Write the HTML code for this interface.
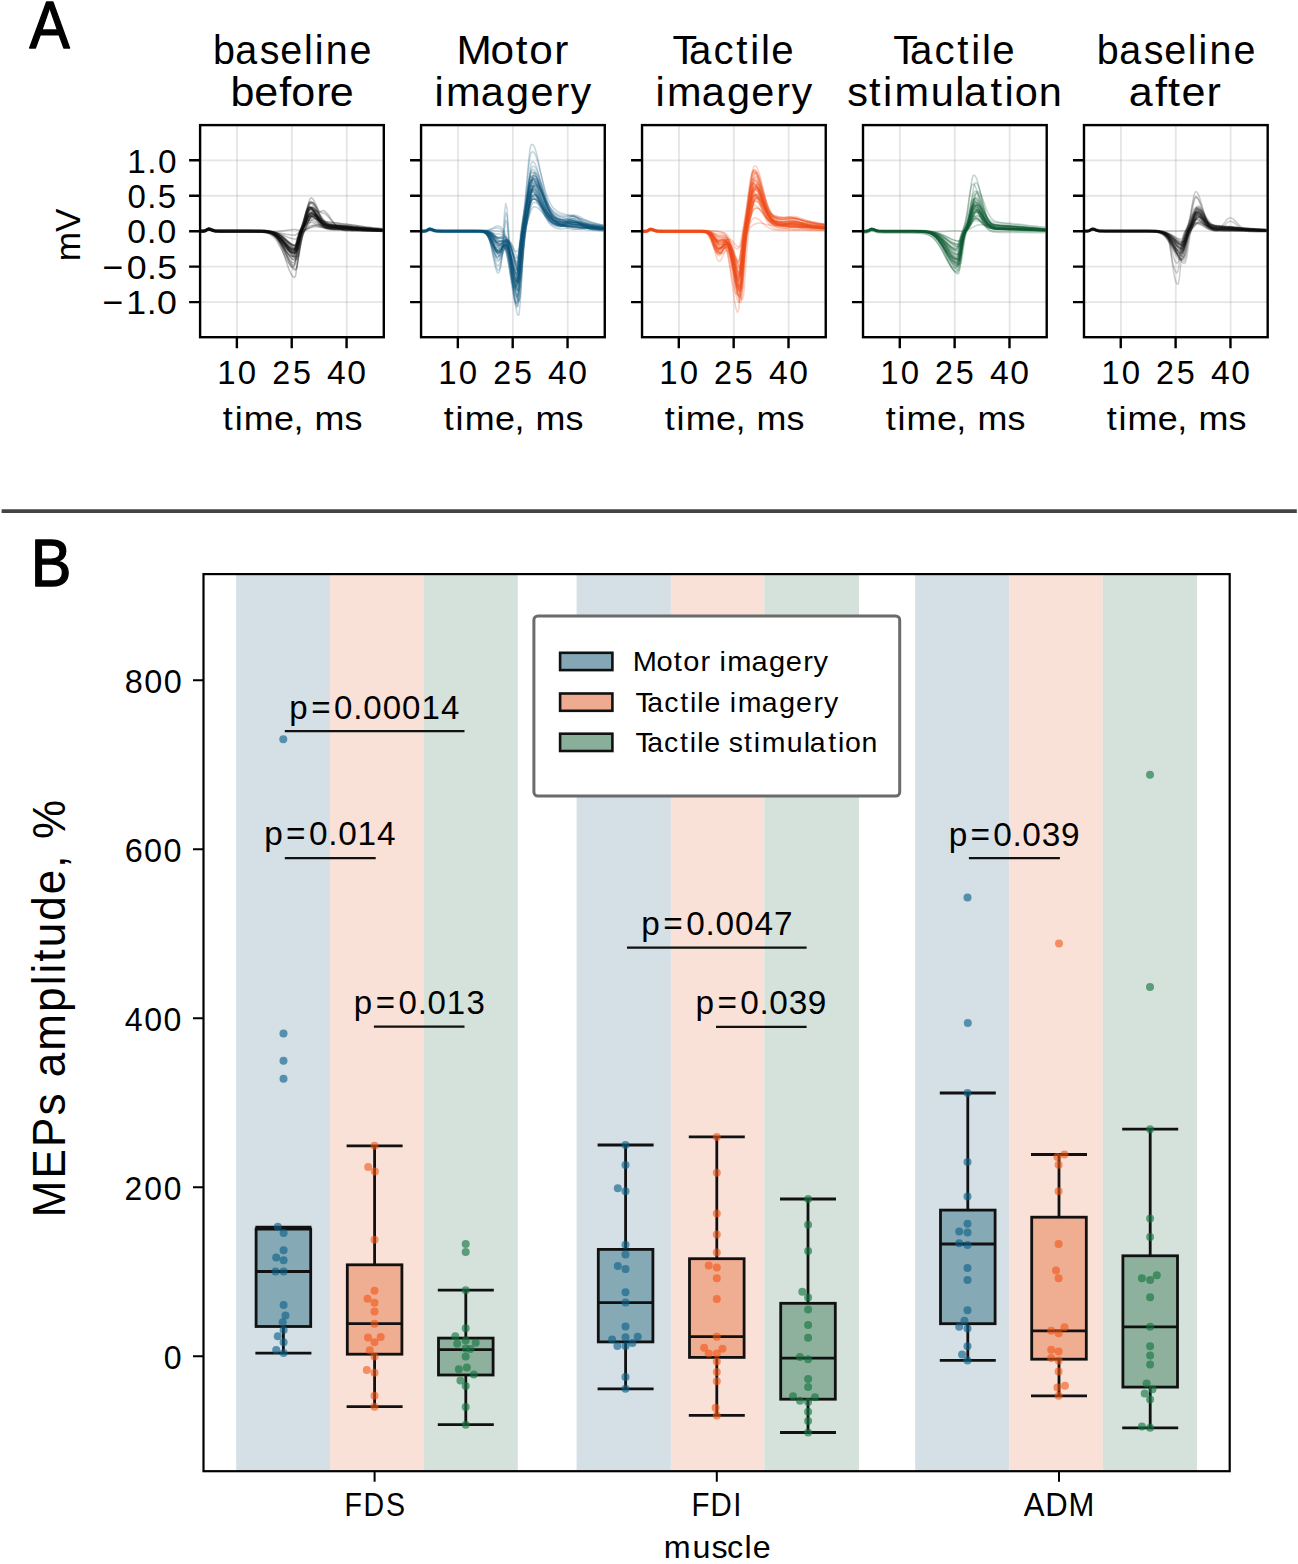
<!DOCTYPE html><html><head><meta charset="utf-8"><style>html,body{margin:0;padding:0;background:#fff;overflow:hidden;}svg{display:block;}text{font-family:"Liberation Sans",sans-serif;font-kerning:none;}</style></head><body>
<svg width="1298" height="1564" viewBox="0 0 1298 1564">
<rect width="1298" height="1564" fill="#fff"/>
<text transform="translate(29.5,47.7) scale(0.91,1)" x="-0.13" font-size="66.28" fill="#000" stroke="#000" stroke-width="1.4" stroke-linejoin="round">A</text>
<text transform="translate(211.53,64.2) scale(0.98,1)" x="1.49 24.21 49.28 70.2 94.34 105.24 116.44 140.89" font-size="40.26" fill="#000">baseline</text>
<text transform="translate(230.16,106.2) scale(1.07,1)" x="0.35 22.59 45.86 57.07 80.48 93.01" font-size="40.26" fill="#000">before</text>
<path d="M237.02 125.1V337.2M291.88 125.1V337.2M346.73 125.1V337.2" stroke="#b0b0b0" stroke-opacity="0.33" stroke-width="1.8" fill="none"/>
<path d="M200.1 160.3H383.8M200.1 195.75H383.8M200.1 231.2H383.8M200.1 266.65H383.8M200.1 302.1H383.8" stroke="#b0b0b0" stroke-opacity="0.33" stroke-width="1.8" fill="none"/>
<g fill="none" stroke="#111111" stroke-width="1.5" stroke-opacity="0.26" stroke-linejoin="round">
<polyline points="200.3,232 203.2,231.9 205.4,231.5 207.2,230.4 208.7,229.8 210.5,230.2 212.4,231 214.9,231.7 222.2,232 236.9,232 251.5,232 258.8,232 260.6,232.1 261.8,232.1 263.1,232.2 264.3,232.3 265.5,232.4 266.7,232.6 267.9,232.9 269.1,233.2 270.3,233.5 271.5,234 272.7,234.6 273.9,235.3 275.1,236.1 276.3,237 277.5,238.1 278.7,239.2 279.9,240.5 281.2,241.9 282.4,243.3 283.6,244.8 284.8,246.2 286,247.6 287.2,248.9 288.4,250.1 289.6,251 290.8,251.7 292,252.2 293.2,252.4 294.4,251.2 295.6,247.2 296.8,241.9 298.1,236.9 299.3,232.9 300.5,229.6 301.7,226.5 302.9,222.9 304.1,218.8 305.3,214.5 306.5,210.8 307.7,208.4 308.9,207.8 310.1,208 311.3,208.9 312.5,210.3 313.7,212.1 314.9,214.3 316.2,216.6 317.4,218.8 318.6,220.8 319.8,222.6 321,224.2 322.2,225.4 323.4,226.3 324.6,227.1 325.8,227.6 327,228 328.2,228.2 329.4,228.4 330.6,228.6 331.8,228.7 333,228.8 336.3,228.9 339.6,229.1 342.9,229.3 346.2,229.5 349.5,229.7 352.8,229.8 356.1,230 359.4,230.2 362.7,230.4 366,230.6 369.3,230.7 372.5,230.9 375.8,231 379.1,231.2 382.4,231.3"/>
<polyline points="200.3,231.9 203.2,231.9 205.4,231.5 207.2,230.4 208.7,229.8 210.5,230.2 212.4,231 214.9,231.7 222.2,231.9 236.9,231.9 251.5,231.9 258.8,232 260.6,232 261.8,232 263.1,232.1 264.3,232.2 265.5,232.2 266.7,232.4 267.9,232.5 269.1,232.7 270.3,233 271.5,233.4 272.7,233.8 273.9,234.3 275.1,235 276.3,235.7 277.5,236.6 278.7,237.6 279.9,238.7 281.2,239.9 282.4,241.2 283.6,242.6 284.8,244 286,245.4 287.2,246.7 288.4,248 289.6,249.1 290.8,250.1 292,250.8 293.2,251.3 294.4,251.5 295.6,251 296.8,247.7 298.1,242.7 299.3,237.7 300.5,233.6 301.7,230.3 302.9,227.2 304.1,223.7 305.3,219.7 306.5,215.4 307.7,211.4 308.9,208.7 310.1,207.8 311.3,208 312.5,208.8 313.7,210.2 314.9,212.1 316.2,214.3 317.4,216.7 318.6,219 319.8,221.1 321,223 322.2,224.7 323.4,226 324.6,227 325.8,227.8 327,228.4 328.2,228.8 329.4,229.1 330.6,229.3 331.8,229.4 333,229.5 336.3,229.7 339.6,229.8 342.9,230 346.2,230.1 349.5,230.2 352.8,230.4 356.1,230.5 359.4,230.6 362.7,230.8 366,230.9 369.3,231 372.5,231.1 375.8,231.2 379.1,231.3 382.4,231.4"/>
<polyline points="200.3,231.3 203.2,231.2 205.4,230.8 207.2,229.7 208.7,229.1 210.5,229.5 212.4,230.3 214.9,231 222.2,231.3 236.9,231.3 251.5,231.3 258.8,231.3 260.6,231.3 261.8,231.3 263.1,231.4 264.3,231.4 265.5,231.5 266.7,231.6 267.9,231.7 269.1,231.9 270.3,232.1 271.5,232.4 272.7,232.8 273.9,233.2 275.1,233.8 276.3,234.4 277.5,235.2 278.7,236.1 279.9,237.1 281.2,238.2 282.4,239.5 283.6,240.8 284.8,242.2 286,243.6 287.2,245 288.4,246.3 289.6,247.5 290.8,248.6 292,249.6 293.2,250.3 294.4,250.7 295.6,250.9 296.8,249.9 298.1,246.1 299.3,241 300.5,236 301.7,231.9 302.9,228.3 304.1,224.8 305.3,220.6 306.5,215.8 307.7,210.8 308.9,206.3 310.1,203.3 311.3,202.3 312.5,202.4 313.7,203.2 314.9,204.7 316.2,206.7 317.4,209.1 318.6,211.8 319.8,214.4 321,216.7 322.2,218.8 323.4,220.6 324.6,222 325.8,223.2 327,224 328.2,224.7 329.4,225.1 330.6,225.5 331.8,225.7 333,225.9 336.3,226.2 339.6,226.5 342.9,226.8 346.2,227 349.5,227.3 352.8,227.6 356.1,228 359.4,228.3 362.7,228.6 366,228.8 369.3,229.1 372.5,229.4 375.8,229.6 379.1,229.8 382.4,230"/>
<polyline points="200.3,231.8 203.2,231.8 205.4,231.4 207.2,230.3 208.7,229.7 210.5,230.1 212.4,230.9 214.9,231.6 222.2,231.8 236.9,231.8 251.5,231.8 258.8,231.9 260.6,231.9 261.8,231.9 263.1,231.9 264.3,231.9 265.5,231.9 266.7,231.9 267.9,232 269.1,232 270.3,232 271.5,232.1 272.7,232.2 273.9,232.3 275.1,232.4 276.3,232.5 277.5,232.7 278.7,232.8 279.9,233 281.2,233.2 282.4,233.5 283.6,233.7 284.8,233.9 286,234.2 287.2,234.4 288.4,234.6 289.6,234.8 290.8,235 292,235.1 293.2,235.1 294.4,235.2 295.6,234.9 296.8,234.2 298.1,233.2 299.3,232.2 300.5,231.1 301.7,229.8 302.9,228.1 304.1,225.9 305.3,223.3 306.5,220.6 307.7,218.2 308.9,216.6 310.1,216.1 311.3,216.1 312.5,216.6 313.7,217.4 314.9,218.5 316.2,219.8 317.4,221.3 318.6,222.7 319.8,223.9 321,225.1 322.2,226 323.4,226.8 324.6,227.4 325.8,227.9 327,228.2 328.2,228.5 329.4,228.6 330.6,228.8 331.8,228.9 333,228.9 336.3,229.1 339.6,229.3 342.9,229.4 346.2,229.6 349.5,229.7 352.8,229.9 356.1,230.1 359.4,230.2 362.7,230.4 366,230.6 369.3,230.7 372.5,230.9 375.8,231 379.1,231.1 382.4,231.2"/>
<polyline points="200.3,231 203.2,231 205.4,230.6 207.2,229.5 208.7,228.9 210.5,229.3 212.4,230.1 214.9,230.8 222.2,231 236.9,231 251.5,231 258.8,231.1 260.6,231.1 261.8,231.2 263.1,231.2 264.3,231.3 265.5,231.4 266.7,231.5 267.9,231.7 269.1,231.9 270.3,232.2 271.5,232.6 272.7,233.1 273.9,233.6 275.1,234.3 276.3,235.2 277.5,236.1 278.7,237.2 279.9,238.5 281.2,239.8 282.4,241.3 283.6,242.8 284.8,244.4 286,246 287.2,247.5 288.4,249 289.6,250.3 290.8,251.4 292,252.3 293.2,252.9 294.4,253.2 295.6,252.9 296.8,249.7 298.1,244.3 299.3,238.8 300.5,234.3 301.7,231 302.9,228.5 304.1,226.1 305.3,223.6 306.5,220.8 307.7,218.2 308.9,216.1 310.1,215.1 311.3,214.9 312.5,215.1 313.7,215.7 314.9,216.6 316.2,217.7 317.4,219.1 318.6,220.5 319.8,221.8 321,222.9 322.2,223.9 323.4,224.8 324.6,225.4 325.8,225.9 327,226.3 328.2,226.6 329.4,226.8 330.6,227 331.8,227.1 333,227.2 336.3,227.4 339.6,227.6 342.9,227.8 346.2,228 349.5,228.2 352.8,228.4 356.1,228.7 359.4,228.9 362.7,229.1 366,229.3 369.3,229.5 372.5,229.7 375.8,229.9 379.1,230 382.4,230.2"/>
<polyline points="200.3,230.8 203.2,230.8 205.4,230.4 207.2,229.3 208.7,228.7 210.5,229.1 212.4,229.8 214.9,230.6 222.2,230.8 236.9,230.8 251.5,230.8 258.8,230.8 260.6,230.8 261.8,230.9 263.1,230.9 264.3,230.9 265.5,231 266.7,231.1 267.9,231.2 269.1,231.3 270.3,231.5 271.5,231.7 272.7,231.9 273.9,232.3 275.1,232.7 276.3,233.2 277.5,233.8 278.7,234.4 279.9,235.2 281.2,236.1 282.4,237 283.6,238 284.8,239 286,240.1 287.2,241.1 288.4,242.1 289.6,243.1 290.8,243.9 292,244.6 293.2,245.1 294.4,245.5 295.6,245.6 296.8,244.8 298.1,242 299.3,238.2 300.5,234.5 301.7,231.6 302.9,229.2 304.1,226.8 305.3,224.1 306.5,221 307.7,217.8 308.9,215 310.1,213.2 311.3,212.8 312.5,213.1 313.7,213.8 314.9,215 316.2,216.4 317.4,218.1 318.6,219.9 319.8,221.6 321,223.2 322.2,224.6 323.4,225.7 324.6,226.7 325.8,227.4 327,228 328.2,228.4 329.4,228.7 330.6,228.9 331.8,229 333,229.1 336.3,229.3 339.6,229.4 342.9,229.4 346.2,229.5 349.5,229.6 352.8,229.7 356.1,229.8 359.4,229.9 362.7,230 366,230.1 369.3,230.2 372.5,230.2 375.8,230.3 379.1,230.4 382.4,230.4"/>
<polyline points="200.3,231.6 203.2,231.6 205.4,231.2 207.2,230.1 208.7,229.5 210.5,229.9 212.4,230.7 214.9,231.4 222.2,231.6 236.9,231.6 251.5,231.6 258.8,231.7 260.6,231.8 261.8,231.9 263.1,232 264.3,232.1 265.5,232.3 266.7,232.5 267.9,232.8 269.1,233.2 270.3,233.7 271.5,234.3 272.7,235 273.9,235.8 275.1,236.8 276.3,238 277.5,239.3 278.7,240.8 279.9,242.3 281.2,244 282.4,245.8 283.6,247.5 284.8,249.3 286,250.9 287.2,252.5 288.4,253.8 289.6,254.9 290.8,255.7 292,256.2 293.2,256.3 294.4,254.2 295.6,249 296.8,242.7 298.1,237.4 299.3,233.7 300.5,231.3 301.7,229.6 302.9,228.2 304.1,226.7 305.3,225.3 306.5,224 307.7,223.1 308.9,222.6 310.1,222.4 311.3,222.4 312.5,222.6 313.7,223 314.9,223.5 316.2,224.2 317.4,224.8 318.6,225.4 319.8,225.9 321,226.3 322.2,226.6 323.4,226.9 324.6,227.1 325.8,227.3 327,227.4 328.2,227.5 329.4,227.6 330.6,227.7 331.8,227.8 333,227.8 336.3,228 339.6,228.2 342.9,228.4 346.2,228.6 349.5,228.9 352.8,229.1 356.1,229.3 359.4,229.6 362.7,229.8 366,230 369.3,230.2 372.5,230.4 375.8,230.5 379.1,230.7 382.4,230.8"/>
<polyline points="200.3,232 203.2,231.9 205.4,231.5 207.2,230.4 208.7,229.8 210.5,230.2 212.4,231 214.9,231.7 222.2,232 236.9,232 251.5,232 258.8,231.9 260.6,231.9 261.8,231.9 263.1,231.9 264.3,231.9 265.5,231.9 266.7,231.9 267.9,231.9 269.1,231.9 270.3,231.8 271.5,231.8 272.7,231.7 273.9,231.7 275.1,231.6 276.3,231.5 277.5,231.4 278.7,231.3 279.9,231.2 281.2,231 282.4,230.9 283.6,230.7 284.8,230.6 286,230.4 287.2,230.2 288.4,230.1 289.6,229.9 290.8,229.8 292,229.7 293.2,229.6 294.4,229.6 295.6,229.5 296.8,229.8 298.1,230.1 299.3,230.4 300.5,230.3 301.7,229.7 302.9,228.3 304.1,226.3 305.3,223.5 306.5,220.4 307.7,217.3 308.9,214.8 310.1,213.4 311.3,213.1 312.5,213.2 313.7,213.7 314.9,214.6 316.2,215.9 317.4,217.4 318.6,219 319.8,220.5 321,221.9 322.2,223 323.4,224 324.6,224.8 325.8,225.4 327,225.8 328.2,226.2 329.4,226.4 330.6,226.6 331.8,226.8 333,226.9 336.3,227.2 339.6,227.4 342.9,227.7 346.2,227.9 349.5,228.2 352.8,228.5 356.1,228.8 359.4,229.1 362.7,229.4 366,229.7 369.3,229.9 372.5,230.2 375.8,230.4 379.1,230.6 382.4,230.8"/>
<polyline points="200.3,231.1 203.2,231.1 205.4,230.7 207.2,229.6 208.7,229 210.5,229.4 212.4,230.2 214.9,230.9 222.2,231.1 236.9,231.1 251.5,231.1 258.8,231.2 260.6,231.2 261.8,231.2 263.1,231.3 264.3,231.4 265.5,231.5 266.7,231.6 267.9,231.7 269.1,232 270.3,232.2 271.5,232.6 272.7,233 273.9,233.5 275.1,234.1 276.3,234.8 277.5,235.7 278.7,236.6 279.9,237.6 281.2,238.8 282.4,240 283.6,241.3 284.8,242.6 286,243.9 287.2,245.1 288.4,246.3 289.6,247.3 290.8,248.1 292,248.8 293.2,249.2 294.4,249.3 295.6,248.3 296.8,244.7 298.1,240 299.3,235.6 300.5,232.2 301.7,229.5 302.9,227.1 304.1,224.4 305.3,221.5 306.5,218.4 307.7,215.6 308.9,213.8 310.1,213.1 311.3,213 312.5,213.4 313.7,214.2 314.9,215.3 316.2,216.7 317.4,218.3 318.6,219.8 319.8,221.2 321,222.4 322.2,223.5 323.4,224.3 324.6,225 325.8,225.5 327,225.9 328.2,226.2 329.4,226.4 330.6,226.5 331.8,226.7 333,226.8 336.3,227 339.6,227.2 342.9,227.4 346.2,227.7 349.5,227.9 352.8,228.2 356.1,228.4 359.4,228.7 362.7,229 366,229.2 369.3,229.4 372.5,229.6 375.8,229.8 379.1,230 382.4,230.2"/>
<polyline points="200.3,231.5 203.2,231.5 205.4,231.1 207.2,229.9 208.7,229.4 210.5,229.7 212.4,230.5 214.9,231.3 222.2,231.5 236.9,231.5 251.5,231.5 258.8,231.5 260.6,231.6 261.8,231.6 263.1,231.7 264.3,231.8 265.5,231.9 266.7,232.1 267.9,232.3 269.1,232.5 270.3,232.9 271.5,233.3 272.7,233.8 273.9,234.4 275.1,235.1 276.3,236 277.5,236.9 278.7,238 279.9,239.2 281.2,240.4 282.4,241.7 283.6,243.1 284.8,244.5 286,245.8 287.2,247 288.4,248.1 289.6,249 290.8,249.7 292,250.2 293.2,250.4 294.4,249.8 295.6,246.6 296.8,241.9 298.1,237.2 299.3,233.5 300.5,230.8 301.7,228.7 302.9,226.6 304.1,224.3 305.3,221.9 306.5,219.6 307.7,217.8 308.9,216.8 310.1,216.3 311.3,216.2 312.5,216.4 313.7,216.9 314.9,217.7 316.2,218.7 317.4,219.8 318.6,220.8 319.8,221.7 321,222.4 322.2,223.1 323.4,223.6 324.6,224 325.8,224.3 327,224.6 328.2,224.7 329.4,224.9 330.6,225 331.8,225.2 333,225.3 336.3,225.6 339.6,225.9 342.9,226.2 346.2,226.6 349.5,226.9 352.8,227.3 356.1,227.7 359.4,228.1 362.7,228.4 366,228.8 369.3,229.1 372.5,229.4 375.8,229.7 379.1,229.9 382.4,230.2"/>
<polyline points="200.3,230.6 203.2,230.6 205.4,230.2 207.2,229.1 208.7,228.5 210.5,228.9 212.4,229.7 214.9,230.4 222.2,230.6 236.9,230.6 251.5,230.6 258.8,230.7 260.6,230.7 261.8,230.7 263.1,230.8 264.3,230.8 265.5,230.9 266.7,231 267.9,231.2 269.1,231.4 270.3,231.7 271.5,232 272.7,232.4 273.9,233 275.1,233.6 276.3,234.4 277.5,235.3 278.7,236.4 279.9,237.6 281.2,238.9 282.4,240.4 283.6,242 284.8,243.6 286,245.3 287.2,246.9 288.4,248.5 289.6,250 290.8,251.3 292,252.4 293.2,253.2 294.4,253.8 295.6,254 296.8,252.7 298.1,248.2 299.3,242.3 300.5,236.6 301.7,232.1 302.9,228.6 304.1,225.4 305.3,221.8 306.5,217.8 307.7,213.6 308.9,209.9 310.1,207.5 311.3,206.8 312.5,207 313.7,207.9 314.9,209.3 316.2,211.1 317.4,213.2 318.6,215.5 319.8,217.7 321,219.7 322.2,221.5 323.4,223 324.6,224.2 325.8,225.1 327,225.9 328.2,226.4 329.4,226.8 330.6,227 331.8,227.2 333,227.4 336.3,227.6 339.6,227.8 342.9,227.9 346.2,228.1 349.5,228.3 352.8,228.5 356.1,228.6 359.4,228.8 362.7,229 366,229.2 369.3,229.4 372.5,229.5 375.8,229.7 379.1,229.8 382.4,229.9"/>
<polyline points="200.3,231.6 203.2,231.6 205.4,231.2 207.2,230.1 208.7,229.5 210.5,229.9 212.4,230.7 214.9,231.4 222.2,231.6 236.9,231.6 251.5,231.6 258.8,231.7 260.6,231.7 261.8,231.7 263.1,231.8 264.3,231.8 265.5,231.9 266.7,231.9 267.9,232.1 269.1,232.2 270.3,232.4 271.5,232.6 272.7,232.9 273.9,233.3 275.1,233.8 276.3,234.3 277.5,234.9 278.7,235.6 279.9,236.3 281.2,237.2 282.4,238.1 283.6,239 284.8,240 286,240.9 287.2,241.9 288.4,242.7 289.6,243.5 290.8,244.2 292,244.7 293.2,245 294.4,245.1 295.6,244.6 296.8,242.2 298.1,238.7 299.3,235.2 300.5,232.2 301.7,229.6 302.9,226.9 304.1,223.8 305.3,220.2 306.5,216.3 307.7,212.7 308.9,210.2 310.1,209.3 311.3,209.3 312.5,209.8 313.7,210.9 314.9,212.4 316.2,214.3 317.4,216.3 318.6,218.3 319.8,220.1 321,221.8 322.2,223.2 323.4,224.3 324.6,225.2 325.8,225.9 327,226.4 328.2,226.8 329.4,227.1 330.6,227.3 331.8,227.4 333,227.5 336.3,227.7 339.6,228 342.9,228.2 346.2,228.4 349.5,228.6 352.8,228.9 356.1,229.1 359.4,229.4 362.7,229.6 366,229.8 369.3,230 372.5,230.2 375.8,230.4 379.1,230.6 382.4,230.7"/>
<polyline points="200.3,230.9 203.2,230.9 205.4,230.5 207.2,229.3 208.7,228.8 210.5,229.1 212.4,229.9 214.9,230.7 222.2,230.9 236.9,230.9 251.5,230.9 258.8,230.9 260.6,230.9 261.8,231 263.1,231 264.3,231 265.5,231.1 266.7,231.2 267.9,231.3 269.1,231.5 270.3,231.7 271.5,232 272.7,232.4 273.9,232.8 275.1,233.4 276.3,234 277.5,234.8 278.7,235.7 279.9,236.7 281.2,237.8 282.4,239 283.6,240.3 284.8,241.7 286,243.1 287.2,244.5 288.4,245.9 289.6,247.1 290.8,248.2 292,249.2 293.2,249.9 294.4,250.4 295.6,250.6 296.8,249.7 298.1,246.1 299.3,241 300.5,236 301.7,231.8 302.9,228.3 304.1,224.8 305.3,220.7 306.5,215.9 307.7,210.9 308.9,206.4 310.1,203.4 311.3,202.5 312.5,202.7 313.7,203.7 314.9,205.4 316.2,207.5 317.4,210.1 318.6,212.8 319.8,215.4 321,217.9 322.2,220.1 323.4,221.9 324.6,223.4 325.8,224.6 327,225.4 328.2,226.1 329.4,226.6 330.6,226.9 331.8,227.1 333,227.3 336.3,227.6 339.6,227.7 342.9,227.9 346.2,228.1 349.5,228.3 352.8,228.5 356.1,228.7 359.4,228.9 362.7,229.1 366,229.3 369.3,229.5 372.5,229.6 375.8,229.8 379.1,230 382.4,230.1"/>
<polyline points="200.3,231.5 203.2,231.5 205.4,231.1 207.2,230 208.7,229.4 210.5,229.8 212.4,230.6 214.9,231.3 222.2,231.5 236.9,231.5 251.5,231.5 258.8,231.6 260.6,231.6 261.8,231.6 263.1,231.7 264.3,231.7 265.5,231.8 266.7,231.9 267.9,232.1 269.1,232.3 270.3,232.5 271.5,232.8 272.7,233.3 273.9,233.8 275.1,234.4 276.3,235.1 277.5,236 278.7,236.9 279.9,238.1 281.2,239.3 282.4,240.7 283.6,242.1 284.8,243.6 286,245.1 287.2,246.6 288.4,248 289.6,249.3 290.8,250.5 292,251.4 293.2,252.1 294.4,252.5 295.6,252.7 296.8,251 298.1,246.5 299.3,241 300.5,236.1 301.7,232.3 302.9,229.4 304.1,226.7 305.3,223.7 306.5,220.3 307.7,216.9 308.9,214 310.1,212.2 311.3,211.7 312.5,211.8 313.7,212.4 314.9,213.4 316.2,214.8 317.4,216.4 318.6,218.2 319.8,219.9 321,221.4 322.2,222.8 323.4,223.9 324.6,224.8 325.8,225.6 327,226.1 328.2,226.5 329.4,226.8 330.6,227 331.8,227.2 333,227.3 336.3,227.5 339.6,227.8 342.9,228 346.2,228.2 349.5,228.4 352.8,228.7 356.1,228.9 359.4,229.2 362.7,229.4 366,229.6 369.3,229.9 372.5,230.1 375.8,230.2 379.1,230.4 382.4,230.6"/>
<polyline points="200.3,230.6 203.2,230.6 205.4,230.2 207.2,229.1 208.7,228.5 210.5,228.9 212.4,229.7 214.9,230.4 222.2,230.6 236.9,230.6 251.5,230.7 258.8,230.7 260.6,230.8 261.8,230.9 263.1,230.9 264.3,231.1 265.5,231.2 266.7,231.5 267.9,231.7 269.1,232.1 270.3,232.6 271.5,233.2 272.7,233.9 273.9,234.7 275.1,235.7 276.3,236.9 277.5,238.2 278.7,239.7 279.9,241.4 281.2,243.1 282.4,245 283.6,246.9 284.8,248.7 286,250.6 287.2,252.3 288.4,253.8 289.6,255.1 290.8,256.1 292,256.7 293.2,257 294.4,256.2 295.6,251.8 296.8,245.2 298.1,238.6 299.3,233.4 300.5,229.5 301.7,226.2 302.9,222.8 304.1,219 305.3,215 306.5,211.3 307.7,208.5 308.9,207.3 310.1,207.1 311.3,207.4 312.5,208.3 313.7,209.6 314.9,211.4 316.2,213.3 317.4,215.3 318.6,217.2 319.8,218.8 321,220.2 322.2,221.4 323.4,222.3 324.6,223 325.8,223.5 327,223.9 328.2,224.2 329.4,224.4 330.6,224.6 331.8,224.7 333,224.9 336.3,225.2 339.6,225.5 342.9,225.8 346.2,226.1 349.5,226.4 352.8,226.8 356.1,227.1 359.4,227.5 362.7,227.8 366,228.1 369.3,228.4 372.5,228.7 375.8,229 379.1,229.2 382.4,229.4"/>
<polyline points="200.3,230.8 203.2,230.7 205.4,230.3 207.2,229.2 208.7,228.6 210.5,229 212.4,229.8 214.9,230.5 222.2,230.8 236.9,230.8 251.5,230.8 258.8,230.8 260.6,230.8 261.8,230.8 263.1,230.8 264.3,230.9 265.5,230.9 266.7,231 267.9,231.1 269.1,231.3 270.3,231.4 271.5,231.7 272.7,232 273.9,232.3 275.1,232.8 276.3,233.3 277.5,234 278.7,234.7 279.9,235.6 281.2,236.5 282.4,237.6 283.6,238.7 284.8,239.9 286,241.1 287.2,242.4 288.4,243.6 289.6,244.7 290.8,245.7 292,246.6 293.2,247.3 294.4,247.8 295.6,248 296.8,247.8 298.1,245.3 299.3,241 300.5,236.5 301.7,232.7 302.9,229.6 304.1,226.8 305.3,223.6 306.5,220 307.7,216 308.9,212.2 310.1,209.4 311.3,208 312.5,207.8 313.7,208.3 314.9,209.2 316.2,210.7 317.4,212.5 318.6,214.5 319.8,216.6 321,218.6 322.2,220.3 323.4,221.8 324.6,223 325.8,224 327,224.8 328.2,225.3 329.4,225.8 330.6,226.1 331.8,226.3 333,226.4 336.3,226.7 339.6,226.9 342.9,227.1 346.2,227.4 349.5,227.6 352.8,227.8 356.1,228.1 359.4,228.3 362.7,228.6 366,228.8 369.3,229 372.5,229.2 375.8,229.4 379.1,229.6 382.4,229.8"/>
<polyline points="200.3,231.1 203.2,231 205.4,230.6 207.2,229.5 208.7,228.9 210.5,229.3 212.4,230.1 214.9,230.8 222.2,231.1 236.9,231.1 251.5,231.1 258.8,231.1 260.6,231.1 261.8,231.1 263.1,231.2 264.3,231.2 265.5,231.3 266.7,231.4 267.9,231.5 269.1,231.6 270.3,231.9 271.5,232.2 272.7,232.5 273.9,233 275.1,233.6 276.3,234.3 277.5,235.1 278.7,236.1 279.9,237.3 281.2,238.6 282.4,240 283.6,241.6 284.8,243.4 286,245.2 287.2,247 288.4,248.9 289.6,250.6 290.8,252.3 292,253.8 293.2,255 294.4,256 295.6,256.6 296.8,256.9 298.1,256 299.3,251.5 300.5,245.1 301.7,238.8 302.9,234 304.1,230.7 305.3,228.2 306.5,225.8 307.7,223.4 308.9,220.8 310.1,218.4 311.3,216.5 312.5,215.5 313.7,215 314.9,214.9 316.2,215.2 317.4,215.8 318.6,216.7 319.8,217.8 321,218.9 322.2,220 323.4,221 324.6,221.8 325.8,222.4 327,223 328.2,223.4 329.4,223.7 330.6,224 331.8,224.2 333,224.4 336.3,224.7 339.6,225 342.9,225.3 346.2,225.7 349.5,226 352.8,226.4 356.1,226.8 359.4,227.2 362.7,227.5 366,227.9 369.3,228.3 372.5,228.6 375.8,228.9 379.1,229.2 382.4,229.5"/>
<polyline points="200.3,230.2 203.2,230.2 205.4,229.8 207.2,228.6 208.7,228.1 210.5,228.4 212.4,229.2 214.9,230 222.2,230.2 236.9,230.2 251.5,230.2 258.8,230.2 260.6,230.2 261.8,230.3 263.1,230.3 264.3,230.3 265.5,230.4 266.7,230.4 267.9,230.5 269.1,230.7 270.3,230.9 271.5,231.1 272.7,231.4 273.9,231.7 275.1,232.2 276.3,232.7 277.5,233.3 278.7,234 279.9,234.9 281.2,235.8 282.4,236.8 283.6,237.9 284.8,239 286,240.2 287.2,241.4 288.4,242.5 289.6,243.6 290.8,244.6 292,245.4 293.2,246 294.4,246.5 295.6,246.7 296.8,246.3 298.1,243.7 299.3,239.7 300.5,235.5 301.7,232.2 302.9,229.7 304.1,227.9 305.3,226.1 306.5,224.1 307.7,222 308.9,219.9 310.1,218.2 311.3,217.1 312.5,216.5 313.7,216.2 314.9,216.1 316.2,216.4 317.4,216.9 318.6,217.7 319.8,218.6 321,219.4 322.2,220.1 323.4,220.7 324.6,221.3 325.8,221.7 327,222.1 328.2,222.3 329.4,222.5 330.6,222.7 331.8,222.9 333,223 336.3,223.3 339.6,223.7 342.9,224 346.2,224.4 349.5,224.8 352.8,225.2 356.1,225.6 359.4,226.1 362.7,226.5 366,226.9 369.3,227.2 372.5,227.6 375.8,227.9 379.1,228.2 382.4,228.5"/>
<polyline points="200.3,231.3 203.2,231.2 205.4,230.8 207.2,229.7 208.7,229.1 210.5,229.5 212.4,230.3 214.9,231 222.2,231.3 236.9,231.3 251.5,231.3 258.8,231.3 260.6,231.3 261.8,231.3 263.1,231.4 264.3,231.4 265.5,231.5 266.7,231.6 267.9,231.8 269.1,231.9 270.3,232.2 271.5,232.5 272.7,232.8 273.9,233.3 275.1,233.8 276.3,234.4 277.5,235.2 278.7,236 279.9,237 281.2,238.1 282.4,239.2 283.6,240.4 284.8,241.7 286,242.9 287.2,244.1 288.4,245.3 289.6,246.3 290.8,247.2 292,247.9 293.2,248.4 294.4,248.7 295.6,248.6 296.8,246.2 298.1,242.1 299.3,237.6 300.5,233.8 301.7,230.8 302.9,228.4 304.1,225.8 305.3,222.9 306.5,219.7 307.7,216.6 308.9,214.2 310.1,213.1 311.3,213 312.5,213.4 313.7,214.2 314.9,215.4 316.2,216.9 317.4,218.6 318.6,220.3 319.8,221.9 321,223.3 322.2,224.5 323.4,225.6 324.6,226.4 325.8,227 327,227.5 328.2,227.8 329.4,228.1 330.6,228.2 331.8,228.4 333,228.4 336.3,228.6 339.6,228.8 342.9,228.9 346.2,229.1 349.5,229.2 352.8,229.4 356.1,229.5 359.4,229.7 362.7,229.9 366,230 369.3,230.2 372.5,230.3 375.8,230.4 379.1,230.5 382.4,230.6"/>
<polyline points="200.3,230.4 203.2,230.4 205.4,230 207.2,228.9 208.7,228.3 210.5,228.7 212.4,229.5 214.9,230.2 222.2,230.4 236.9,230.4 251.5,230.4 258.8,230.5 260.6,230.5 261.8,230.5 263.1,230.5 264.3,230.6 265.5,230.6 266.7,230.7 267.9,230.8 269.1,231 270.3,231.1 271.5,231.4 272.7,231.7 273.9,232 275.1,232.5 276.3,233 277.5,233.6 278.7,234.3 279.9,235.1 281.2,235.9 282.4,236.9 283.6,237.9 284.8,238.9 286,240 287.2,241 288.4,242 289.6,242.9 290.8,243.7 292,244.3 293.2,244.8 294.4,245 295.6,245 296.8,243.5 298.1,240.2 299.3,236.3 300.5,232.7 301.7,229.8 302.9,227.1 304.1,224.2 305.3,220.7 306.5,216.8 307.7,212.9 308.9,209.7 310.1,207.9 311.3,207.5 312.5,207.8 313.7,208.7 314.9,210 316.2,211.8 317.4,213.8 318.6,215.9 319.8,217.9 321,219.7 322.2,221.2 323.4,222.6 324.6,223.6 325.8,224.4 327,225 328.2,225.5 329.4,225.8 330.6,226.1 331.8,226.2 333,226.4 336.3,226.6 339.6,226.8 342.9,227 346.2,227.2 349.5,227.5 352.8,227.7 356.1,227.9 359.4,228.2 362.7,228.4 366,228.6 369.3,228.8 372.5,229 375.8,229.2 379.1,229.4 382.4,229.5"/>
<polyline points="200.3,232.2 203.2,232.2 205.4,231.8 207.2,230.7 208.7,230.1 210.5,230.5 212.4,231.2 214.9,232 222.2,232.2 236.9,232.2 251.5,232.2 258.8,232.3 260.6,232.3 261.8,232.3 263.1,232.4 264.3,232.5 265.5,232.6 266.7,232.7 267.9,232.9 269.1,233.1 270.3,233.4 271.5,233.7 272.7,234.2 273.9,234.7 275.1,235.3 276.3,236.1 277.5,236.9 278.7,237.9 279.9,238.9 281.2,240 282.4,241.2 283.6,242.4 284.8,243.6 286,244.8 287.2,246 288.4,247 289.6,247.9 290.8,248.6 292,249.1 293.2,249.3 294.4,249.2 295.6,246.9 296.8,242.8 298.1,238.2 299.3,234.3 300.5,231.1 301.7,228 302.9,224.7 304.1,220.7 305.3,216.3 306.5,212.1 307.7,208.8 308.9,207.2 310.1,207.1 311.3,207.7 312.5,208.9 313.7,210.6 314.9,212.6 316.2,214.9 317.4,217.3 318.6,219.5 319.8,221.5 321,223.2 322.2,224.6 323.4,225.8 324.6,226.6 325.8,227.3 327,227.7 328.2,228.1 329.4,228.3 330.6,228.5 331.8,228.6 333,228.7 336.3,228.9 339.6,229.1 342.9,229.3 346.2,229.5 349.5,229.7 352.8,229.9 356.1,230.1 359.4,230.3 362.7,230.5 366,230.7 369.3,230.9 372.5,231 375.8,231.2 379.1,231.3 382.4,231.5"/>
<polyline points="200.3,231.8 203.2,231.7 205.4,231.3 207.2,230.2 208.7,229.6 210.5,230 212.4,230.8 214.9,231.5 222.2,231.8 236.9,231.8 251.5,231.8 258.8,231.8 260.6,231.9 261.8,231.9 263.1,232 264.3,232.1 265.5,232.2 266.7,232.4 267.9,232.6 269.1,232.9 270.3,233.3 271.5,233.8 272.7,234.3 273.9,235 275.1,235.8 276.3,236.7 277.5,237.8 278.7,239 279.9,240.3 281.2,241.8 282.4,243.2 283.6,244.8 284.8,246.3 286,247.8 287.2,249.2 288.4,250.5 289.6,251.5 290.8,252.4 292,252.9 293.2,253.2 294.4,252.8 295.6,249.5 296.8,244.1 298.1,238.7 299.3,234.1 300.5,230.6 301.7,227.6 302.9,224.4 304.1,220.8 305.3,216.8 306.5,213.1 307.7,210.3 308.9,208.9 310.1,208.5 311.3,208.8 312.5,209.6 313.7,210.9 314.9,212.5 316.2,214.4 317.4,216.4 318.6,218.2 319.8,219.8 321,221.2 322.2,222.4 323.4,223.3 324.6,224 325.8,224.6 327,225 328.2,225.3 329.4,225.5 330.6,225.7 331.8,225.8 333,225.9 336.3,226.2 339.6,226.5 342.9,226.8 346.2,227.2 349.5,227.5 352.8,227.9 356.1,228.2 359.4,228.6 362.7,228.9 366,229.2 369.3,229.5 372.5,229.8 375.8,230.1 379.1,230.3 382.4,230.5"/>
<polyline points="200.3,230.7 203.2,230.7 205.4,230.3 207.2,229.2 208.7,228.6 210.5,229 212.4,229.8 214.9,230.5 222.2,230.7 236.9,230.7 251.5,230.7 258.8,230.8 260.6,230.8 261.8,230.8 263.1,230.9 264.3,230.9 265.5,231 266.7,231.1 267.9,231.3 269.1,231.5 270.3,231.7 271.5,232.1 272.7,232.5 273.9,232.9 275.1,233.5 276.3,234.2 277.5,235 278.7,235.9 279.9,237 281.2,238.1 282.4,239.3 283.6,240.6 284.8,241.9 286,243.2 287.2,244.4 288.4,245.6 289.6,246.7 290.8,247.6 292,248.3 293.2,248.8 294.4,249 295.6,248.6 296.8,245.7 298.1,241.3 299.3,236.7 300.5,233 301.7,230.3 302.9,228.1 304.1,225.8 305.3,223.2 306.5,220.5 307.7,218 308.9,216.2 310.1,215.6 311.3,215.8 312.5,216.4 313.7,217.3 314.9,218.6 316.2,220 317.4,221.5 318.6,223 319.8,224.4 321,225.7 322.2,226.7 323.4,227.6 324.6,228.3 325.8,228.8 327,229.1 328.2,229.4 329.4,229.6 330.6,229.7 331.8,229.8 333,229.9 336.3,230 339.6,230 342.9,230 346.2,230.1 349.5,230.1 352.8,230.2 356.1,230.2 359.4,230.3 362.7,230.3 366,230.4 369.3,230.4 372.5,230.5 375.8,230.5 379.1,230.5 382.4,230.6"/>
<polyline points="200.3,231.1 203.2,231.1 205.4,230.7 207.2,229.5 208.7,228.9 210.5,229.3 212.4,230.1 214.9,230.9 222.2,231.1 236.9,231.1 251.5,231.1 258.8,231.1 260.6,231.1 261.8,231.1 263.1,231.1 264.3,231.1 265.5,231.2 266.7,231.2 267.9,231.3 269.1,231.4 270.3,231.5 271.5,231.6 272.7,231.8 273.9,232.1 275.1,232.4 276.3,232.7 277.5,233.2 278.7,233.7 279.9,234.4 281.2,235.1 282.4,235.9 283.6,236.9 284.8,237.9 286,238.9 287.2,240 288.4,241.1 289.6,242.2 290.8,243.3 292,244.2 293.2,245 294.4,245.7 295.6,246.2 296.8,246.5 298.1,246.6 299.3,245.1 300.5,241.7 301.7,237.7 302.9,234.3 304.1,231.7 305.3,229.7 306.5,228 307.7,226.2 308.9,224.1 310.1,222.1 311.3,220.4 312.5,219.3 313.7,218.9 314.9,218.9 316.2,219.2 317.4,219.7 318.6,220.5 319.8,221.4 321,222.4 322.2,223.4 323.4,224.3 324.6,225 325.8,225.7 327,226.2 328.2,226.6 329.4,226.9 330.6,227.2 331.8,227.3 333,227.5 336.3,227.7 339.6,227.9 342.9,228 346.2,228.2 349.5,228.4 352.8,228.6 356.1,228.8 359.4,229 362.7,229.2 366,229.4 369.3,229.6 372.5,229.8 375.8,229.9 379.1,230.1 382.4,230.2"/>
<polyline points="200.3,231.2 203.2,231.2 205.4,230.8 207.2,229.7 208.7,229.1 210.5,229.5 212.4,230.3 214.9,231 222.2,231.2 236.9,231.2 251.5,231.2 258.8,231.3 260.6,231.3 261.8,231.3 263.1,231.3 264.3,231.3 265.5,231.4 266.7,231.4 267.9,231.5 269.1,231.6 270.3,231.7 271.5,231.9 272.7,232.1 273.9,232.4 275.1,232.7 276.3,233.1 277.5,233.7 278.7,234.3 279.9,235 281.2,235.9 282.4,236.9 283.6,237.9 284.8,239.1 286,240.4 287.2,241.7 288.4,243 289.6,244.3 290.8,245.6 292,246.7 293.2,247.8 294.4,248.6 295.6,249.2 296.8,249.6 298.1,249.8 299.3,248.5 300.5,244.8 301.7,239.9 302.9,235.5 304.1,231.9 305.3,229.1 306.5,226.5 307.7,223.5 308.9,220.2 310.1,216.7 311.3,213.7 312.5,211.6 313.7,210.8 314.9,210.6 316.2,210.9 317.4,211.7 318.6,212.9 319.8,214.4 321,216.1 322.2,217.7 323.4,219.2 324.6,220.6 325.8,221.7 327,222.6 328.2,223.4 329.4,223.9 330.6,224.3 331.8,224.6 333,224.9 336.3,225.3 339.6,225.6 342.9,225.9 346.2,226.2 349.5,226.5 352.8,226.9 356.1,227.2 359.4,227.6 362.7,227.9 366,228.3 369.3,228.6 372.5,228.9 375.8,229.2 379.1,229.5 382.4,229.7"/>
<polyline points="200.3,230.4 203.2,230.4 205.4,230 207.2,228.8 208.7,228.3 210.5,228.6 212.4,229.4 214.9,230.2 222.2,230.4 236.9,230.4 251.5,230.4 258.8,230.4 260.6,230.4 261.8,230.5 263.1,230.5 264.3,230.5 265.5,230.6 266.7,230.7 267.9,230.8 269.1,231 270.3,231.3 271.5,231.6 272.7,232 273.9,232.5 275.1,233.1 276.3,233.9 277.5,234.8 278.7,235.9 279.9,237.1 281.2,238.6 282.4,240.2 283.6,241.9 284.8,243.8 286,245.8 287.2,247.9 288.4,249.9 289.6,251.9 290.8,253.8 292,255.4 293.2,256.8 294.4,257.9 295.6,258.7 296.8,259 298.1,258.3 299.3,253.7 300.5,246.7 301.7,239.7 302.9,234.2 304.1,230.5 305.3,227.7 306.5,225.3 307.7,222.7 308.9,220 310.1,217.4 311.3,215.5 312.5,214.6 313.7,214.3 314.9,214.4 316.2,214.8 317.4,215.6 318.6,216.7 319.8,218 321,219.3 322.2,220.5 323.4,221.6 324.6,222.5 325.8,223.2 327,223.8 328.2,224.3 329.4,224.7 330.6,224.9 331.8,225.1 333,225.3 336.3,225.6 339.6,225.8 342.9,226.1 346.2,226.3 349.5,226.6 352.8,226.9 356.1,227.2 359.4,227.5 362.7,227.7 366,228 369.3,228.3 372.5,228.5 375.8,228.8 379.1,229 382.4,229.2"/>
<polyline points="200.3,231.5 203.2,231.5 205.4,231.1 207.2,230 208.7,229.4 210.5,229.8 212.4,230.6 214.9,231.3 222.2,231.5 236.9,231.5 251.5,231.5 258.8,231.6 260.6,231.6 261.8,231.6 263.1,231.7 264.3,231.7 265.5,231.8 266.7,231.9 267.9,232.1 269.1,232.2 270.3,232.5 271.5,232.8 272.7,233.2 273.9,233.7 275.1,234.3 276.3,235 277.5,235.8 278.7,236.8 279.9,237.8 281.2,239.1 282.4,240.4 283.6,241.8 284.8,243.3 286,244.8 287.2,246.3 288.4,247.7 289.6,249 290.8,250.2 292,251.2 293.2,251.9 294.4,252.4 295.6,252.6 296.8,251.4 298.1,247.3 299.3,242.1 300.5,237.3 301.7,233.9 302.9,231.8 304.1,230.5 305.3,229.4 306.5,228.4 307.7,227.5 308.9,226.5 310.1,225.9 311.3,225.5 312.5,225.3 313.7,225.2 314.9,225.3 316.2,225.5 317.4,225.8 318.6,226.2 319.8,226.6 321,226.9 322.2,227.3 323.4,227.6 324.6,227.8 325.8,228 327,228.1 328.2,228.2 329.4,228.3 330.6,228.4 331.8,228.5 333,228.5 336.3,228.7 339.6,228.8 342.9,229 346.2,229.1 349.5,229.3 352.8,229.5 356.1,229.7 359.4,229.8 362.7,230 366,230.2 369.3,230.3 372.5,230.5 375.8,230.6 379.1,230.7 382.4,230.9"/>
<polyline points="200.3,231.2 203.2,231.1 205.4,230.7 207.2,229.6 208.7,229 210.5,229.4 212.4,230.2 214.9,230.9 222.2,231.2 236.9,231.2 251.5,231.2 258.8,231.2 260.6,231.2 261.8,231.3 263.1,231.3 264.3,231.4 265.5,231.5 266.7,231.6 267.9,231.8 269.1,232.1 270.3,232.3 271.5,232.7 272.7,233.2 273.9,233.7 275.1,234.4 276.3,235.2 277.5,236.1 278.7,237.1 279.9,238.2 281.2,239.4 282.4,240.7 283.6,242 284.8,243.3 286,244.7 287.2,245.9 288.4,247.1 289.6,248.1 290.8,248.9 292,249.5 293.2,249.8 294.4,249.9 295.6,248.1 296.8,243.9 298.1,239.1 299.3,234.8 300.5,231.6 301.7,229.1 302.9,226.8 304.1,224.2 305.3,221.4 306.5,218.6 307.7,216.2 308.9,214.7 310.1,214.2 311.3,214.1 312.5,214.5 313.7,215.2 314.9,216.2 316.2,217.5 317.4,218.9 318.6,220.2 319.8,221.5 321,222.5 322.2,223.4 323.4,224.1 324.6,224.7 325.8,225.1 327,225.5 328.2,225.7 329.4,225.9 330.6,226 331.8,226.2 333,226.3 336.3,226.5 339.6,226.7 342.9,227 346.2,227.3 349.5,227.6 352.8,227.9 356.1,228.2 359.4,228.4 362.7,228.7 366,229 369.3,229.2 372.5,229.5 375.8,229.7 379.1,229.9 382.4,230.1"/>
<polyline points="200.3,231.5 203.2,231.4 205.4,231 207.2,229.9 208.7,229.3 210.5,229.7 212.4,230.5 214.9,231.2 222.2,231.5 236.9,231.5 251.5,231.5 258.8,231.5 260.6,231.6 261.8,231.6 263.1,231.7 264.3,231.8 265.5,231.9 266.7,232 267.9,232.2 269.1,232.5 270.3,232.8 271.5,233.2 272.7,233.8 273.9,234.4 275.1,235.2 276.3,236.1 277.5,237.1 278.7,238.3 279.9,239.6 281.2,241 282.4,242.5 283.6,244.1 284.8,245.7 286,247.3 287.2,248.8 288.4,250.2 289.6,251.4 290.8,252.5 292,253.2 293.2,253.7 294.4,253.9 295.6,252.4 296.8,247.9 298.1,242.1 299.3,236.8 300.5,232.6 301.7,229.4 302.9,226.4 304.1,223.2 305.3,219.6 306.5,215.8 307.7,212.5 308.9,210.4 310.1,209.6 311.3,209.6 312.5,210.1 313.7,211.2 314.9,212.6 316.2,214.3 317.4,216.2 318.6,218.1 319.8,219.8 321,221.3 322.2,222.5 323.4,223.5 324.6,224.3 325.8,225 327,225.4 328.2,225.8 329.4,226 330.6,226.2 331.8,226.3 333,226.4 336.3,226.7 339.6,227 342.9,227.2 346.2,227.5 349.5,227.8 352.8,228.1 356.1,228.4 359.4,228.7 362.7,229 366,229.2 369.3,229.5 372.5,229.8 375.8,230 379.1,230.2 382.4,230.4"/>
<polyline points="200.3,231.3 203.2,231.3 205.4,230.9 207.2,229.8 208.7,229.2 210.5,229.6 212.4,230.3 214.9,231.1 222.2,231.3 236.9,231.3 251.5,231.3 258.8,231.4 260.6,231.4 261.8,231.5 263.1,231.6 264.3,231.7 265.5,231.9 266.7,232.1 267.9,232.4 269.1,232.8 270.3,233.3 271.5,233.9 272.7,234.7 273.9,235.6 275.1,236.8 276.3,238.1 277.5,239.6 278.7,241.4 279.9,243.3 281.2,245.5 282.4,247.7 283.6,250.1 284.8,252.5 286,255 287.2,257.3 288.4,259.4 289.6,261.3 290.8,262.9 292,264.1 293.2,264.9 294.4,265.2 295.6,263.5 296.8,257.1 298.1,248.5 299.3,240.3 300.5,233.9 301.7,229.1 302.9,224.9 304.1,220.5 305.3,215.5 306.5,210.3 307.7,205.7 308.9,202.6 310.1,201.5 311.3,201.5 312.5,202.3 313.7,203.8 314.9,205.8 316.2,208.2 317.4,210.9 318.6,213.5 319.8,216 321,218.1 322.2,219.9 323.4,221.4 324.6,222.5 325.8,223.4 327,224.1 328.2,224.5 329.4,224.9 330.6,225.1 331.8,225.3 333,225.5 336.3,225.8 339.6,226.1 342.9,226.4 346.2,226.7 349.5,227 352.8,227.4 356.1,227.7 359.4,228.1 362.7,228.4 366,228.7 369.3,229 372.5,229.3 375.8,229.6 379.1,229.8 382.4,230"/>
<polyline points="200.3,230 203.2,229.9 205.4,229.5 207.2,228.4 208.7,227.8 210.5,228.2 212.4,229 214.9,229.7 222.2,230 236.9,230 251.5,230 258.8,230 260.6,230.1 261.8,230.2 263.1,230.3 264.3,230.4 265.5,230.6 266.7,230.8 267.9,231.1 269.1,231.5 270.3,232 271.5,232.7 272.7,233.5 273.9,234.4 275.1,235.6 276.3,236.9 277.5,238.5 278.7,240.2 279.9,242.2 281.2,244.3 282.4,246.5 283.6,248.8 284.8,251.2 286,253.5 287.2,255.7 288.4,257.8 289.6,259.6 290.8,261 292,262.1 293.2,262.7 294.4,262.9 295.6,260.1 296.8,253 298.1,244.7 299.3,237.3 300.5,232 301.7,228.3 302.9,225.2 304.1,222.1 305.3,218.7 306.5,215.4 307.7,212.6 308.9,210.8 310.1,210.3 311.3,210.4 312.5,211 313.7,212.1 314.9,213.4 316.2,215 317.4,216.8 318.6,218.4 319.8,220 321,221.3 322.2,222.4 323.4,223.3 324.6,224 325.8,224.5 327,224.9 328.2,225.2 329.4,225.4 330.6,225.6 331.8,225.7 333,225.8 336.3,226 339.6,226.2 342.9,226.4 346.2,226.7 349.5,226.9 352.8,227.2 356.1,227.4 359.4,227.7 362.7,227.9 366,228.1 369.3,228.3 372.5,228.5 375.8,228.7 379.1,228.9 382.4,229.1"/>
<polyline points="200.3,231.1 203.2,231.1 205.4,230.7 207.2,229.5 208.7,229 210.5,229.3 212.4,230.1 214.9,230.9 222.2,231.1 236.9,231.1 251.5,231.1 258.8,231.1 260.6,231.2 261.8,231.2 263.1,231.3 264.3,231.4 265.5,231.5 266.7,231.7 267.9,231.9 269.1,232.2 270.3,232.6 271.5,233.1 272.7,233.7 273.9,234.4 275.1,235.3 276.3,236.4 277.5,237.6 278.7,239 279.9,240.6 281.2,242.4 282.4,244.3 283.6,246.3 284.8,248.4 286,250.5 287.2,252.6 288.4,254.5 289.6,256.3 290.8,257.8 292,259 293.2,259.9 294.4,260.4 295.6,260.3 296.8,256.8 298.1,250 299.3,242.8 300.5,237 301.7,233.3 302.9,231.3 304.1,230.3 305.3,229.7 306.5,229.2 307.7,228.6 308.9,228 310.1,227.4 311.3,226.8 312.5,226.2 313.7,225.7 314.9,225.3 316.2,225 317.4,224.8 318.6,224.8 319.8,224.9 321,224.9 322.2,224.9 323.4,224.9 324.6,225 325.8,225 327,225 328.2,225.1 329.4,225.2 330.6,225.2 331.8,225.3 333,225.4 336.3,225.6 339.6,225.9 342.9,226.2 346.2,226.5 349.5,226.8 352.8,227.2 356.1,227.5 359.4,227.8 362.7,228.2 366,228.5 369.3,228.8 372.5,229.1 375.8,229.3 379.1,229.6 382.4,229.8"/>
<polyline points="200.3,230.6 203.2,230.5 205.4,230.1 207.2,229 208.7,228.4 210.5,228.8 212.4,229.6 214.9,230.3 222.2,230.6 236.9,230.6 251.5,230.6 258.8,230.7 260.6,230.7 261.8,230.8 263.1,230.9 264.3,231 265.5,231.2 266.7,231.4 267.9,231.7 269.1,232 270.3,232.5 271.5,233 272.7,233.7 273.9,234.5 275.1,235.4 276.3,236.4 277.5,237.6 278.7,239 279.9,240.4 281.2,241.9 282.4,243.4 283.6,245 284.8,246.5 286,248 287.2,249.3 288.4,250.5 289.6,251.4 290.8,252 292,252.4 293.2,252.4 294.4,249.8 295.6,244.7 296.8,239.2 298.1,234.6 299.3,231.4 300.5,229.3 301.7,227.6 302.9,226 304.1,224.4 305.3,222.7 306.5,221.1 307.7,219.9 308.9,219 310.1,218.3 311.3,217.9 312.5,217.7 313.7,217.8 314.9,218.2 316.2,218.7 317.4,219.3 318.6,219.8 319.8,220.2 321,220.6 322.2,220.9 323.4,221.1 324.6,221.4 325.8,221.6 327,221.7 328.2,221.9 329.4,222 330.6,222.1 331.8,222.3 333,222.4 336.3,222.8 339.6,223.2 342.9,223.7 346.2,224.1 349.5,224.6 352.8,225.1 356.1,225.6 359.4,226.1 362.7,226.6 366,227.1 369.3,227.5 372.5,227.9 375.8,228.2 379.1,228.6 382.4,228.9"/>
<polyline points="200.3,232.1 203.2,232.1 205.4,231.7 207.2,230.5 208.7,230 210.5,230.3 212.4,231.1 214.9,231.9 222.2,232.1 236.9,232.1 251.5,232.1 258.8,232.1 260.6,232.2 261.8,232.2 263.1,232.2 264.3,232.3 265.5,232.4 266.7,232.5 267.9,232.7 269.1,232.9 270.3,233.2 271.5,233.6 272.7,234.1 273.9,234.6 275.1,235.3 276.3,236.2 277.5,237.2 278.7,238.3 279.9,239.6 281.2,241.1 282.4,242.6 283.6,244.3 284.8,246 286,247.8 287.2,249.5 288.4,251.2 289.6,252.8 290.8,254.1 292,255.2 293.2,256.1 294.4,256.6 295.6,256.8 296.8,255.1 298.1,250.1 299.3,244 300.5,238.5 301.7,234.8 302.9,232.6 304.1,231.4 305.3,230.5 306.5,229.8 307.7,229.1 308.9,228.5 310.1,227.9 311.3,227.5 312.5,227.1 313.7,226.9 314.9,226.7 316.2,226.7 317.4,226.8 318.6,227 319.8,227.2 321,227.4 322.2,227.5 323.4,227.7 324.6,227.8 325.8,227.9 327,228 328.2,228.1 329.4,228.1 330.6,228.2 331.8,228.3 333,228.3 336.3,228.5 339.6,228.7 342.9,228.8 346.2,229.1 349.5,229.3 352.8,229.5 356.1,229.7 359.4,229.9 362.7,230.1 366,230.4 369.3,230.6 372.5,230.7 375.8,230.9 379.1,231.1 382.4,231.2"/>
<polyline points="200.3,230.3 203.2,230.2 205.4,229.8 207.2,228.7 208.7,228.1 210.5,228.5 212.4,229.3 214.9,230 222.2,230.3 236.9,230.3 251.5,230.3 258.8,230.3 260.6,230.4 261.8,230.4 263.1,230.5 264.3,230.6 265.5,230.8 266.7,231 267.9,231.2 269.1,231.6 270.3,232.1 271.5,232.7 272.7,233.4 273.9,234.4 275.1,235.5 276.3,236.9 277.5,238.5 278.7,240.3 279.9,242.4 281.2,244.7 282.4,247.3 283.6,250 284.8,252.8 286,255.6 287.2,258.5 288.4,261.2 289.6,263.7 290.8,265.9 292,267.7 293.2,269.1 294.4,270 295.6,270.3 296.8,267.7 298.1,259.7 299.3,249.6 300.5,240.7 301.7,234.3 302.9,230.3 304.1,227.6 305.3,225.3 306.5,223 307.7,220.8 308.9,218.7 310.1,217.3 311.3,216.6 312.5,216.3 313.7,216.3 314.9,216.6 316.2,217.2 317.4,218.1 318.6,219.1 319.8,220.1 321,221 322.2,221.8 323.4,222.5 324.6,223 325.8,223.5 327,223.8 328.2,224.1 329.4,224.3 330.6,224.5 331.8,224.6 333,224.7 336.3,225 339.6,225.2 342.9,225.5 346.2,225.8 349.5,226.1 352.8,226.5 356.1,226.8 359.4,227.1 362.7,227.4 366,227.7 369.3,228 372.5,228.3 375.8,228.5 379.1,228.8 382.4,229"/>
<polyline points="200.3,231.8 203.2,231.7 205.4,231.3 207.2,230.2 208.7,229.6 210.5,230 212.4,230.8 214.9,231.5 222.2,231.8 236.9,231.8 251.5,231.8 258.8,231.9 260.6,232 261.8,232.1 263.1,232.2 264.3,232.4 265.5,232.6 266.7,232.9 267.9,233.3 269.1,233.8 270.3,234.5 271.5,235.3 272.7,236.3 273.9,237.4 275.1,238.8 276.3,240.4 277.5,242.2 278.7,244.3 279.9,246.5 281.2,248.8 282.4,251.3 283.6,253.8 284.8,256.3 286,258.8 287.2,261 288.4,263 289.6,264.6 290.8,265.9 292,266.7 293.2,267 294.4,265.3 295.6,258.6 296.8,249.7 298.1,241.3 299.3,234.9 300.5,230.4 301.7,226.6 302.9,222.8 304.1,218.7 305.3,214.4 306.5,210.6 307.7,208 308.9,207.1 310.1,207.1 311.3,207.7 312.5,208.9 313.7,210.6 314.9,212.5 316.2,214.7 317.4,216.9 318.6,218.9 319.8,220.6 321,222.1 322.2,223.3 323.4,224.3 324.6,225 325.8,225.5 327,225.9 328.2,226.2 329.4,226.4 330.6,226.6 331.8,226.7 333,226.8 336.3,227.1 339.6,227.3 342.9,227.6 346.2,227.9 349.5,228.2 352.8,228.5 356.1,228.8 359.4,229.1 362.7,229.4 366,229.6 369.3,229.9 372.5,230.1 375.8,230.3 379.1,230.5 382.4,230.7"/>
<polyline points="200.3,230.5 203.2,230.5 205.4,230.1 207.2,228.9 208.7,228.4 210.5,228.7 212.4,229.5 214.9,230.3 222.2,230.5 236.9,230.5 251.5,230.5 258.8,230.6 260.6,230.6 261.8,230.7 263.1,230.8 264.3,230.9 265.5,231.1 266.7,231.3 267.9,231.6 269.1,231.9 270.3,232.4 271.5,233 272.7,233.7 273.9,234.6 275.1,235.6 276.3,236.9 277.5,238.2 278.7,239.8 279.9,241.5 281.2,243.4 282.4,245.4 283.6,247.4 284.8,249.5 286,251.5 287.2,253.4 288.4,255.1 289.6,256.6 290.8,257.8 292,258.7 293.2,259.2 294.4,259.1 295.6,255.6 296.8,249 298.1,241.9 299.3,236.1 300.5,232.2 301.7,229.7 302.9,227.8 304.1,226.1 305.3,224.4 306.5,222.7 307.7,221.3 308.9,220.6 310.1,220.3 311.3,220.3 312.5,220.5 313.7,221 314.9,221.6 316.2,222.4 317.4,223.2 318.6,224 319.8,224.7 321,225.4 322.2,225.9 323.4,226.3 324.6,226.6 325.8,226.9 327,227 328.2,227.2 329.4,227.3 330.6,227.4 331.8,227.4 333,227.5 336.3,227.7 339.6,227.8 342.9,228 346.2,228.1 349.5,228.3 352.8,228.5 356.1,228.7 359.4,228.8 362.7,229 366,229.2 369.3,229.3 372.5,229.5 375.8,229.6 379.1,229.7 382.4,229.8"/>
<polyline points="200.3,231.8 203.2,231.7 205.4,231.3 207.2,230.2 208.7,229.6 210.5,230 212.4,230.8 214.9,231.5 222.2,231.8 236.9,231.8 251.5,231.8 258.8,231.8 260.6,231.8 261.8,231.8 263.1,231.8 264.3,231.8 265.5,231.8 266.7,231.9 267.9,231.9 269.1,232 270.3,232.1 271.5,232.2 272.7,232.3 273.9,232.5 275.1,232.7 276.3,232.9 277.5,233.2 278.7,233.6 279.9,233.9 281.2,234.4 282.4,234.8 283.6,235.3 284.8,235.8 286,236.4 287.2,236.9 288.4,237.4 289.6,237.8 290.8,238.3 292,238.6 293.2,238.9 294.4,239 295.6,239.1 296.8,238.6 298.1,237.2 299.3,235.2 300.5,233.2 301.7,231.4 302.9,229.7 304.1,227.7 305.3,225.2 306.5,222.4 307.7,219.3 308.9,216.6 310.1,214.8 311.3,214.1 312.5,214.1 313.7,214.6 314.9,215.4 316.2,216.6 317.4,218 318.6,219.5 319.8,221.1 321,222.5 322.2,223.7 323.4,224.8 324.6,225.6 325.8,226.3 327,226.8 328.2,227.2 329.4,227.5 330.6,227.7 331.8,227.8 333,227.9 336.3,228.1 339.6,228.3 342.9,228.5 346.2,228.7 349.5,228.9 352.8,229.2 356.1,229.4 359.4,229.6 362.7,229.8 366,230 369.3,230.2 372.5,230.4 375.8,230.6 379.1,230.7 382.4,230.9"/>
<polyline points="200.3,230.4 203.2,230.4 205.4,230 207.2,228.8 208.7,228.3 210.5,228.6 212.4,229.4 214.9,230.2 222.2,230.4 236.9,230.4 251.5,230.4 258.8,230.4 260.6,230.5 261.8,230.5 263.1,230.6 264.3,230.6 265.5,230.8 266.7,231 267.9,231.2 269.1,231.6 270.3,232.1 271.5,232.7 272.7,233.5 273.9,234.6 275.1,235.9 276.3,237.5 277.5,239.4 278.7,241.6 279.9,244.2 281.2,247.1 282.4,250.3 283.6,253.7 284.8,257.3 286,260.9 287.2,264.5 288.4,267.8 289.6,270.9 290.8,273.5 292,275.5 293.2,276.9 294.4,277.5 295.6,275.9 296.8,267.7 298.1,256 299.3,244.7 300.5,236.1 301.7,230 302.9,225.3 304.1,220.8 305.3,216 306.5,210.9 307.7,206.5 308.9,203.5 310.1,202.8 311.3,203.3 312.5,204.6 313.7,206.4 314.9,208.3 316.2,210.1 317.4,211.4 318.6,212 319.8,211.9 321,211.3 322.2,210.7 323.4,210.5 324.6,211.1 325.8,212.1 327,213.4 328.2,214.8 329.4,216.5 330.6,218.2 331.8,220 333,221.7 336.3,225.8 339.6,228.4 342.9,229.7 346.2,230.2 349.5,230.3 352.8,230.4 356.1,230.4 359.4,230.4 362.7,230.4 366,230.4 369.3,230.4 372.5,230.4 375.8,230.4 379.1,230.4 382.4,230.4"/>
<polyline points="200.3,231.2 203.2,231.1 205.4,230.7 207.2,229.6 208.7,229 210.5,229.4 212.4,230.2 214.9,230.9 222.2,231.2 236.9,231.2 251.5,231.2 258.8,231.2 260.6,231.2 261.8,231.2 263.1,231.2 264.3,231.3 265.5,231.4 266.7,231.5 267.9,231.6 269.1,231.8 270.3,232.1 271.5,232.5 272.7,233 273.9,233.6 275.1,234.5 276.3,235.5 277.5,236.8 278.7,238.3 279.9,240.1 281.2,242.2 282.4,244.5 283.6,247 284.8,249.8 286,252.7 287.2,255.6 288.4,258.4 289.6,261.1 290.8,263.6 292,265.7 293.2,267.3 294.4,268.4 295.6,268.9 296.8,267.7 298.1,261.2 299.3,251.7 300.5,242.5 301.7,235.1 302.9,229.5 304.1,224.7 305.3,219.6 306.5,213.8 307.7,207.7 308.9,202.3 310.1,198.7 311.3,197.8 312.5,198.5 313.7,200.1 314.9,202.4 316.2,205.1 317.4,207.7 318.6,210 319.8,211.6 321,212.5 322.2,212.9 323.4,213.1 324.6,213.5 325.8,214.4 327,215.5 328.2,216.8 329.4,218.1 330.6,219.5 331.8,221 333,222.5 336.3,226.2 339.6,228.8 342.9,230.3 346.2,230.9 349.5,231.1 352.8,231.1 356.1,231.1 359.4,231.2 362.7,231.2 366,231.2 369.3,231.2 372.5,231.2 375.8,231.2 379.1,231.2 382.4,231.2"/>
</g>
<rect x="200.1" y="125.1" width="183.7" height="212.1" fill="none" stroke="#000" stroke-width="2.4"/>
<path d="M189.1 160.3H200.1M189.1 195.75H200.1M189.1 231.2H200.1M189.1 266.65H200.1M189.1 302.1H200.1M236.87 337.2V348.2M291.72 337.2V348.2M346.58 337.2V348.2" stroke="#000" stroke-width="2.4" fill="none"/>
<text transform="translate(216.51,384.1) scale(0.97,1)" x="0.85 22" font-size="34.01" fill="#000">10</text>
<text transform="translate(271.37,384.1) scale(0.95,1)" x="0.85 22.69" font-size="34.01" fill="#000">25</text>
<text transform="translate(326.22,384.1) scale(0.99,1)" x="0.8 21.33" font-size="34.01" fill="#000">40</text>
<text transform="translate(221.71,429.9) scale(1.07,1)" x="1.09 12.1 20.56 48.86 67.06 67.06 86.84 114.83" font-size="33.55" fill="#000">time, ms</text>
<text transform="translate(457.44,64.2) scale(1.04,1)" x="-0.99 31.89 55.99 68.99 93.09" font-size="40.69" fill="#000">Motor</text>
<text transform="translate(433.86,106.2) scale(1.03,1)" x="0.73 11.9 45.58 70.09 93.72 118 132.67" font-size="40.26" fill="#000">imagery</text>
<path d="M457.99 125.1V337.2M512.85 125.1V337.2M567.7 125.1V337.2" stroke="#b0b0b0" stroke-opacity="0.33" stroke-width="1.8" fill="none"/>
<path d="M421.07 160.3H604.77M421.07 195.75H604.77M421.07 231.2H604.77M421.07 266.65H604.77M421.07 302.1H604.77" stroke="#b0b0b0" stroke-opacity="0.33" stroke-width="1.8" fill="none"/>
<g fill="none" stroke="#0c5279" stroke-width="1.5" stroke-opacity="0.24" stroke-linejoin="round">
<polyline points="421.3,231.5 424.2,231.4 426.4,231 428.2,229.9 429.7,229.3 431.5,229.7 433.3,230.5 435.9,231.2 443.2,231.5 457.8,231.5 472.5,231.5 479.8,231.5 481.6,231.6 482.8,231.7 484,231.9 485.2,232.4 486.4,233.1 487.6,234.2 488.9,235.7 490.1,237.9 491.3,240.6 492.5,243.8 493.7,247.2 494.9,250.4 496.1,253.1 497.3,254.8 498.5,255.5 499.7,254.9 500.9,253.3 502.1,251.1 503.3,249.2 504.5,248.2 505.7,248.8 507,251.2 508.2,255.7 509.4,262.1 510.6,270 511.8,278.6 513,287.3 514.2,294.9 515.4,300.7 516.6,303.8 517.8,303.1 519,292.4 520.2,274.6 521.4,256 522.6,241.1 523.8,230.8 525.1,223.8 526.3,218.2 527.5,212.9 528.7,207.9 529.9,203.5 531.1,200.5 532.3,199.3 533.5,199 534.7,199.2 535.9,199.8 537.1,200.9 538.3,202.4 539.5,204.1 540.7,206 542,207.8 543.2,209.7 544.4,211.5 545.6,213.1 546.8,214.7 548,216 549.2,217.3 550.4,218.3 551.6,219.2 552.8,220 554,220.6 557.3,221.8 560.6,222.5 563.9,222.7 567.2,222.7 570.5,222.5 573.8,222.6 577.1,223.3 580.3,224.1 583.6,225 586.9,225.8 590.2,226.5 593.5,227 596.8,227.4 600.1,227.8 603.4,228.2"/>
<polyline points="421.3,230.8 424.2,230.7 426.4,230.4 428.2,229.2 429.7,228.6 431.5,229 433.3,229.8 435.9,230.6 443.2,230.8 457.8,230.8 472.5,230.8 479.8,230.8 481.6,230.8 482.8,230.8 484,230.8 485.2,230.9 486.4,231 487.6,231.3 488.9,231.7 490.1,232.3 491.3,233.2 492.5,234.3 493.7,235.8 494.9,237.5 496.1,239.3 497.3,241 498.5,242.4 499.7,243.4 500.9,243.7 502.1,243.3 503.3,242.4 504.5,241.3 505.7,240.3 507,239.9 508.2,240.4 509.4,241.9 510.6,244.6 511.8,248.3 513,252.8 514.2,257.7 515.4,262.5 516.6,266.7 517.8,269.8 519,271.4 520.2,270.5 521.4,263.8 522.6,253.1 523.8,241.7 525.1,231.8 526.3,223.3 527.5,215.2 528.7,206.5 529.9,196.9 531.1,187.3 532.3,179.2 533.5,174 534.7,172.8 535.9,173.1 537.1,174.3 538.3,176.4 539.5,179.2 540.7,182.6 542,186.3 543.2,190.3 544.4,194.4 545.6,198.4 546.8,202.2 548,205.8 549.2,209.1 550.4,212 551.6,214.6 552.8,216.7 554,218.6 557.3,222 560.6,223.9 563.9,225 567.2,226.1 570.5,227.3 573.8,228.5 577.1,229 580.3,228.9 583.6,228.4 586.9,228 590.2,227.8 593.5,227.9 596.8,228 600.1,228.3 603.4,228.5"/>
<polyline points="421.3,230.8 424.2,230.8 426.4,230.4 428.2,229.2 429.7,228.7 431.5,229 433.3,229.8 435.9,230.6 443.2,230.8 457.8,230.8 472.5,230.8 479.8,230.8 481.6,230.8 482.8,230.8 484,230.9 485.2,230.9 486.4,231 487.6,231.2 488.9,231.4 490.1,231.7 491.3,232.1 492.5,232.5 493.7,233 494.9,233.4 496.1,233.7 497.3,234 498.5,234.1 499.7,234.2 500.9,234.3 502.1,234.7 503.3,235.4 504.5,236.7 505.7,238.7 507,241.7 508.2,245.6 509.4,250.3 510.6,255.5 511.8,261 513,266.2 514.2,270.5 515.4,273.4 516.6,274.5 517.8,272.1 519,263.2 520.2,251 521.4,238.9 522.6,228.6 523.8,219.8 525.1,211.2 526.3,202 527.5,192.2 528.7,182.6 529.9,174.9 531.1,170.3 532.3,169.3 533.5,169.4 534.7,170.5 535.9,172.4 537.1,175.1 538.3,178.5 539.5,182.2 540.7,186 542,189.9 543.2,193.8 544.4,197.4 545.6,200.8 546.8,203.9 548,206.7 549.2,209 550.4,211.1 551.6,212.8 552.8,214.3 554,215.4 557.3,217.7 560.6,219.1 563.9,220.4 567.2,221.9 570.5,223.5 573.8,224.4 577.1,224.7 580.3,224.5 583.6,224.3 586.9,224.3 590.2,224.6 593.5,225 596.8,225.5 600.1,226 603.4,226.5"/>
<polyline points="421.3,232.1 424.2,232.1 426.4,231.7 428.2,230.6 429.7,230 431.5,230.4 433.3,231.2 435.9,231.9 443.2,232.1 457.8,232.1 472.5,232.1 479.8,232.2 481.6,232.3 482.8,232.4 484,232.7 485.2,233.1 486.4,233.8 487.6,234.9 488.9,236.4 490.1,238.5 491.3,241 492.5,243.8 493.7,246.7 494.9,249.4 496.1,251.6 497.3,252.8 498.5,253 499.7,252.1 500.9,250.4 502.1,248.4 503.3,246.7 504.5,245.9 505.7,246.4 507,248.5 508.2,252.1 509.4,257.2 510.6,263.4 511.8,269.9 513,276.2 514.2,281.6 515.4,285.3 516.6,286.7 517.8,284 519,273.2 520.2,258.4 521.4,243.8 522.6,231.9 523.8,222.2 525.1,213.5 526.3,204.5 527.5,195 528.7,185.8 529.9,178.3 531.1,173.8 532.3,172.7 533.5,172.8 534.7,173.7 535.9,175.5 537.1,178.1 538.3,181.2 539.5,184.7 540.7,188.4 542,192.1 543.2,195.8 544.4,199.2 545.6,202.5 546.8,205.4 548,208 549.2,210.3 550.4,212.3 551.6,213.9 552.8,215.3 554,216.4 557.3,218.5 560.6,219.5 563.9,219.8 567.2,219.3 570.5,218.7 573.8,218.9 577.1,219.9 580.3,221.4 583.6,223 586.9,224.3 590.2,225.3 593.5,226 596.8,226.6 600.1,227.2 603.4,227.7"/>
<polyline points="421.3,231.1 424.2,231 426.4,230.6 428.2,229.5 429.7,228.9 431.5,229.3 433.3,230.1 435.9,230.8 443.2,231.1 457.8,231.1 472.5,231.1 479.8,231.1 481.6,231.3 482.8,231.5 484,231.9 485.2,232.6 486.4,233.7 487.6,235.4 488.9,237.9 490.1,241.3 491.3,245.4 492.5,250.1 493.7,255 494.9,259.5 496.1,263.1 497.3,265.3 498.5,265.6 499.7,264 500.9,260.8 502.1,256.8 503.3,252.8 504.5,249.8 505.7,248.2 507,248.5 508.2,250.7 509.4,254.6 510.6,259.7 511.8,265.5 513,271.2 514.2,276.2 515.4,279.8 516.6,281.5 517.8,279.6 519,270.5 520.2,257.2 521.4,244 522.6,233 523.8,224.2 525.1,216.4 526.3,208.3 527.5,199.6 528.7,191.2 529.9,184.3 531.1,180.2 532.3,179.4 533.5,179.8 534.7,180.9 535.9,182.8 537.1,185.3 538.3,188.3 539.5,191.6 540.7,195.1 542,198.7 543.2,202.2 544.4,205.5 545.6,208.6 546.8,211.5 548,214 549.2,216.2 550.4,218 551.6,219.6 552.8,220.9 554,221.9 557.3,223.8 560.6,224.7 563.9,224.9 567.2,224.7 570.5,224.3 573.8,224.4 577.1,224.9 580.3,225.7 583.6,226.5 586.9,227.2 590.2,227.7 593.5,228.1 596.8,228.4 600.1,228.6 603.4,228.9"/>
<polyline points="421.3,231.3 424.2,231.2 426.4,230.8 428.2,229.7 429.7,229.1 431.5,229.5 433.3,230.3 435.9,231 443.2,231.3 457.8,231.3 472.5,231.3 479.8,231.3 481.6,231.3 482.8,231.3 484,231.4 485.2,231.6 486.4,231.9 487.6,232.4 488.9,233.2 490.1,234.4 491.3,236.1 492.5,238.3 493.7,240.9 494.9,243.9 496.1,246.9 497.3,249.6 498.5,251.6 499.7,252.6 500.9,252.6 502.1,251.5 503.3,249.7 504.5,247.7 505.7,246.2 507,245.8 508.2,246.9 509.4,249.7 510.6,254.2 511.8,260.2 513,267.1 514.2,274.3 515.4,281.1 516.6,286.6 517.8,290.2 519,291.2 520.2,286.3 521.4,273.1 522.6,256.7 523.8,241.8 525.1,230.3 526.3,221.8 527.5,214.7 528.7,207.7 529.9,200.7 531.1,194.1 532.3,188.8 533.5,185.8 534.7,184.8 535.9,184.5 537.1,184.9 538.3,186 539.5,187.7 540.7,189.8 542,192.2 543.2,194.6 544.4,197.1 545.6,199.5 546.8,201.8 548,203.9 549.2,205.9 550.4,207.6 551.6,209.1 552.8,210.4 554,211.6 557.3,213.8 560.6,215.1 563.9,215.7 567.2,215.7 570.5,215.2 573.8,214.9 577.1,215.6 580.3,217 583.6,218.8 586.9,220.5 590.2,221.9 593.5,222.9 596.8,223.8 600.1,224.5 603.4,225.2"/>
<polyline points="421.3,231.6 424.2,231.5 426.4,231.1 428.2,230 429.7,229.4 431.5,229.8 433.3,230.6 435.9,231.3 443.2,231.6 457.8,231.6 472.5,231.6 479.8,231.6 481.6,231.6 482.8,231.6 484,231.7 485.2,231.9 486.4,232.2 487.6,232.7 488.9,233.4 490.1,234.4 491.3,235.7 492.5,237.3 493.7,239.1 494.9,241 496.1,242.7 497.3,244.1 498.5,244.9 499.7,245 500.9,244.5 502.1,243.5 503.3,242.4 504.5,241.6 505.7,241.5 507,242.5 508.2,244.7 509.4,248.1 510.6,252.6 511.8,257.9 513,263.5 514.2,268.8 515.4,273.3 516.6,276.3 517.8,277.6 519,275 520.2,265.9 521.4,253.5 522.6,241.6 523.8,232 525.1,224.4 526.3,217.6 527.5,210.6 528.7,203.4 529.9,196.4 531.1,190.8 532.3,187.6 533.5,186.9 534.7,187.1 535.9,188 537.1,189.5 538.3,191.5 539.5,194 540.7,196.8 542,199.7 543.2,202.6 544.4,205.4 545.6,208.1 546.8,210.6 548,212.9 549.2,214.9 550.4,216.7 551.6,218.2 552.8,219.5 554,220.5 557.3,222.5 560.6,223.6 563.9,224.4 567.2,225.2 570.5,226 573.8,226.6 577.1,226.9 580.3,227.1 583.6,227.1 586.9,227.2 590.2,227.4 593.5,227.7 596.8,228 600.1,228.4 603.4,228.7"/>
<polyline points="421.3,231.6 424.2,231.5 426.4,231.1 428.2,230 429.7,229.4 431.5,229.8 433.3,230.6 435.9,231.3 443.2,231.6 457.8,231.6 472.5,231.6 479.8,231.6 481.6,231.6 482.8,231.6 484,231.6 485.2,231.7 486.4,231.7 487.6,231.9 488.9,232.2 490.1,232.6 491.3,233.2 492.5,234 493.7,235.1 494.9,236.4 496.1,237.8 497.3,239.1 498.5,240.2 499.7,241 500.9,241.4 502.1,241.3 503.3,240.9 504.5,240.3 505.7,239.9 507,240 508.2,241 509.4,243.1 510.6,246.3 511.8,250.7 513,255.9 514.2,261.7 515.4,267.5 516.6,272.7 517.8,276.7 519,279 520.2,279 521.4,272.7 522.6,261 523.8,248 525.1,236.6 526.3,227.8 527.5,220.5 528.7,213.6 529.9,206.3 531.1,198.9 532.3,192.3 533.5,187.6 534.7,185.8 535.9,185.5 537.1,185.9 538.3,187.1 539.5,188.8 540.7,191.1 542,193.7 543.2,196.5 544.4,199.4 545.6,202.3 546.8,205.1 548,207.7 549.2,210.1 550.4,212.3 551.6,214.2 552.8,215.9 554,217.2 557.3,220 560.6,221.5 563.9,222.2 567.2,222.4 570.5,222.2 573.8,222 577.1,222.2 580.3,223 583.6,224 586.9,225 590.2,225.9 593.5,226.5 596.8,227.1 600.1,227.5 603.4,227.9"/>
<polyline points="421.3,230.7 424.2,230.7 426.4,230.3 428.2,229.2 429.7,228.6 431.5,228.9 433.3,229.7 435.9,230.5 443.2,230.7 457.8,230.7 472.5,230.7 479.8,230.7 481.6,230.7 482.8,230.8 484,230.9 485.2,231 486.4,231.3 487.6,231.7 488.9,232.4 490.1,233.3 491.3,234.5 492.5,236 493.7,237.7 494.9,239.4 496.1,241 497.3,242.3 498.5,243 499.7,243.2 500.9,242.8 502.1,242 503.3,241.3 504.5,241.1 505.7,241.8 507,243.7 508.2,247 509.4,251.8 510.6,257.8 511.8,264.8 513,272.1 514.2,279 515.4,284.8 516.6,288.8 517.8,290.4 519,287.1 520.2,275.4 521.4,259.9 522.6,245.4 523.8,234.2 525.1,226.2 526.3,219.9 527.5,213.8 528.7,207.8 529.9,202 531.1,197.5 532.3,195 533.5,194.6 534.7,194.9 535.9,195.7 537.1,197 538.3,198.8 539.5,200.9 540.7,203.1 542,205.5 543.2,208 544.4,210.3 545.6,212.6 546.8,214.7 548,216.6 549.2,218.2 550.4,219.7 551.6,220.9 552.8,222 554,222.8 557.3,224.4 560.6,225.3 563.9,225.9 567.2,226.4 570.5,227 573.8,227.4 577.1,227.6 580.3,227.7 583.6,227.7 586.9,227.8 590.2,227.9 593.5,228.1 596.8,228.4 600.1,228.6 603.4,228.8"/>
<polyline points="421.3,231.2 424.2,231.1 426.4,230.7 428.2,229.6 429.7,229 431.5,229.4 433.3,230.2 435.9,230.9 443.2,231.2 457.8,231.2 472.5,231.2 479.8,231.3 481.6,231.5 482.8,231.8 484,232.3 485.2,233.1 486.4,234.3 487.6,235.8 488.9,237.7 490.1,240 491.3,242.3 492.5,244.6 493.7,246.4 494.9,247.5 496.1,247.9 497.3,247.5 498.5,246.3 499.7,244.9 500.9,243.8 502.1,243.5 503.3,244.3 504.5,246.7 505.7,250.6 507,255.9 508.2,262.2 509.4,269.2 510.6,276 511.8,281.9 513,286.2 514.2,288.4 515.4,287.1 516.6,277.7 517.8,263 519,248 520.2,235.8 521.4,226.8 522.6,219.7 523.8,213.1 525.1,206.4 526.3,199.8 527.5,194.2 528.7,190.6 529.9,189.4 531.1,189.2 532.3,189.7 533.5,190.8 534.7,192.5 535.9,194.6 537.1,197 538.3,199.5 539.5,202.1 540.7,204.6 542,207 543.2,209.3 544.4,211.4 545.6,213.3 546.8,214.9 548,216.3 549.2,217.5 550.4,218.5 551.6,219.3 552.8,220 554,220.5 557.3,221.4 560.6,221.6 563.9,221.1 567.2,220.3 570.5,219.9 573.8,220.5 577.1,221.8 580.3,223.3 583.6,224.6 586.9,225.6 590.2,226.3 593.5,226.8 596.8,227.3 600.1,227.7 603.4,228.1"/>
<polyline points="421.3,231.9 424.2,231.9 426.4,231.5 428.2,230.4 429.7,229.8 431.5,230.2 433.3,230.9 435.9,231.7 443.2,231.9 457.8,231.9 472.5,231.9 479.8,231.9 481.6,232 482.8,232.1 484,232.3 485.2,232.6 486.4,233.1 487.6,233.9 488.9,235.1 490.1,236.7 491.3,238.8 492.5,241.4 493.7,244.1 494.9,246.8 496.1,249.1 497.3,250.8 498.5,251.5 499.7,251.3 500.9,250 502.1,248.2 503.3,246.4 504.5,245 505.7,244.7 507,245.8 508.2,248.3 509.4,252.3 510.6,257.5 511.8,263.4 513,269.5 514.2,275 515.4,279.4 516.6,282 517.8,282.4 519,276.6 520.2,264.6 521.4,250.7 522.6,238.2 523.8,228.2 525.1,219.6 526.3,211.2 527.5,202.1 528.7,192.8 529.9,184.3 531.1,178.3 532.3,175.8 533.5,175.7 534.7,176.4 535.9,178 537.1,180.4 538.3,183.4 539.5,186.8 540.7,190.5 542,194.3 543.2,198.1 544.4,201.8 545.6,205.2 546.8,208.4 548,211.3 549.2,213.8 550.4,216 551.6,217.8 552.8,219.3 554,220.6 557.3,222.9 560.6,224.2 563.9,225 567.2,225.7 570.5,226.5 573.8,227 577.1,227.3 580.3,227.4 583.6,227.5 586.9,227.7 590.2,227.9 593.5,228.2 596.8,228.6 600.1,228.9 603.4,229.2"/>
<polyline points="421.3,231.6 424.2,231.5 426.4,231.2 428.2,230 429.7,229.4 431.5,229.8 433.3,230.6 435.9,231.4 443.2,231.6 457.8,231.6 472.5,231.6 479.8,231.6 481.6,231.8 482.8,232 484,232.4 485.2,233.1 486.4,234.2 487.6,235.8 488.9,238.1 490.1,240.9 491.3,244.3 492.5,248 493.7,251.6 494.9,254.7 496.1,256.8 497.3,257.7 498.5,257.2 499.7,255.2 500.9,252.3 502.1,249.1 503.3,246.3 504.5,244.3 505.7,243.6 507,244.2 508.2,246.1 509.4,249.1 510.6,252.7 511.8,256.6 513,260.1 514.2,262.9 515.4,264.5 516.6,264.7 517.8,260.5 519,252.3 520.2,242.7 521.4,233.9 522.6,226.5 523.8,219.5 525.1,212.3 526.3,204.3 527.5,195.9 528.7,188.4 529.9,183 531.1,180.8 532.3,180.6 533.5,181.2 534.7,182.6 535.9,184.6 537.1,187.3 538.3,190.3 539.5,193.5 540.7,196.9 542,200.2 543.2,203.5 544.4,206.5 545.6,209.3 546.8,211.9 548,214.1 549.2,216 550.4,217.6 551.6,219 552.8,220.1 554,221 557.3,222.5 560.6,223.1 563.9,222.8 567.2,221.8 570.5,220.8 573.8,220.8 577.1,221.9 580.3,223.5 583.6,225 586.9,226.2 590.2,227.1 593.5,227.6 596.8,228 600.1,228.4 603.4,228.7"/>
<polyline points="421.3,230.5 424.2,230.4 426.4,230 428.2,228.9 429.7,228.3 431.5,228.7 433.3,229.5 435.9,230.2 443.2,230.5 457.8,230.5 472.5,230.5 479.8,230.5 481.6,230.5 482.8,230.5 484,230.5 485.2,230.6 486.4,230.7 487.6,230.9 488.9,231.2 490.1,231.7 491.3,232.3 492.5,233.1 493.7,234.1 494.9,235.2 496.1,236.2 497.3,237.1 498.5,237.8 499.7,238.2 500.9,238.3 502.1,238.2 503.3,238.2 504.5,238.6 505.7,239.8 507,242.1 508.2,245.8 509.4,251 510.6,257.7 511.8,265.7 513,274.4 514.2,283 515.4,290.9 516.6,297 517.8,300.7 519,301.2 520.2,292.9 521.4,276.5 522.6,258.4 523.8,243.2 525.1,232.6 526.3,225.5 527.5,220.2 528.7,215.3 529.9,210.7 531.1,206.6 532.3,203.6 533.5,202.4 534.7,202.3 535.9,202.5 537.1,203.2 538.3,204.3 539.5,205.7 540.7,207.3 542,209 543.2,210.8 544.4,212.6 545.6,214.3 546.8,216 548,217.5 549.2,218.8 550.4,220 551.6,221 552.8,221.9 554,222.6 557.3,224 560.6,224.7 563.9,224.8 567.2,224.4 570.5,223.5 573.8,222.8 577.1,223.1 580.3,224 583.6,225.2 586.9,226.2 590.2,227 593.5,227.5 596.8,227.9 600.1,228.2 603.4,228.4"/>
<polyline points="421.3,232.2 424.2,232.2 426.4,231.8 428.2,230.7 429.7,230.1 431.5,230.5 433.3,231.3 435.9,232 443.2,232.2 457.8,232.2 472.5,232.2 479.8,232.2 481.6,232.3 482.8,232.3 484,232.4 485.2,232.6 486.4,232.8 487.6,233.1 488.9,233.6 490.1,234.2 491.3,234.9 492.5,235.7 493.7,236.4 494.9,237 496.1,237.5 497.3,237.8 498.5,237.9 499.7,237.8 500.9,237.9 502.1,238.3 503.3,239.4 504.5,241.3 505.7,244.3 507,248.5 508.2,253.8 509.4,259.9 510.6,266.6 511.8,273.3 513,279.2 514.2,283.6 515.4,286.2 516.6,286.1 517.8,278.7 519,265.5 520.2,251.1 521.4,238.9 522.6,229.7 523.8,222.5 525.1,215.8 526.3,209 527.5,202.1 528.7,196.1 529.9,192 531.1,190.5 532.3,190.4 533.5,190.9 534.7,192.1 535.9,193.8 537.1,196 538.3,198.5 539.5,201.2 540.7,204 542,206.7 543.2,209.3 544.4,211.8 545.6,214.1 546.8,216.1 548,217.9 549.2,219.4 550.4,220.7 551.6,221.8 552.8,222.7 554,223.4 557.3,224.7 560.6,225.4 563.9,225.7 567.2,225.8 570.5,225.9 573.8,226.2 577.1,226.7 580.3,227.2 583.6,227.7 586.9,228.2 590.2,228.6 593.5,228.9 596.8,229.3 600.1,229.6 603.4,229.8"/>
<polyline points="421.3,232.2 424.2,232.2 426.4,231.8 428.2,230.6 429.7,230 431.5,230.4 433.3,231.2 435.9,232 443.2,232.2 457.8,232.2 472.5,232.2 479.8,232.2 481.6,232.4 482.8,232.6 484,232.9 485.2,233.6 486.4,234.6 487.6,236 488.9,238.1 490.1,240.7 491.3,243.9 492.5,247.4 493.7,250.8 494.9,253.9 496.1,256 497.3,257 498.5,256.7 499.7,255.1 500.9,252.5 502.1,249.7 503.3,247.2 504.5,245.7 505.7,245.4 507,246.7 508.2,249.4 509.4,253.2 510.6,257.8 511.8,262.7 513,267.1 514.2,270.7 515.4,272.7 516.6,272.9 517.8,268.2 519,257.8 520.2,245.3 521.4,233.3 522.6,222.8 523.8,212.7 525.1,202 526.3,190.1 527.5,177.6 528.7,166 529.9,157.2 531.1,152.8 532.3,151.8 533.5,152.1 534.7,153.5 535.9,156.1 537.1,159.8 538.3,164 539.5,168.7 540.7,173.4 542,178.2 543.2,182.9 544.4,187.3 545.6,191.4 546.8,195.1 548,198.4 549.2,201.2 550.4,203.6 551.6,205.7 552.8,207.3 554,208.7 557.3,211.4 560.6,213 563.9,214 567.2,214.7 570.5,215.4 573.8,216.3 577.1,217.4 580.3,218.5 583.6,219.7 586.9,220.8 590.2,221.8 593.5,222.8 596.8,223.7 600.1,224.5 603.4,225.3"/>
<polyline points="421.3,230.9 424.2,230.9 426.4,230.5 428.2,229.4 429.7,228.8 431.5,229.1 433.3,229.9 435.9,230.7 443.2,230.9 457.8,230.9 472.5,230.9 479.8,230.9 481.6,231 482.8,231.1 484,231.4 485.2,231.8 486.4,232.4 487.6,233.5 488.9,235 490.1,237 491.3,239.6 492.5,242.6 493.7,245.7 494.9,248.7 496.1,251.2 497.3,252.7 498.5,253.2 499.7,252.3 500.9,250.3 502.1,247.6 503.3,244.7 504.5,242.2 505.7,240.4 507,239.6 508.2,239.8 509.4,240.9 510.6,242.7 511.8,245 513,247.3 514.2,249.4 515.4,251 516.6,251.7 517.8,251.3 519,247.7 520.2,241.9 521.4,235.4 522.6,229.2 523.8,223.3 525.1,216.9 526.3,209.5 527.5,201.2 528.7,192.8 529.9,185.5 531.1,180.8 532.3,179.5 533.5,179.6 534.7,180.6 535.9,182.3 537.1,184.7 538.3,187.6 539.5,190.9 540.7,194.3 542,197.9 543.2,201.3 544.4,204.7 545.6,207.8 546.8,210.7 548,213.3 549.2,215.5 550.4,217.4 551.6,219 552.8,220.4 554,221.4 557.3,223.4 560.6,224.2 563.9,224.3 567.2,223.7 570.5,222.8 573.8,222.6 577.1,223.3 580.3,224.4 583.6,225.6 586.9,226.6 590.2,227.3 593.5,227.8 596.8,228.1 600.1,228.4 603.4,228.7"/>
<polyline points="421.3,231.1 424.2,231.1 426.4,230.7 428.2,229.5 429.7,229 431.5,229.3 433.3,230.1 435.9,230.9 443.2,231.1 457.8,231.1 472.5,231.1 479.8,231.2 481.6,231.3 482.8,231.6 484,232 485.2,232.6 486.4,233.6 487.6,235 488.9,236.8 490.1,239.1 491.3,241.7 492.5,244.4 493.7,246.8 494.9,248.7 496.1,249.8 497.3,250 498.5,249.2 499.7,247.7 500.9,245.9 502.1,244.4 503.3,243.8 504.5,244.4 505.7,246.5 507,250.1 508.2,255 509.4,260.8 510.6,267.1 511.8,273.1 513,278.2 514.2,281.7 515.4,283.2 516.6,280.6 517.8,270.4 519,256.5 520.2,242.9 521.4,232 522.6,223.5 523.8,216 525.1,208.4 526.3,200.6 527.5,193 528.7,186.8 529.9,183.2 531.1,182.3 532.3,182.4 533.5,183.3 534.7,184.8 535.9,187 537.1,189.6 538.3,192.5 539.5,195.6 540.7,198.7 542,201.7 543.2,204.6 544.4,207.3 545.6,209.7 546.8,211.9 548,213.8 549.2,215.4 550.4,216.8 551.6,217.9 552.8,218.9 554,219.6 557.3,221 560.6,221.8 563.9,222.2 567.2,222.4 570.5,222.7 573.8,223.1 577.1,223.7 580.3,224.4 583.6,225 586.9,225.6 590.2,226.1 593.5,226.6 596.8,227 600.1,227.5 603.4,227.8"/>
<polyline points="421.3,231.3 424.2,231.3 426.4,230.9 428.2,229.7 429.7,229.2 431.5,229.5 433.3,230.3 435.9,231.1 443.2,231.3 457.8,231.3 472.5,231.3 479.8,231.3 481.6,231.4 482.8,231.6 484,231.8 485.2,232.2 486.4,233 487.6,234.1 488.9,235.6 490.1,237.7 491.3,240.4 492.5,243.3 493.7,246.5 494.9,249.3 496.1,251.6 497.3,253 498.5,253.2 499.7,252.1 500.9,250.1 502.1,247.5 503.3,244.8 504.5,242.7 505.7,241.5 507,241.3 508.2,242.3 509.4,244.3 510.6,247 511.8,250.1 513,253.2 514.2,255.8 515.4,257.7 516.6,258.4 517.8,257.2 519,251.8 520.2,244 521.4,235.8 522.6,228.4 523.8,221.7 525.1,214.8 526.3,207.1 527.5,198.6 528.7,190.3 529.9,183.3 531.1,179 532.3,177.8 533.5,177.8 534.7,178.7 535.9,180.2 537.1,182.5 538.3,185.4 539.5,188.5 540.7,191.9 542,195.2 543.2,198.6 544.4,201.7 545.6,204.7 546.8,207.4 548,209.8 549.2,211.9 550.4,213.7 551.6,215.2 552.8,216.5 554,217.5 557.3,219.5 560.6,220.7 563.9,221.7 567.2,222.9 570.5,224.1 573.8,224.9 577.1,225.2 580.3,225.2 583.6,225.2 586.9,225.4 590.2,225.7 593.5,226.1 596.8,226.6 600.1,227 603.4,227.5"/>
<polyline points="421.3,231.1 424.2,231.1 426.4,230.7 428.2,229.5 429.7,228.9 431.5,229.3 433.3,230.1 435.9,230.9 443.2,231.1 457.8,231.1 472.5,231.1 479.8,231.1 481.6,231.1 482.8,231.2 484,231.3 485.2,231.5 486.4,231.9 487.6,232.5 488.9,233.6 490.1,235.1 491.3,237.3 492.5,240 493.7,243.3 494.9,246.8 496.1,250.3 497.3,253.3 498.5,255.5 499.7,256.4 500.9,255.9 502.1,254.1 503.3,251.3 504.5,248.2 505.7,245.5 507,243.6 508.2,242.9 509.4,243.5 510.6,245.5 511.8,248.4 513,252 514.2,255.9 515.4,259.4 516.6,262.2 517.8,263.9 519,264 520.2,260.1 521.4,251.9 522.6,242.4 523.8,233.7 525.1,226.5 526.3,220.2 527.5,213.8 528.7,206.8 529.9,199.7 531.1,193.1 532.3,188.3 533.5,186 534.7,185.6 535.9,185.8 537.1,186.7 538.3,188.3 539.5,190.4 540.7,192.9 542,195.5 543.2,198.3 544.4,201 545.6,203.7 546.8,206.2 548,208.5 549.2,210.6 550.4,212.5 551.6,214.1 552.8,215.5 554,216.6 557.3,218.8 560.6,220.1 563.9,220.8 567.2,221.1 570.5,221.2 573.8,221.4 577.1,221.9 580.3,222.7 583.6,223.5 586.9,224.3 590.2,225 593.5,225.6 596.8,226.1 600.1,226.6 603.4,227.1"/>
<polyline points="421.3,231.8 424.2,231.8 426.4,231.4 428.2,230.3 429.7,229.7 431.5,230.1 433.3,230.8 435.9,231.6 443.2,231.8 457.8,231.8 472.5,231.8 479.8,231.8 481.6,231.8 482.8,231.9 484,231.9 485.2,232 486.4,232.2 487.6,232.6 488.9,233.2 490.1,234.2 491.3,235.5 492.5,237.2 493.7,239.4 494.9,241.8 496.1,244.3 497.3,246.6 498.5,248.4 499.7,249.4 500.9,249.5 502.1,248.6 503.3,246.9 504.5,244.8 505.7,242.9 507,241.4 508.2,240.7 509.4,241.1 510.6,242.4 511.8,244.6 513,247.4 514.2,250.5 515.4,253.6 516.6,256.2 517.8,258 519,258.7 520.2,257.3 521.4,252 522.6,244.6 523.8,237.2 525.1,231 526.3,225.7 527.5,220.5 528.7,215 529.9,209 531.1,203.3 532.3,198.6 533.5,195.9 534.7,195.4 535.9,195.6 537.1,196.4 538.3,197.6 539.5,199.4 540.7,201.5 542,203.8 543.2,206.2 544.4,208.6 545.6,211 546.8,213.2 548,215.3 549.2,217.2 550.4,218.9 551.6,220.4 552.8,221.7 554,222.7 557.3,224.7 560.6,225.8 563.9,226.2 567.2,225.9 570.5,225.2 573.8,224.6 577.1,224.8 580.3,225.5 583.6,226.6 586.9,227.6 590.2,228.3 593.5,228.8 596.8,229.2 600.1,229.5 603.4,229.7"/>
<polyline points="421.3,230.5 424.2,230.5 426.4,230.1 428.2,229 429.7,228.4 431.5,228.8 433.3,229.5 435.9,230.3 443.2,230.5 457.8,230.5 472.5,230.5 479.8,230.5 481.6,230.6 482.8,230.6 484,230.7 485.2,230.8 486.4,231 487.6,231.3 488.9,231.7 490.1,232.3 491.3,233 492.5,233.9 493.7,234.8 494.9,235.7 496.1,236.4 497.3,236.9 498.5,237.2 499.7,237.1 500.9,236.7 502.1,236.3 503.3,236.1 504.5,236.2 505.7,237 507,238.4 508.2,240.7 509.4,243.7 510.6,247.2 511.8,251.1 513,254.9 514.2,258.2 515.4,260.7 516.6,261.9 517.8,261.4 519,256.4 520.2,248.1 521.4,239.4 522.6,232 523.8,226.3 525.1,221.6 526.3,217.1 527.5,212.5 528.7,207.9 529.9,203.8 531.1,200.9 532.3,199.6 533.5,199.2 534.7,199.1 535.9,199.6 537.1,200.5 538.3,201.8 539.5,203.3 540.7,204.9 542,206.5 543.2,208.1 544.4,209.7 545.6,211.1 546.8,212.5 548,213.7 549.2,214.8 550.4,215.7 551.6,216.6 552.8,217.2 554,217.8 557.3,218.9 560.6,219.4 563.9,219.2 567.2,218.1 570.5,216.8 573.8,216.5 577.1,217.6 580.3,219.4 583.6,221.4 586.9,223 590.2,224.2 593.5,225 596.8,225.6 600.1,226.1 603.4,226.6"/>
<polyline points="421.3,231.3 424.2,231.3 426.4,230.9 428.2,229.7 429.7,229.2 431.5,229.5 433.3,230.3 435.9,231.1 443.2,231.3 457.8,231.3 472.5,231.3 479.8,231.3 481.6,231.4 482.8,231.5 484,231.6 485.2,232 486.4,232.5 487.6,233.3 488.9,234.6 490.1,236.3 491.3,238.4 492.5,241 493.7,243.7 494.9,246.4 496.1,248.6 497.3,250.2 498.5,250.8 499.7,250.5 500.9,249.2 502.1,247.4 503.3,245.6 504.5,244.5 505.7,244.4 507,245.8 508.2,248.7 509.4,253.1 510.6,258.6 511.8,264.9 513,271.2 514.2,276.9 515.4,281.3 516.6,283.9 517.8,284 519,277.1 520.2,264.4 521.4,250.4 522.6,238.5 523.8,229.8 525.1,223.3 526.3,217.7 527.5,212.1 528.7,206.5 529.9,201.6 531.1,198.1 532.3,196.6 533.5,196.3 534.7,196.6 535.9,197.3 537.1,198.6 538.3,200.3 539.5,202.2 540.7,204.3 542,206.4 543.2,208.5 544.4,210.6 545.6,212.5 546.8,214.3 548,215.9 549.2,217.3 550.4,218.5 551.6,219.5 552.8,220.4 554,221.1 557.3,222.5 560.6,223.2 563.9,223.6 567.2,223.7 570.5,223.7 573.8,223.9 577.1,224.4 580.3,225.1 583.6,225.7 586.9,226.4 590.2,226.9 593.5,227.3 596.8,227.7 600.1,228 603.4,228.4"/>
<polyline points="421.3,231.3 424.2,231.3 426.4,230.9 428.2,229.7 429.7,229.1 431.5,229.5 433.3,230.3 435.9,231.1 443.2,231.3 457.8,231.3 472.5,231.3 479.8,231.3 481.6,231.3 482.8,231.3 484,231.4 485.2,231.5 486.4,231.7 487.6,232 488.9,232.6 490.1,233.4 491.3,234.7 492.5,236.3 493.7,238.3 494.9,240.5 496.1,242.8 497.3,244.9 498.5,246.6 499.7,247.6 500.9,247.8 502.1,247.2 503.3,246.1 504.5,245 505.7,244.4 507,244.9 508.2,246.8 509.4,250.4 510.6,255.8 511.8,262.7 513,270.7 514.2,279.2 515.4,287.3 516.6,294.2 517.8,299 519,301 520.2,297.5 521.4,284.2 522.6,266 523.8,248.6 525.1,234.7 526.3,224.2 527.5,215.1 528.7,206 529.9,196.6 531.1,187.6 532.3,180.4 533.5,176.5 534.7,176 535.9,176.6 537.1,178 538.3,180.2 539.5,183.1 540.7,186.5 542,190.2 543.2,194.1 544.4,198 545.6,201.8 546.8,205.5 548,208.9 549.2,211.9 550.4,214.7 551.6,217 552.8,219 554,220.7 557.3,223.8 560.6,225.5 563.9,226.3 567.2,226.6 570.5,226.7 573.8,226.9 577.1,227.1 580.3,227.4 583.6,227.8 586.9,228.1 590.2,228.4 593.5,228.7 596.8,229 600.1,229.2 603.4,229.4"/>
<polyline points="421.3,230.6 424.2,230.5 426.4,230.1 428.2,229 429.7,228.4 431.5,228.8 433.3,229.6 435.9,230.3 443.2,230.6 457.8,230.6 472.5,230.6 479.8,230.6 481.6,230.7 482.8,230.8 484,231 485.2,231.4 486.4,232.1 487.6,233.1 488.9,234.6 490.1,236.7 491.3,239.3 492.5,242.3 493.7,245.5 494.9,248.6 496.1,251.2 497.3,252.9 498.5,253.6 499.7,252.9 500.9,251.2 502.1,248.9 503.3,246.7 504.5,245.1 505.7,244.7 507,245.9 508.2,248.6 509.4,252.9 510.6,258.4 511.8,264.5 513,270.7 514.2,276.2 515.4,280.4 516.6,282.7 517.8,282.3 519,274.5 520.2,261.2 521.4,246.7 522.6,233.9 523.8,223.3 525.1,213.4 526.3,203 527.5,191.6 528.7,180.1 529.9,170.1 531.1,163.5 532.3,161.6 533.5,161.9 534.7,163.2 535.9,165.6 537.1,168.8 538.3,172.8 539.5,177.3 540.7,182 542,186.8 543.2,191.7 544.4,196.3 545.6,200.6 546.8,204.6 548,208.1 549.2,211.2 550.4,213.8 551.6,216.1 552.8,217.9 554,219.4 557.3,222.1 560.6,223.4 563.9,223.9 567.2,224.1 570.5,224 573.8,224.2 577.1,224.6 580.3,225.2 583.6,225.9 586.9,226.4 590.2,226.9 593.5,227.2 596.8,227.6 600.1,227.9 603.4,228.2"/>
<polyline points="421.3,230.9 424.2,230.9 426.4,230.5 428.2,229.4 429.7,228.8 431.5,229.2 433.3,229.9 435.9,230.7 443.2,230.9 457.8,230.9 472.5,230.9 479.8,230.9 481.6,230.9 482.8,230.9 484,231 485.2,231.1 486.4,231.2 487.6,231.4 488.9,231.7 490.1,232.2 491.3,232.9 492.5,233.7 493.7,234.7 494.9,235.8 496.1,236.9 497.3,237.8 498.5,238.5 499.7,238.8 500.9,238.7 502.1,238.4 503.3,237.9 504.5,237.5 505.7,237.5 507,238.2 508.2,239.7 509.4,242.2 510.6,245.5 511.8,249.5 513,253.9 514.2,258.4 515.4,262.4 516.6,265.6 517.8,267.4 519,267.6 520.2,263.1 521.4,254.3 522.6,244.6 523.8,236.3 525.1,230.1 526.3,225.6 527.5,221.7 528.7,217.8 529.9,214 531.1,210.6 532.3,208.1 533.5,207 534.7,206.8 535.9,206.9 537.1,207.4 538.3,208.3 539.5,209.4 540.7,210.7 542,212.2 543.2,213.6 544.4,215.1 545.6,216.5 546.8,217.8 548,219 549.2,220.1 550.4,221.1 551.6,221.9 552.8,222.6 554,223.2 557.3,224.4 560.6,225 563.9,225.3 567.2,225.2 570.5,224.9 573.8,224.7 577.1,225 580.3,225.6 583.6,226.3 586.9,227 590.2,227.5 593.5,227.9 596.8,228.3 600.1,228.5 603.4,228.8"/>
<polyline points="421.3,230.8 424.2,230.8 426.4,230.4 428.2,229.3 429.7,228.7 431.5,229.1 433.3,229.8 435.9,230.6 443.2,230.8 457.8,230.8 472.5,230.8 479.8,230.8 481.6,230.8 482.8,230.8 484,230.9 485.2,230.9 486.4,231.1 487.6,231.3 488.9,231.6 490.1,232.1 491.3,232.9 492.5,233.8 493.7,235.1 494.9,236.5 496.1,237.9 497.3,239.3 498.5,240.4 499.7,241.1 500.9,241.3 502.1,241 503.3,240.5 504.5,239.9 505.7,239.7 507,240.2 508.2,241.7 509.4,244.5 510.6,248.5 511.8,253.7 513,259.7 514.2,266.1 515.4,272.3 516.6,277.5 517.8,281.3 519,283 520.2,281 521.4,271.5 522.6,257.8 523.8,244.2 525.1,233 526.3,224.4 527.5,216.9 528.7,209.5 529.9,201.7 531.1,194.1 532.3,187.9 533.5,184.1 534.7,183.1 535.9,183.2 537.1,184.1 538.3,185.6 539.5,187.7 540.7,190.4 542,193.3 543.2,196.3 544.4,199.4 545.6,202.5 546.8,205.4 548,208.1 549.2,210.6 550.4,212.8 551.6,214.7 552.8,216.4 554,217.8 557.3,220.4 560.6,221.9 563.9,222.6 567.2,222.7 570.5,222.5 573.8,222.3 577.1,222.6 580.3,223.3 583.6,224.2 586.9,225.1 590.2,225.9 593.5,226.4 596.8,226.9 600.1,227.3 603.4,227.6"/>
<polyline points="421.3,230.7 424.2,230.7 426.4,230.3 428.2,229.2 429.7,228.6 431.5,229 433.3,229.7 435.9,230.5 443.2,230.7 457.8,230.7 472.5,230.7 479.8,230.7 481.6,230.8 482.8,230.9 484,231.1 485.2,231.5 486.4,232.1 487.6,233.1 488.9,234.5 490.1,236.4 491.3,238.8 492.5,241.6 493.7,244.6 494.9,247.5 496.1,249.9 497.3,251.5 498.5,252.1 499.7,251.6 500.9,250.2 502.1,248.2 503.3,246.4 504.5,245.3 505.7,245.6 507,247.4 508.2,251 509.4,256.2 510.6,262.7 511.8,269.9 513,277.1 514.2,283.5 515.4,288.3 516.6,290.8 517.8,290.2 519,281.2 520.2,265.7 521.4,249.1 522.6,234.8 523.8,223.5 525.1,213.8 526.3,204.2 527.5,194.1 528.7,183.9 529.9,175 531.1,168.9 532.3,166.6 533.5,166.2 534.7,166.9 535.9,168.5 537.1,170.9 538.3,174.2 539.5,177.8 540.7,181.7 542,185.7 543.2,189.6 544.4,193.4 545.6,197 546.8,200.3 548,203.2 549.2,205.8 550.4,208 551.6,209.9 552.8,211.5 554,212.8 557.3,215.2 560.6,216.5 563.9,216.9 567.2,216.6 570.5,216.1 573.8,216.2 577.1,217.2 580.3,218.8 583.6,220.4 586.9,221.8 590.2,222.9 593.5,223.7 596.8,224.5 600.1,225.1 603.4,225.7"/>
<polyline points="421.3,230.8 424.2,230.8 426.4,230.4 428.2,229.2 429.7,228.7 431.5,229 433.3,229.8 435.9,230.6 443.2,230.8 457.8,230.8 472.5,230.8 479.8,230.8 481.6,230.8 482.8,230.8 484,230.9 485.2,231 486.4,231.2 487.6,231.6 488.9,232.2 490.1,233.1 491.3,234.3 492.5,235.8 493.7,237.6 494.9,239.6 496.1,241.6 497.3,243.4 498.5,244.6 499.7,245.2 500.9,245 502.1,244.1 503.3,242.8 504.5,241.5 505.7,240.6 507,240.5 508.2,241.4 509.4,243.4 510.6,246.5 511.8,250.6 513,255.2 514.2,259.9 515.4,264.3 516.6,267.7 517.8,269.8 519,270.1 520.2,265.8 521.4,256.5 522.6,245.7 523.8,236.1 525.1,228.7 526.3,222.7 527.5,217.3 528.7,211.6 529.9,205.9 531.1,200.6 532.3,196.7 533.5,194.9 534.7,194.5 535.9,194.7 537.1,195.5 538.3,196.7 539.5,198.4 540.7,200.4 542,202.5 543.2,204.7 544.4,206.9 545.6,209.1 546.8,211.1 548,213 549.2,214.6 550.4,216.1 551.6,217.4 552.8,218.5 554,219.4 557.3,221.2 560.6,222.2 563.9,222.9 567.2,223.4 570.5,223.8 573.8,224.3 577.1,224.7 580.3,225 583.6,225.4 586.9,225.8 590.2,226.2 593.5,226.6 596.8,226.9 600.1,227.3 603.4,227.7"/>
<polyline points="421.3,230.7 424.2,230.7 426.4,230.3 428.2,229.2 429.7,228.6 431.5,229 433.3,229.8 435.9,230.5 443.2,230.7 457.8,230.7 472.5,230.7 479.8,230.8 481.6,230.8 482.8,230.9 484,231.1 485.2,231.4 486.4,231.9 487.6,232.6 488.9,233.7 490.1,235.2 491.3,237 492.5,239.1 493.7,241.2 494.9,243.2 496.1,244.8 497.3,245.8 498.5,246.1 499.7,245.5 500.9,244.3 502.1,242.9 503.3,241.7 504.5,241.1 505.7,241.6 507,243.2 508.2,246.1 509.4,250 510.6,254.8 511.8,260 513,265.1 514.2,269.5 515.4,272.6 516.6,274 517.8,272.4 519,264.5 520.2,252.9 521.4,241.1 522.6,230.9 523.8,222.1 525.1,213.7 526.3,204.5 527.5,194.6 528.7,184.9 529.9,176.8 531.1,172.1 532.3,171.2 533.5,171.6 534.7,173 535.9,175.2 537.1,178.2 538.3,181.7 539.5,185.7 540.7,189.8 542,193.9 543.2,198.1 544.4,202 545.6,205.6 546.8,208.9 548,211.9 549.2,214.4 550.4,216.6 551.6,218.5 552.8,220 554,221.2 557.3,223.4 560.6,224.5 563.9,225.2 567.2,225.8 570.5,226.3 573.8,226.6 577.1,226.9 580.3,227 583.6,227.2 586.9,227.4 590.2,227.6 593.5,227.8 596.8,228.1 600.1,228.4 603.4,228.6"/>
<polyline points="421.3,231.5 424.2,231.5 426.4,231.1 428.2,229.9 429.7,229.4 431.5,229.7 433.3,230.5 435.9,231.3 443.2,231.5 457.8,231.5 472.5,231.5 479.8,231.5 481.6,231.6 482.8,231.7 484,231.8 485.2,232.1 486.4,232.5 487.6,233.2 488.9,234.1 490.1,235.2 491.3,236.5 492.5,238 493.7,239.5 494.9,240.7 496.1,241.6 497.3,242.1 498.5,242.1 499.7,241.6 500.9,241.1 502.1,240.7 503.3,241 504.5,242.2 505.7,244.7 507,248.5 508.2,253.7 509.4,259.9 510.6,266.8 511.8,273.8 513,280.1 514.2,285.2 515.4,288.2 516.6,288.8 517.8,282.3 519,269.1 520.2,254.1 521.4,241.2 522.6,231.5 523.8,224 525.1,217.2 526.3,210.3 527.5,203.3 528.7,197 529.9,192.7 531.1,191.1 532.3,191.3 533.5,192.2 534.7,193.6 535.9,195.5 537.1,197.9 538.3,200.6 539.5,203.5 540.7,206.4 542,209.4 543.2,212.2 544.4,214.9 545.6,217.4 546.8,219.6 548,221.5 549.2,223.2 550.4,224.6 551.6,225.7 552.8,226.6 554,227.4 557.3,228.6 560.6,229 563.9,228.8 567.2,228 570.5,227.2 573.8,227 577.1,227.6 580.3,228.4 583.6,229.3 586.9,229.9 590.2,230.3 593.5,230.5 596.8,230.6 600.1,230.7 603.4,230.8"/>
<polyline points="421.3,231.1 424.2,231.1 426.4,230.7 428.2,229.6 429.7,229 431.5,229.4 433.3,230.2 435.9,230.9 443.2,231.1 457.8,231.1 472.5,231.1 479.8,231.1 481.6,231.1 482.8,231.1 484,231 485.2,231 486.4,230.8 487.6,230.6 488.9,230.3 490.1,230 491.3,229.5 492.5,229.1 493.7,228.6 494.9,228.2 496.1,227.9 497.3,227.8 498.5,228 499.7,228.6 500.9,229.4 502.1,230.7 503.3,232.4 504.5,234.5 505.7,237.2 507,240.5 508.2,244.5 509.4,249 510.6,253.9 511.8,258.8 513,263.2 514.2,266.8 515.4,269 516.6,269.6 517.8,266 519,257 520.2,245.4 521.4,234 522.6,223.4 523.8,212.9 525.1,201.3 526.3,187.9 527.5,173.6 528.7,160.1 529.9,149.8 531.1,144.8 532.3,144.4 533.5,145.4 534.7,147.7 535.9,151.2 537.1,155.7 538.3,160.9 539.5,166.6 540.7,172.5 542,178.5 543.2,184.2 544.4,189.7 545.6,194.8 546.8,199.3 548,203.3 549.2,206.8 550.4,209.8 551.6,212.2 552.8,214.3 554,215.9 557.3,218.8 560.6,220.3 563.9,221.1 567.2,221.5 570.5,221.8 573.8,222.2 577.1,222.8 580.3,223.5 583.6,224.3 586.9,224.9 590.2,225.5 593.5,226 596.8,226.5 600.1,227 603.4,227.4"/>
<polyline points="421.3,231.5 424.2,231.5 426.4,231.1 428.2,229.9 429.7,229.4 431.5,229.7 433.3,230.5 435.9,231.3 443.2,231.5 457.8,231.5 472.5,231.5 479.8,231.5 481.6,231.5 482.8,231.5 484,231.6 485.2,231.6 486.4,231.8 487.6,232 488.9,232.4 490.1,233 491.3,234 492.5,235.3 493.7,236.9 494.9,238.8 496.1,240.8 497.3,242.8 498.5,244.5 499.7,245.7 500.9,246.1 502.1,245.8 503.3,244.9 504.5,243.5 505.7,242.3 507,241.6 508.2,241.7 509.4,243 510.6,245.5 511.8,249.1 513,253.6 514.2,258.7 515.4,263.8 516.6,268.3 517.8,271.8 519,273.8 520.2,273.7 521.4,267.9 522.6,257.3 523.8,245.6 525.1,235.4 526.3,227 527.5,219.5 528.7,211.9 529.9,203.7 531.1,195.4 532.3,188 533.5,183 534.7,181.3 535.9,181.4 537.1,182.3 538.3,183.9 539.5,186.2 540.7,189 542,192.2 543.2,195.6 544.4,199.1 545.6,202.5 546.8,205.9 548,209 549.2,211.9 550.4,214.4 551.6,216.7 552.8,218.6 554,220.2 557.3,223.3 560.6,225 563.9,225.7 567.2,225.9 570.5,225.7 573.8,225.4 577.1,225.5 580.3,226 583.6,226.8 586.9,227.5 590.2,228 593.5,228.5 596.8,228.8 600.1,229.1 603.4,229.3"/>
<polyline points="421.3,230.9 424.2,230.9 426.4,230.5 428.2,229.4 429.7,228.8 431.5,229.2 433.3,230 435.9,230.7 443.2,230.9 457.8,230.9 472.5,230.9 479.8,230.9 481.6,231 482.8,231.1 484,231.2 485.2,231.4 486.4,231.7 487.6,232.1 488.9,232.7 490.1,233.5 491.3,234.4 492.5,235.3 493.7,236.3 494.9,237.1 496.1,237.6 497.3,237.9 498.5,237.8 499.7,237.6 500.9,237.2 502.1,237.1 503.3,237.4 504.5,238.4 505.7,240.3 507,243.2 508.2,246.9 509.4,251.4 510.6,256.2 511.8,261 513,265.2 514.2,268.5 515.4,270.3 516.6,270.1 517.8,264.5 519,254.6 520.2,243.8 521.4,234.3 522.6,226.6 523.8,219.9 525.1,213 526.3,205.5 527.5,198 528.7,191.4 529.9,186.9 531.1,185.4 532.3,185.5 533.5,186.3 534.7,187.7 535.9,189.7 537.1,192.3 538.3,195.1 539.5,198.2 540.7,201.3 542,204.4 543.2,207.4 544.4,210.2 545.6,212.8 546.8,215.1 548,217.1 549.2,218.8 550.4,220.3 551.6,221.5 552.8,222.4 554,223.2 557.3,224.7 560.6,225.7 563.9,226.6 567.2,227.9 570.5,229.1 573.8,229.5 577.1,229.3 580.3,228.8 583.6,228.4 586.9,228.2 590.2,228.2 593.5,228.3 596.8,228.6 600.1,228.8 603.4,229"/>
<polyline points="421.3,231 424.2,231 426.4,230.6 428.2,229.5 429.7,228.9 431.5,229.2 433.3,230 435.9,230.8 443.2,231 457.8,231 472.5,231 479.8,231 481.6,231.1 482.8,231.2 484,231.5 485.2,231.9 486.4,232.6 487.6,233.8 488.9,235.5 490.1,237.9 491.3,241 492.5,244.7 493.7,248.7 494.9,252.7 496.1,256.2 497.3,258.6 498.5,259.7 499.7,259.3 500.9,257.3 502.1,254.4 503.3,251.1 504.5,248.3 505.7,246.7 507,246.6 508.2,248.2 509.4,251.6 510.6,256.2 511.8,261.8 513,267.6 514.2,273.1 515.4,277.4 516.6,280 517.8,280.6 519,275.3 520.2,263.8 521.4,250.6 522.6,239.1 523.8,230.5 525.1,224.3 526.3,219.1 527.5,214.1 528.7,209.1 529.9,204.6 531.1,201.2 532.3,199.5 533.5,199 534.7,199.1 535.9,199.6 537.1,200.5 538.3,201.9 539.5,203.6 540.7,205.3 542,207.1 543.2,209 544.4,210.7 545.6,212.4 546.8,214 548,215.4 549.2,216.6 550.4,217.7 551.6,218.6 552.8,219.4 554,220.1 557.3,221.3 560.6,222 563.9,222.3 567.2,222.3 570.5,222.1 573.8,222.2 577.1,222.8 580.3,223.6 583.6,224.5 586.9,225.3 590.2,226 593.5,226.5 596.8,227 600.1,227.4 603.4,227.7"/>
<polyline points="421.3,231 424.2,231 426.4,230.6 428.2,229.5 429.7,228.9 431.5,229.3 433.3,230.1 435.9,230.8 443.2,231 457.8,231 472.5,231 479.8,231.1 481.6,231.1 482.8,231.1 484,231.2 485.2,231.4 486.4,231.7 487.6,232.1 488.9,232.8 490.1,233.7 491.3,235 492.5,236.6 493.7,238.4 494.9,240.2 496.1,241.8 497.3,243.1 498.5,243.9 499.7,244.1 500.9,243.7 502.1,243 503.3,242.3 504.5,242.1 505.7,242.9 507,245 508.2,248.6 509.4,253.9 510.6,260.5 511.8,268.1 513,276 514.2,283.6 515.4,290 516.6,294.3 517.8,296.1 519,292.6 520.2,280 521.4,263 522.6,247 523.8,234.6 525.1,225.6 526.3,218.3 527.5,211.4 528.7,204.4 529.9,197.8 531.1,192.5 532.3,189.5 533.5,188.9 534.7,189.1 535.9,189.9 537.1,191.4 538.3,193.4 539.5,195.7 540.7,198.4 542,201.1 543.2,203.8 544.4,206.5 545.6,209.1 546.8,211.5 548,213.7 549.2,215.6 550.4,217.2 551.6,218.7 552.8,219.9 554,220.9 557.3,222.7 560.6,223.7 563.9,224.2 567.2,224.3 570.5,224.4 573.8,224.5 577.1,224.9 580.3,225.5 583.6,226.1 586.9,226.6 590.2,227.1 593.5,227.5 596.8,227.8 600.1,228.1 603.4,228.4"/>
<polyline points="421.3,230.7 424.2,230.6 426.4,230.2 428.2,229.1 429.7,228.5 431.5,228.9 433.3,229.7 435.9,230.4 443.2,230.7 457.8,230.7 472.5,230.7 479.8,230.7 481.6,230.7 482.8,230.7 484,230.7 485.2,230.7 486.4,230.7 487.6,230.7 488.9,230.7 490.1,230.7 491.3,230.7 492.5,230.8 493.7,230.8 494.9,230.9 496.1,230.9 497.3,231 498.5,231.2 499.7,231.4 500.9,231.8 502.1,232.5 503.3,233.7 504.5,235.6 505.7,238.5 507,242.6 508.2,248.2 509.4,255.4 510.6,264.2 511.8,274.1 513,284.8 514.2,295.2 515.4,304.4 516.6,311.4 517.8,315.3 519,314.9 520.2,303 521.4,282.3 522.6,260.3 523.8,242 525.1,228.8 526.3,219 527.5,210.3 528.7,201.7 529.9,193.2 531.1,185.9 532.3,180.9 533.5,179.2 534.7,179.1 535.9,179.9 537.1,181.4 538.3,183.5 539.5,186.3 540.7,189.4 542,192.7 543.2,196.1 544.4,199.5 545.6,202.7 546.8,205.8 548,208.6 549.2,211.1 550.4,213.3 551.6,215.1 552.8,216.7 554,218.1 557.3,220.5 560.6,221.7 563.9,221.9 567.2,220.9 570.5,219.1 573.8,217.9 577.1,218.4 580.3,220.1 583.6,222.2 586.9,224 590.2,225.4 593.5,226.2 596.8,226.8 600.1,227.2 603.4,227.6"/>
<polyline points="421.3,231.3 424.2,231.3 426.4,230.9 428.2,229.7 429.7,229.1 431.5,229.5 433.3,230.3 435.9,231.1 443.2,231.3 457.8,231.3 472.5,231.3 479.8,231.3 481.6,231.4 482.8,231.5 484,231.8 485.2,232.2 486.4,232.7 487.6,233.5 488.9,234.6 490.1,235.9 491.3,237.4 492.5,239 493.7,240.4 494.9,241.5 496.1,242.2 497.3,242.4 498.5,242 499.7,241.4 500.9,240.9 502.1,240.7 503.3,241.4 504.5,243.3 505.7,246.4 507,250.9 508.2,256.7 509.4,263.3 510.6,270.2 511.8,276.7 513,282.3 514.2,286.1 515.4,287.7 516.6,284.8 517.8,273.8 519,258.9 520.2,244.5 521.4,232.8 522.6,223.4 523.8,214.9 525.1,206.1 526.3,196.8 527.5,187.9 528.7,180.9 529.9,177 531.1,176.5 532.3,177.1 533.5,178.5 534.7,180.7 535.9,183.5 537.1,186.9 538.3,190.6 539.5,194.4 540.7,198.3 542,202.1 543.2,205.7 544.4,209 545.6,212.1 546.8,214.7 548,217.1 549.2,219 550.4,220.7 551.6,222.1 552.8,223.1 554,224 557.3,225.5 560.6,226.2 563.9,226.3 567.2,226.2 570.5,226.1 573.8,226.3 577.1,226.8 580.3,227.4 583.6,227.9 586.9,228.3 590.2,228.7 593.5,228.9 596.8,229.2 600.1,229.4 603.4,229.6"/>
<polyline points="421.3,231.8 424.2,231.8 426.4,231.4 428.2,230.2 429.7,229.6 431.5,230 433.3,230.8 435.9,231.6 443.2,231.8 457.8,231.8 472.5,231.8 479.8,231.8 481.6,231.9 482.8,231.9 484,232.1 485.2,232.4 486.4,232.9 487.6,233.7 488.9,234.8 490.1,236.4 491.3,238.5 492.5,241 493.7,243.7 494.9,246.4 496.1,248.7 497.3,250.4 498.5,251.3 499.7,251.1 500.9,250.1 502.1,248.7 503.3,247.3 504.5,246.8 505.7,247.5 507,250 508.2,254.4 509.4,260.7 510.6,268.6 511.8,277.4 513,286.5 514.2,294.7 515.4,301.3 516.6,305.3 517.8,306.1 519,298.2 520.2,281 521.4,260.9 522.6,243.3 523.8,230 525.1,219.9 526.3,210.9 527.5,202 528.7,192.9 529.9,184.7 531.1,178.5 532.3,175.6 533.5,175.1 534.7,175.4 535.9,176.5 537.1,178.4 538.3,181.1 539.5,184.2 540.7,187.5 542,191 543.2,194.4 544.4,197.8 545.6,200.9 546.8,203.8 548,206.5 549.2,208.8 550.4,210.8 551.6,212.5 552.8,214 554,215.2 557.3,217.5 560.6,218.7 563.9,219.4 567.2,219.7 570.5,219.9 573.8,220.3 577.1,221 580.3,222 583.6,223 586.9,223.9 590.2,224.7 593.5,225.3 596.8,226 600.1,226.5 603.4,227.1"/>
<polyline points="421.3,231.5 424.2,231.5 426.4,231.1 428.2,230 429.7,229.4 431.5,229.8 433.3,230.5 435.9,231.3 443.2,231.5 457.8,231.5 472.5,231.5 479.8,231.5 481.6,231.5 482.8,231.6 484,231.6 485.2,231.8 486.4,232 487.6,232.3 488.9,232.8 490.1,233.5 491.3,234.5 492.5,235.6 493.7,236.9 494.9,238.3 496.1,239.5 497.3,240.4 498.5,241 499.7,241.2 500.9,240.9 502.1,240.4 503.3,239.9 504.5,239.9 505.7,240.6 507,242.4 508.2,245.4 509.4,249.5 510.6,254.8 511.8,260.8 513,267 514.2,272.9 515.4,277.8 516.6,281.1 517.8,282.3 519,279.2 520.2,268.6 521.4,254.6 522.6,241.2 523.8,230.3 525.1,221.6 526.3,213.9 527.5,205.9 528.7,197.7 529.9,189.8 531.1,183.4 532.3,179.5 533.5,178.4 534.7,178.3 535.9,178.9 537.1,180.3 538.3,182.4 539.5,185.1 540.7,188 542,191 543.2,194.1 544.4,197.1 545.6,200 546.8,202.7 548,205.1 549.2,207.3 550.4,209.2 551.6,210.8 552.8,212.2 554,213.4 557.3,215.6 560.6,217 563.9,218 567.2,219 570.5,220 573.8,220.9 577.1,221.6 580.3,222.1 583.6,222.6 586.9,223.1 590.2,223.6 593.5,224.3 596.8,224.9 600.1,225.6 603.4,226.2"/>
<polyline points="421.3,231.3 424.2,231.3 426.4,230.9 428.2,229.8 429.7,229.2 431.5,229.6 433.3,230.3 435.9,231.1 443.2,231.3 457.8,231.3 472.5,231.3 479.8,231.4 481.6,231.6 482.8,231.9 484,232.4 485.2,233.2 486.4,234.4 487.6,236 488.9,238.2 490.1,240.8 491.3,243.6 492.5,246.4 493.7,248.9 494.9,250.8 496.1,251.7 497.3,251.6 498.5,250.4 499.7,248.7 500.9,246.9 502.1,245.6 503.3,245.4 504.5,246.7 505.7,249.7 507,254.3 508.2,260.3 509.4,267.2 510.6,274.3 511.8,281 513,286.4 514.2,289.8 515.4,290.8 516.6,285.4 517.8,272.3 519,256.7 520.2,242.9 521.4,232.6 522.6,225.2 523.8,219.2 525.1,213.3 526.3,207.5 527.5,202.1 528.7,198.1 529.9,196.2 531.1,195.9 532.3,196.2 533.5,197 534.7,198.3 535.9,200 537.1,202.1 538.3,204.2 539.5,206.5 540.7,208.8 542,211 543.2,213.1 544.4,215 545.6,216.8 546.8,218.3 548,219.7 549.2,220.8 550.4,221.8 551.6,222.5 552.8,223.2 554,223.7 557.3,224.5 560.6,224.5 563.9,223.7 567.2,222.2 570.5,221.1 573.8,221.5 577.1,222.8 580.3,224.5 583.6,226.1 586.9,227.2 590.2,227.9 593.5,228.3 596.8,228.6 600.1,228.9 603.4,229.2"/>
<polyline points="421.3,230.3 424.2,230.2 426.4,229.8 428.2,228.7 429.7,228.1 431.5,228.5 433.3,229.3 435.9,230 443.2,230.3 457.8,230.3 472.5,230.3 479.8,230.3 481.6,230.3 482.8,230.2 484,230.2 485.2,230.1 486.4,230 487.6,229.8 488.9,229.5 490.1,229.2 491.3,228.7 492.5,228.1 493.7,227.5 494.9,226.8 496.1,226.3 497.3,226 498.5,226 499.7,226.3 500.9,227.1 502.1,228.3 503.3,230 504.5,232.2 505.7,235.1 507,238.7 508.2,243.1 509.4,248.3 510.6,254.2 511.8,260.4 513,266.6 514.2,272.2 515.4,276.6 516.6,279.2 517.8,279.7 519,274.2 520.2,262.7 521.4,249.4 522.6,237.9 523.8,229.4 525.1,223.3 526.3,218.3 527.5,213.6 528.7,208.8 529.9,204.5 531.1,201.2 532.3,199.5 533.5,198.9 534.7,198.8 535.9,199.2 537.1,200 538.3,201.2 539.5,202.7 540.7,204.3 542,206 543.2,207.6 544.4,209.2 545.6,210.8 546.8,212.2 548,213.5 549.2,214.6 550.4,215.6 551.6,216.5 552.8,217.2 554,217.8 557.3,219 560.6,219.8 563.9,220.5 567.2,221.2 570.5,221.9 573.8,222.5 577.1,222.9 580.3,223.3 583.6,223.7 586.9,224.1 590.2,224.6 593.5,225 596.8,225.5 600.1,226 603.4,226.4"/>
<polyline points="421.3,231.4 424.2,231.4 426.4,231 428.2,229.9 429.7,229.3 431.5,229.7 433.3,230.4 435.9,231.2 443.2,231.4 457.8,231.4 472.5,231.4 479.8,231.5 481.6,231.6 482.8,231.8 484,232.1 485.2,232.7 486.4,233.5 487.6,234.8 488.9,236.5 490.1,238.6 491.3,241.2 492.5,243.9 493.7,246.5 494.9,248.8 496.1,250.3 497.3,250.9 498.5,250.6 499.7,249.4 500.9,247.9 502.1,246.6 503.3,246.1 504.5,247.1 505.7,249.8 507,254.4 508.2,260.8 509.4,268.5 510.6,277.1 511.8,285.7 513,293.4 514.2,299.3 515.4,302.7 516.6,302.6 517.8,292.8 519,275.5 520.2,257 521.4,241.5 522.6,230.1 523.8,221.5 525.1,213.9 526.3,206.2 527.5,198.6 528.7,192 529.9,187.5 531.1,186 532.3,186.2 533.5,187 534.7,188.4 535.9,190.5 537.1,193 538.3,195.9 539.5,199 540.7,202.1 542,205.2 543.2,208.2 544.4,211.1 545.6,213.6 546.8,215.9 548,218 549.2,219.7 550.4,221.2 551.6,222.4 552.8,223.3 554,224.1 557.3,225.5 560.6,226.2 563.9,226.3 567.2,226.2 570.5,226 573.8,226.2 577.1,226.7 580.3,227.3 583.6,227.8 586.9,228.3 590.2,228.7 593.5,229 596.8,229.2 600.1,229.4 603.4,229.6"/>
<polyline points="421.3,229.8 424.2,229.8 426.4,229.4 428.2,228.3 429.7,227.7 431.5,228.1 433.3,228.9 435.9,229.6 443.2,229.8 457.8,229.8 472.5,229.8 479.8,229.9 481.6,230 482.8,230.2 484,230.6 485.2,231.2 486.4,232.3 487.6,233.9 488.9,236.2 490.1,239.2 491.3,243 492.5,247.4 493.7,251.8 494.9,256 496.1,259.3 497.3,261.2 498.5,261.4 499.7,259.5 500.9,254.5 502.1,244.9 503.3,229.9 504.5,213 505.7,203.5 507,208.4 508.2,225.4 509.4,245.4 510.6,261.7 511.8,273.5 513,282.4 514.2,289.3 515.4,294.1 516.6,296.4 517.8,294 519,282.3 520.2,265.4 521.4,249 522.6,236.2 523.8,226.9 525.1,219.5 526.3,212.6 527.5,205.5 528.7,198.7 529.9,193.1 531.1,189.9 532.3,189.2 533.5,189.6 534.7,190.7 535.9,192.5 537.1,194.8 538.3,197.6 539.5,200.7 540.7,203.8 542,206.9 543.2,209.9 544.4,212.7 545.6,215.2 546.8,217.5 548,219.4 549.2,221 550.4,222.3 551.6,223.4 552.8,224.2 554,224.9 557.3,226 560.6,226.1 563.9,225 567.2,222.5 570.5,219.6 573.8,218.7 577.1,220.1 580.3,222.6 583.6,225.2 586.9,227.2 590.2,228.4 593.5,229 596.8,229.3 600.1,229.4 603.4,229.5"/>
<polyline points="421.3,231.2 424.2,231.2 426.4,230.8 428.2,229.7 429.7,229.1 431.5,229.5 433.3,230.2 435.9,231 443.2,231.2 457.8,231.2 472.5,231.2 479.8,231.3 481.6,231.4 482.8,231.6 484,232 485.2,232.8 486.4,234 487.6,235.8 488.9,238.5 490.1,242.1 491.3,246.6 492.5,251.9 493.7,257.4 494.9,262.7 496.1,266.9 497.3,269.6 498.5,270.3 499.7,268.6 500.9,264 502.1,255.8 503.3,243.5 504.5,229.5 505.7,220.3 507,222.4 508.2,235.2 509.4,252.3 510.6,267.7 511.8,280.1 513,290.1 514.2,298.3 515.4,304.2 516.6,307.3 517.8,306.1 519,294.2 520.2,275.4 521.4,256.2 522.6,240.9 523.8,230 525.1,221.9 526.3,214.6 527.5,207.4 528.7,200.4 529.9,194.3 531.1,190.4 532.3,189.2 533.5,189.3 534.7,190.1 535.9,191.6 537.1,193.8 538.3,196.5 539.5,199.4 540.7,202.5 542,205.6 543.2,208.6 544.4,211.4 545.6,214 546.8,216.3 548,218.2 549.2,219.9 550.4,221.3 551.6,222.4 552.8,223.4 554,224.1 557.3,225.3 560.6,225.5 563.9,224.1 567.2,220.9 570.5,217 573.8,215.6 577.1,217.4 580.3,220.8 583.6,224.5 586.9,227.3 590.2,229 593.5,229.8 596.8,230.3 600.1,230.5 603.4,230.7"/>
<polyline points="421.3,230.6 424.2,230.6 426.4,230.2 428.2,229.1 429.7,228.5 431.5,228.9 433.3,229.7 435.9,230.4 443.2,230.6 457.8,230.6 472.5,230.6 479.8,230.7 481.6,230.9 482.8,231.1 484,231.6 485.2,232.4 486.4,233.7 487.6,235.8 488.9,238.8 490.1,242.8 491.3,247.8 492.5,253.5 493.7,259.6 494.9,265.2 496.1,269.8 497.3,272.6 498.5,273.2 499.7,271 500.9,265.5 502.1,255.6 503.3,240.7 504.5,223.8 505.7,212.8 507,214.9 508.2,228.9 509.4,246.9 510.6,262.4 511.8,274 513,283 514.2,290.1 515.4,295.2 516.6,297.8 517.8,296.3 519,285.3 520.2,268.6 521.4,251.8 522.6,238.5 523.8,229 525.1,221.7 526.3,215.1 527.5,208.4 528.7,202 529.9,196.5 531.1,193.2 532.3,192.4 533.5,192.6 534.7,193.6 535.9,195.2 537.1,197.3 538.3,199.9 539.5,202.7 540.7,205.7 542,208.6 543.2,211.4 544.4,214.1 545.6,216.5 546.8,218.6 548,220.4 549.2,222 550.4,223.3 551.6,224.3 552.8,225.1 554,225.8 557.3,226.8 560.6,227 563.9,226.1 567.2,223.9 570.5,221.3 573.8,220.4 577.1,221.6 580.3,223.8 583.6,226.3 586.9,228.1 590.2,229.2 593.5,229.8 596.8,230.1 600.1,230.2 603.4,230.3"/>
</g>
<rect x="421.07" y="125.1" width="183.7" height="212.1" fill="none" stroke="#000" stroke-width="2.4"/>
<path d="M410.07 160.3H421.07M410.07 195.75H421.07M410.07 231.2H421.07M410.07 266.65H421.07M410.07 302.1H421.07M457.84 337.2V348.2M512.69 337.2V348.2M567.55 337.2V348.2" stroke="#000" stroke-width="2.4" fill="none"/>
<text transform="translate(437.48,384.1) scale(0.97,1)" x="0.85 22" font-size="34.01" fill="#000">10</text>
<text transform="translate(492.34,384.1) scale(0.95,1)" x="0.85 22.69" font-size="34.01" fill="#000">25</text>
<text transform="translate(547.19,384.1) scale(0.99,1)" x="0.8 21.33" font-size="34.01" fill="#000">40</text>
<text transform="translate(442.68,429.9) scale(1.07,1)" x="1.09 12.1 20.56 48.86 67.06 67.06 86.84 114.83" font-size="33.55" fill="#000">time, ms</text>
<text transform="translate(673.01,64.2) scale(1,1)" x="-0.61 16.1 40.44 63.26 77.31 87.91 98.33" font-size="40.26" fill="#000">Tactile</text>
<text transform="translate(654.83,106.2) scale(1.03,1)" x="0.73 11.9 45.58 70.09 93.72 118 132.67" font-size="40.26" fill="#000">imagery</text>
<path d="M678.96 125.1V337.2M733.81 125.1V337.2M788.67 125.1V337.2" stroke="#b0b0b0" stroke-opacity="0.33" stroke-width="1.8" fill="none"/>
<path d="M642.04 160.3H825.74M642.04 195.75H825.74M642.04 231.2H825.74M642.04 266.65H825.74M642.04 302.1H825.74" stroke="#b0b0b0" stroke-opacity="0.33" stroke-width="1.8" fill="none"/>
<g fill="none" stroke="#f04f1a" stroke-width="1.5" stroke-opacity="0.26" stroke-linejoin="round">
<polyline points="642.2,231.8 645.2,231.8 647.4,231.4 649.2,230.3 650.7,229.7 652.5,230.1 654.3,230.9 656.9,231.6 664.2,231.8 678.8,231.8 693.4,231.8 700.8,231.8 702.6,231.9 703.8,231.9 705,231.9 706.2,232.1 707.4,232.3 708.6,232.7 709.8,233.3 711,234.2 712.2,235.5 713.4,237.2 714.6,239 715.9,241 717.1,242.8 718.3,244.1 719.5,244.8 720.7,244.8 721.9,244.4 723.1,243.7 724.3,243 725.5,242.7 726.7,243 727.9,244.3 729.1,246.7 730.3,250.3 731.5,255.1 732.8,261 734,267.4 735.2,273.9 736.4,280 737.6,285 738.8,288.4 740,289.7 741.2,286.1 742.4,274.5 743.6,259.2 744.8,244.7 746,233.2 747.2,224.4 748.4,216.8 749.6,209.4 750.9,201.8 752.1,194.8 753.3,189.3 754.5,186.3 755.7,185.8 756.9,186.4 758.1,187.8 759.3,190 760.5,192.9 761.7,196.2 762.9,199.8 764.1,203.5 765.3,207.1 766.5,210.4 767.7,213.4 769,216 770.2,218.1 771.4,219.9 772.6,221.3 773.8,222.3 775,223.2 778.3,224.4 781.6,224.8 784.9,224.5 788.2,223.5 791.4,222.1 794.7,221.5 798,222.1 801.3,223.3 804.6,224.8 807.9,226 811.2,226.9 814.5,227.4 817.8,227.8 821.1,228.1 824.4,228.4"/>
<polyline points="642.2,231.4 645.2,231.4 647.4,231 649.2,229.9 650.7,229.3 652.5,229.7 654.3,230.4 656.9,231.2 664.2,231.4 678.8,231.4 693.4,231.4 700.8,231.4 702.6,231.4 703.8,231.4 705,231.5 706.2,231.6 707.4,231.7 708.6,232 709.8,232.3 711,232.9 712.2,233.5 713.4,234.3 714.6,235.1 715.9,235.8 717.1,236.4 718.3,236.8 719.5,236.9 720.7,237 721.9,237 723.1,237.2 724.3,237.8 725.5,239 726.7,241 727.9,244 729.1,248 730.3,253.1 731.5,259 732.8,265.5 734,272.1 735.2,278.2 736.4,283.3 737.6,286.8 738.8,288.2 740,285.4 741.2,274.4 742.4,259.2 743.6,244.2 744.8,231.7 746,221.4 747.2,211.9 748.4,202.1 749.6,192 750.9,182.4 752.1,174.8 753.3,170.5 754.5,169.8 755.7,170.7 756.9,172.8 758.1,175.9 759.3,179.9 760.5,184.5 761.7,189.5 762.9,194.7 764.1,199.6 765.3,204.3 766.5,208.4 767.7,211.9 769,215 770.2,217.4 771.4,219.4 772.6,220.9 773.8,222 775,222.9 778.3,224.2 781.6,224.6 784.9,224.6 788.2,224.3 791.4,224 794.7,224.1 798,224.5 801.3,225.2 804.6,225.9 807.9,226.4 811.2,226.9 814.5,227.2 817.8,227.5 821.1,227.8 824.4,228.1"/>
<polyline points="642.2,230.9 645.2,230.9 647.4,230.5 649.2,229.3 650.7,228.8 652.5,229.1 654.3,229.9 656.9,230.7 664.2,230.9 678.8,230.9 693.4,230.9 700.8,230.9 702.6,231 703.8,231.2 705,231.5 706.2,232.1 707.4,233.1 708.6,234.5 709.8,236.5 711,239.2 712.2,242.2 713.4,245.5 714.6,248.4 715.9,250.7 717.1,251.9 718.3,251.9 719.5,250.9 720.7,249.1 721.9,246.9 723.1,244.5 724.3,242.3 725.5,240.6 726.7,239.6 727.9,239.4 729.1,239.8 730.3,240.9 731.5,242.5 732.8,244.3 734,246.1 735.2,247.6 736.4,248.7 737.6,249.1 738.8,248.1 740,244.4 741.2,238.8 742.4,232.8 743.6,226.9 744.8,221 746,214.3 747.2,206.8 748.4,198.5 749.6,190.5 750.9,184 752.1,180 753.3,179.1 754.5,179.4 755.7,180.8 756.9,183.1 758.1,186.1 759.3,189.7 760.5,193.6 761.7,197.7 762.9,201.8 764.1,205.5 765.3,208.9 766.5,211.8 767.7,214.3 769,216.3 770.2,217.9 771.4,219.2 772.6,220.1 773.8,220.9 775,221.4 778.3,222.2 781.6,222.3 784.9,222 788.2,221.3 791.4,220.8 794.7,221.1 798,221.9 801.3,223 804.6,223.9 807.9,224.7 811.2,225.3 814.5,225.7 817.8,226.1 821.1,226.4 824.4,226.7"/>
<polyline points="642.2,231.3 645.2,231.3 647.4,230.9 649.2,229.8 650.7,229.2 652.5,229.6 654.3,230.4 656.9,231.1 664.2,231.3 678.8,231.3 693.4,231.3 700.8,231.3 702.6,231.3 703.8,231.4 705,231.4 706.2,231.5 707.4,231.8 708.6,232.2 709.8,232.8 711,233.9 712.2,235.3 713.4,237.3 714.6,239.5 715.9,242 717.1,244.4 718.3,246.3 719.5,247.4 720.7,247.6 721.9,247.2 723.1,246.3 724.3,245.2 725.5,244.2 726.7,243.8 727.9,244.2 729.1,245.8 730.3,248.6 731.5,252.6 732.8,257.8 734,263.8 735.2,270.1 736.4,276.2 737.6,281.5 738.8,285.4 740,287.4 741.2,286.4 742.4,277.5 743.6,263.1 744.8,248.1 746,235.3 747.2,225.2 748.4,216.4 749.6,207.7 750.9,198.7 752.1,189.9 753.3,182.5 754.5,177.8 755.7,176.6 756.9,177 758.1,178.6 759.3,181.2 760.5,184.6 761.7,188.6 762.9,193 764.1,197.5 765.3,202 766.5,206.2 767.7,210 769,213.3 770.2,216.1 771.4,218.4 772.6,220.3 773.8,221.8 775,222.9 778.3,224.6 781.6,225.4 784.9,225.7 788.2,226.1 791.4,226.4 794.7,226.7 798,226.9 801.3,227 804.6,227.1 807.9,227.2 811.2,227.4 814.5,227.6 817.8,227.8 821.1,228.1 824.4,228.3"/>
<polyline points="642.2,231.2 645.2,231.2 647.4,230.8 649.2,229.7 650.7,229.1 652.5,229.5 654.3,230.3 656.9,231 664.2,231.2 678.8,231.2 693.4,231.2 700.8,231.2 702.6,231.3 703.8,231.3 705,231.4 706.2,231.6 707.4,231.9 708.6,232.4 709.8,233.1 711,234.1 712.2,235.4 713.4,236.9 714.6,238.4 715.9,239.8 717.1,240.8 718.3,241.3 719.5,241.4 720.7,241.1 721.9,240.8 723.1,240.6 724.3,240.8 725.5,241.8 726.7,243.8 727.9,246.9 729.1,251.3 730.3,257 731.5,263.6 732.8,270.9 734,278.2 735.2,284.9 736.4,290.4 737.6,294 738.8,295.3 740,291 741.2,277.9 742.4,261.4 743.6,246.6 744.8,235.7 746,228.3 747.2,223 748.4,218.5 749.6,214.3 750.9,210.4 752.1,207.4 753.3,205.7 754.5,205.3 755.7,205.4 756.9,206.1 758.1,207.1 759.3,208.5 760.5,210.2 761.7,212.1 762.9,214 764.1,215.9 765.3,217.6 766.5,219.2 767.7,220.5 769,221.6 770.2,222.6 771.4,223.3 772.6,223.9 773.8,224.3 775,224.6 778.3,225.1 781.6,225.1 784.9,224.7 788.2,223.7 791.4,222.7 794.7,222.6 798,223.3 801.3,224.5 804.6,225.6 807.9,226.5 811.2,227.1 814.5,227.5 817.8,227.8 821.1,228 824.4,228.3"/>
<polyline points="642.2,230.4 645.2,230.4 647.4,230 649.2,228.9 650.7,228.3 652.5,228.7 654.3,229.5 656.9,230.2 664.2,230.4 678.8,230.4 693.4,230.4 700.8,230.4 702.6,230.5 703.8,230.5 705,230.6 706.2,230.8 707.4,231.1 708.6,231.6 709.8,232.4 711,233.6 712.2,235.2 713.4,237.2 714.6,239.3 715.9,241.5 717.1,243.2 718.3,244.4 719.5,244.8 720.7,244.5 721.9,243.8 723.1,242.8 724.3,241.9 725.5,241.3 726.7,241.5 727.9,242.5 729.1,244.6 730.3,247.9 731.5,252.1 732.8,257.1 734,262.5 735.2,267.8 736.4,272.5 737.6,276.1 738.8,278.1 740,278.1 741.2,271.8 742.4,259.9 743.6,246.5 744.8,234.6 746,224.8 747.2,216.2 748.4,207.5 749.6,198.5 750.9,189.3 752.1,181.3 753.3,175.6 754.5,173.3 755.7,173.2 756.9,174.1 758.1,176.1 759.3,179 760.5,182.6 761.7,186.7 762.9,191.1 764.1,195.6 765.3,199.8 766.5,203.6 767.7,207 769,209.9 770.2,212.3 771.4,214.2 772.6,215.8 773.8,216.9 775,217.8 778.3,219.3 781.6,220 784.9,220.5 788.2,221.1 791.4,221.7 794.7,222.2 798,222.5 801.3,222.7 804.6,222.8 807.9,223.1 811.2,223.4 814.5,223.8 817.8,224.2 821.1,224.6 824.4,225"/>
<polyline points="642.2,231.8 645.2,231.8 647.4,231.4 649.2,230.2 650.7,229.7 652.5,230 654.3,230.8 656.9,231.6 664.2,231.8 678.8,231.8 693.4,231.8 700.8,231.8 702.6,231.8 703.8,231.9 705,232 706.2,232.2 707.4,232.6 708.6,233.3 709.8,234.3 711,235.8 712.2,237.7 713.4,240 714.6,242.5 715.9,245 717.1,246.9 718.3,248.1 719.5,248.3 720.7,247.7 721.9,246.4 723.1,244.8 724.3,242.9 725.5,241.2 726.7,239.8 727.9,239 729.1,238.7 730.3,239 731.5,239.9 732.8,241.2 734,242.7 735.2,244.2 736.4,245.6 737.6,246.6 738.8,247 740,246.6 741.2,243.9 742.4,239.5 743.6,234.4 744.8,229.4 746,224.6 747.2,219.4 748.4,213.5 749.6,207 750.9,200.5 752.1,194.8 753.3,190.8 754.5,189.1 755.7,188.7 756.9,189.1 758.1,190.3 759.3,192.1 760.5,194.4 761.7,197.2 762.9,200.2 764.1,203.2 765.3,206.1 766.5,208.7 767.7,211 769,212.9 770.2,214.6 771.4,215.9 772.6,216.9 773.8,217.7 775,218.3 778.3,219.3 781.6,219.7 784.9,219.6 788.2,219.1 791.4,218.6 794.7,218.6 798,219.4 801.3,220.5 804.6,221.7 807.9,222.7 811.2,223.5 814.5,224.1 817.8,224.7 821.1,225.2 824.4,225.6"/>
<polyline points="642.2,231.8 645.2,231.8 647.4,231.4 649.2,230.3 650.7,229.7 652.5,230.1 654.3,230.9 656.9,231.6 664.2,231.8 678.8,231.8 693.4,231.8 700.8,231.8 702.6,231.8 703.8,231.9 705,231.9 706.2,232 707.4,232.2 708.6,232.5 709.8,232.9 711,233.6 712.2,234.6 713.4,235.7 714.6,237.1 715.9,238.5 717.1,239.7 718.3,240.6 719.5,241 720.7,241 721.9,240.8 723.1,240.5 724.3,240.2 725.5,240.4 726.7,241.2 727.9,242.9 729.1,245.6 730.3,249.4 731.5,254.3 732.8,260 734,266.2 735.2,272.4 736.4,278.1 737.6,282.7 738.8,285.7 740,286.7 741.2,282.5 742.4,271.2 743.6,257.4 744.8,245.4 746,237.1 747.2,232.4 748.4,229.7 749.6,228.1 750.9,226.9 752.1,225.8 753.3,224.9 754.5,224.2 755.7,223.7 756.9,223.4 758.1,223.2 759.3,223 760.5,223.1 761.7,223.2 762.9,223.4 764.1,223.8 765.3,224.1 766.5,224.4 767.7,224.7 769,225 770.2,225.2 771.4,225.3 772.6,225.5 773.8,225.6 775,225.7 778.3,225.9 781.6,226 784.9,226 788.2,225.8 791.4,225.6 794.7,225.6 798,225.9 801.3,226.4 804.6,226.9 807.9,227.4 811.2,227.8 814.5,228.1 817.8,228.3 821.1,228.6 824.4,228.8"/>
<polyline points="642.2,231.1 645.2,231.1 647.4,230.7 649.2,229.6 650.7,229 652.5,229.4 654.3,230.2 656.9,230.9 664.2,231.1 678.8,231.1 693.4,231.1 700.8,231.1 702.6,231.2 703.8,231.2 705,231.2 706.2,231.3 707.4,231.4 708.6,231.7 709.8,232.1 711,232.9 712.2,234 713.4,235.6 714.6,237.6 715.9,239.9 717.1,242.4 718.3,244.6 719.5,246.3 720.7,247.2 721.9,247.3 723.1,246.7 724.3,245.8 725.5,244.7 726.7,243.9 727.9,243.8 729.1,244.7 730.3,246.7 731.5,250.1 732.8,254.7 734,260.4 735.2,266.9 736.4,273.5 737.6,279.8 738.8,285 740,288.6 741.2,290.1 742.4,287.3 743.6,276.2 744.8,260.9 746,246.4 747.2,235.1 748.4,226.8 749.6,220.3 750.9,214.3 752.1,208.3 753.3,202.7 754.5,198.3 755.7,195.8 756.9,195.4 758.1,195.8 759.3,196.9 760.5,198.7 761.7,200.9 762.9,203.5 764.1,206.4 765.3,209.3 766.5,212.1 767.7,214.8 769,217.1 770.2,219.2 771.4,220.9 772.6,222.3 773.8,223.4 775,224.3 778.3,225.7 781.6,226.3 784.9,226.5 788.2,226.6 791.4,226.7 794.7,226.7 798,226.9 801.3,227.1 804.6,227.4 807.9,227.6 811.2,227.9 814.5,228.1 817.8,228.3 821.1,228.5 824.4,228.7"/>
<polyline points="642.2,231.1 645.2,231.1 647.4,230.7 649.2,229.5 650.7,229 652.5,229.3 654.3,230.1 656.9,230.9 664.2,231.1 678.8,231.1 693.4,231.1 700.8,231.1 702.6,231.1 703.8,231.2 705,231.3 706.2,231.5 707.4,231.8 708.6,232.4 709.8,233.4 711,234.9 712.2,236.8 713.4,239.2 714.6,241.9 715.9,244.6 717.1,246.9 718.3,248.5 719.5,249.1 720.7,248.8 721.9,247.9 723.1,246.6 724.3,245.3 725.5,244.4 726.7,244.2 727.9,245 729.1,247 730.3,250.4 731.5,254.9 732.8,260.3 734,266.3 735.2,272.3 736.4,277.7 737.6,282 738.8,284.6 740,285.2 741.2,279.6 742.4,267.4 743.6,253.4 744.8,241.4 746,232.9 747.2,227.1 748.4,222.9 749.6,219.1 750.9,215.5 752.1,212.3 753.3,209.9 754.5,208.5 755.7,208 756.9,207.9 758.1,208.3 759.3,208.9 760.5,209.9 761.7,211.2 762.9,212.6 764.1,214.1 765.3,215.6 766.5,216.9 767.7,218.1 769,219.2 770.2,220 771.4,220.7 772.6,221.3 773.8,221.7 775,222.1 778.3,222.6 781.6,223 784.9,223.2 788.2,223.3 791.4,223.4 794.7,223.6 798,224 801.3,224.3 804.6,224.8 807.9,225.1 811.2,225.5 814.5,225.9 817.8,226.2 821.1,226.5 824.4,226.9"/>
<polyline points="642.2,231.2 645.2,231.2 647.4,230.8 649.2,229.7 650.7,229.1 652.5,229.5 654.3,230.3 656.9,231 664.2,231.2 678.8,231.2 693.4,231.2 700.8,231.3 702.6,231.3 703.8,231.4 705,231.7 706.2,232 707.4,232.7 708.6,233.7 709.8,235.2 711,237.2 712.2,239.7 713.4,242.4 714.6,245.1 715.9,247.3 717.1,248.8 718.3,249.3 719.5,248.9 720.7,247.9 721.9,246.6 723.1,245.2 724.3,244.2 725.5,243.9 726.7,244.6 727.9,246.4 729.1,249.4 730.3,253.6 731.5,258.6 732.8,264 734,269.4 735.2,274.2 736.4,277.9 737.6,280.1 738.8,280.2 740,274.1 741.2,262.5 742.4,249.5 743.6,238.5 744.8,230.5 746,224.7 747.2,220 748.4,215.6 749.6,211.2 750.9,207.3 752.1,204.3 753.3,202.6 754.5,201.7 755.7,201.3 756.9,201.5 758.1,202 759.3,203 760.5,204.4 761.7,206 762.9,207.7 764.1,209.4 765.3,210.9 766.5,212.3 767.7,213.4 769,214.4 770.2,215.2 771.4,215.9 772.6,216.4 773.8,216.8 775,217.1 778.3,217.7 781.6,218 784.9,218.1 788.2,218 791.4,218 794.7,218.4 798,219.1 801.3,220 804.6,220.9 807.9,221.6 811.2,222.3 814.5,222.9 817.8,223.5 821.1,224 824.4,224.5"/>
<polyline points="642.2,230.9 645.2,230.8 647.4,230.4 649.2,229.3 650.7,228.7 652.5,229.1 654.3,229.9 656.9,230.6 664.2,230.9 678.8,230.9 693.4,230.9 700.8,230.9 702.6,230.9 703.8,230.9 705,230.9 706.2,231 707.4,231.1 708.6,231.2 709.8,231.5 711,231.8 712.2,232.2 713.4,232.6 714.6,233 715.9,233.4 717.1,233.7 718.3,233.9 719.5,233.9 720.7,233.9 721.9,234 723.1,234.1 724.3,234.6 725.5,235.4 726.7,236.6 727.9,238.5 729.1,240.9 730.3,243.8 731.5,247.2 732.8,250.8 734,254.4 735.2,257.6 736.4,260.2 737.6,261.7 738.8,262.1 740,258.9 741.2,251.7 742.4,242.9 743.6,234.7 744.8,227.6 746,221.3 747.2,214.8 748.4,207.9 749.6,200.8 750.9,194.3 752.1,189.7 753.3,187.7 754.5,187.9 755.7,188.9 756.9,190.8 758.1,193.4 759.3,196.5 760.5,200 761.7,203.7 762.9,207.4 764.1,210.9 765.3,214.1 766.5,217 767.7,219.4 769,221.4 770.2,223.1 771.4,224.4 772.6,225.3 773.8,226.1 775,226.6 778.3,227.4 781.6,227.7 784.9,227.7 788.2,227.6 791.4,227.5 794.7,227.5 798,227.8 801.3,228.1 804.6,228.4 807.9,228.6 811.2,228.8 814.5,228.9 817.8,229.1 821.1,229.2 824.4,229.3"/>
<polyline points="642.2,231.2 645.2,231.2 647.4,230.8 649.2,229.6 650.7,229.1 652.5,229.4 654.3,230.2 656.9,231 664.2,231.2 678.8,231.2 693.4,231.2 700.8,231.2 702.6,231.3 703.8,231.4 705,231.6 706.2,232 707.4,232.7 708.6,233.8 709.8,235.5 711,237.8 712.2,240.7 713.4,244.1 714.6,247.6 715.9,250.7 717.1,252.9 718.3,254 719.5,253.9 720.7,253 721.9,251.4 723.1,249.8 724.3,248.5 725.5,248 726.7,248.8 727.9,251.2 729.1,255.2 730.3,260.8 731.5,267.7 732.8,275.5 734,283.5 735.2,290.9 736.4,296.9 737.6,301 738.8,302.5 740,298 741.2,283.6 742.4,265.3 743.6,248.5 744.8,236.1 746,227.7 747.2,221.6 748.4,216.3 749.6,211.2 750.9,206.6 752.1,203 753.3,201 754.5,200.5 755.7,200.7 756.9,201.4 758.1,202.6 759.3,204.3 760.5,206.3 761.7,208.5 762.9,210.8 764.1,213.1 765.3,215.2 766.5,217 767.7,218.6 769,219.9 770.2,221 771.4,221.9 772.6,222.6 773.8,223.1 775,223.5 778.3,224.2 781.6,224.4 784.9,224.6 788.2,224.6 791.4,224.7 794.7,224.9 798,225.2 801.3,225.6 804.6,226 807.9,226.3 811.2,226.6 814.5,226.9 817.8,227.2 821.1,227.5 824.4,227.8"/>
<polyline points="642.2,230.6 645.2,230.6 647.4,230.2 649.2,229.1 650.7,228.5 652.5,228.9 654.3,229.6 656.9,230.4 664.2,230.6 678.8,230.6 693.4,230.6 700.8,230.6 702.6,230.6 703.8,230.6 705,230.6 706.2,230.6 707.4,230.6 708.6,230.6 709.8,230.7 711,230.7 712.2,230.8 713.4,230.9 714.6,231.1 715.9,231.3 717.1,231.5 718.3,231.8 719.5,232.1 720.7,232.3 721.9,232.5 723.1,232.7 724.3,233 725.5,233.5 726.7,234.4 727.9,235.8 729.1,238 730.3,241.1 731.5,245.3 732.8,250.7 734,257.3 735.2,264.7 736.4,272.8 737.6,280.8 738.8,288.1 740,294.1 741.2,298 742.4,299.5 743.6,295.1 744.8,281.1 746,263 747.2,246.1 748.4,233.1 749.6,223.4 750.9,215.4 752.1,207.7 753.3,200 754.5,192.9 755.7,187.4 756.9,184.5 758.1,184.1 759.3,184.6 760.5,186.1 761.7,188.4 762.9,191.2 764.1,194.6 765.3,198.2 766.5,202 767.7,205.6 769,208.9 770.2,211.9 771.4,214.4 772.6,216.6 773.8,218.4 775,219.8 778.3,222.1 781.6,223.2 784.9,223.6 788.2,223.6 791.4,223.4 794.7,223.3 798,223.4 801.3,223.8 804.6,224.3 807.9,224.9 811.2,225.4 814.5,225.8 817.8,226.2 821.1,226.5 824.4,226.8"/>
<polyline points="642.2,232 645.2,231.9 647.4,231.5 649.2,230.4 650.7,229.8 652.5,230.2 654.3,231 656.9,231.7 664.2,232 678.8,232 693.4,232 700.8,232 702.6,232 703.8,232.1 705,232.2 706.2,232.5 707.4,233 708.6,233.7 709.8,234.9 711,236.5 712.2,238.6 713.4,241 714.6,243.5 715.9,245.8 717.1,247.6 718.3,248.6 719.5,248.7 720.7,248.1 721.9,247.1 723.1,246 724.3,245.1 725.5,244.9 726.7,245.6 727.9,247.5 729.1,250.7 730.3,255.3 731.5,260.9 732.8,267.3 734,273.9 735.2,280.1 736.4,285.3 737.6,288.9 738.8,290.4 740,287.8 741.2,276.9 742.4,261.6 743.6,246.7 744.8,235 746,226.2 747.2,219 748.4,212.2 749.6,205.3 750.9,198.9 752.1,193.6 753.3,190.4 754.5,189.4 755.7,189.4 756.9,190.2 758.1,191.7 759.3,193.9 760.5,196.5 761.7,199.5 762.9,202.6 764.1,205.7 765.3,208.6 766.5,211.2 767.7,213.4 769,215.3 770.2,216.9 771.4,218.1 772.6,219.1 773.8,219.9 775,220.4 778.3,221.3 781.6,221.7 784.9,221.5 788.2,221.1 791.4,220.5 794.7,220.6 798,221.3 801.3,222.4 804.6,223.4 807.9,224.3 811.2,225 814.5,225.5 817.8,225.9 821.1,226.4 824.4,226.8"/>
<polyline points="642.2,232.3 645.2,232.3 647.4,231.9 649.2,230.7 650.7,230.2 652.5,230.5 654.3,231.3 656.9,232.1 664.2,232.3 678.8,232.3 693.4,232.3 700.8,232.3 702.6,232.4 703.8,232.4 705,232.6 706.2,233 707.4,233.6 708.6,234.5 709.8,236 711,238 712.2,240.5 713.4,243.4 714.6,246.5 715.9,249.2 717.1,251.2 718.3,252.2 719.5,252.1 720.7,251.2 721.9,249.7 723.1,247.9 724.3,246.2 725.5,245 726.7,244.5 727.9,245.1 729.1,246.7 730.3,249.4 731.5,253 732.8,257.2 734,261.6 735.2,265.7 736.4,269.1 737.6,271.4 738.8,272.3 740,269.8 741.2,261.7 742.4,250.7 743.6,240.1 744.8,231.2 746,223.9 747.2,217 748.4,209.8 749.6,202.4 750.9,195.3 752.1,189.8 753.3,186.6 754.5,185.9 755.7,186.2 756.9,187.3 758.1,189.3 759.3,191.9 760.5,195 761.7,198.4 762.9,202 764.1,205.5 765.3,208.7 766.5,211.6 767.7,214.1 769,216.2 770.2,217.9 771.4,219.3 772.6,220.3 773.8,221.1 775,221.8 778.3,222.7 781.6,223.1 784.9,223.2 788.2,223 791.4,222.9 794.7,223.1 798,223.6 801.3,224.3 804.6,225 807.9,225.6 811.2,226.1 814.5,226.5 817.8,226.9 821.1,227.3 824.4,227.7"/>
<polyline points="642.2,231.6 645.2,231.6 647.4,231.2 649.2,230 650.7,229.5 652.5,229.8 654.3,230.6 656.9,231.4 664.2,231.6 678.8,231.6 693.4,231.6 700.8,231.6 702.6,231.6 703.8,231.6 705,231.7 706.2,231.8 707.4,232.1 708.6,232.5 709.8,233.2 711,234.1 712.2,235.5 713.4,237.1 714.6,239 715.9,240.9 717.1,242.6 718.3,243.8 719.5,244.3 720.7,244.2 721.9,243.7 723.1,242.9 724.3,242.1 725.5,241.5 726.7,241.5 727.9,242.3 729.1,244.1 730.3,246.9 731.5,250.6 732.8,255.1 734,260.1 735.2,265.1 736.4,269.7 737.6,273.4 738.8,275.8 740,276.5 741.2,272.7 742.4,263.1 743.6,251.3 744.8,240.9 746,233.2 747.2,227.8 748.4,223.6 749.6,219.8 750.9,216.1 752.1,212.7 753.3,210.1 754.5,208.7 755.7,208.2 756.9,208.2 758.1,208.6 759.3,209.4 760.5,210.5 761.7,211.9 762.9,213.4 764.1,215.1 765.3,216.7 766.5,218.1 767.7,219.4 769,220.5 770.2,221.5 771.4,222.2 772.6,222.9 773.8,223.3 775,223.7 778.3,224.3 781.6,224.6 784.9,224.8 788.2,224.9 791.4,224.9 794.7,225.1 798,225.4 801.3,225.7 804.6,226.1 807.9,226.5 811.2,226.8 814.5,227.1 817.8,227.4 821.1,227.7 824.4,228"/>
<polyline points="642.2,230.6 645.2,230.5 647.4,230.1 649.2,229 650.7,228.4 652.5,228.8 654.3,229.6 656.9,230.3 664.2,230.6 678.8,230.6 693.4,230.6 700.8,230.6 702.6,230.6 703.8,230.6 705,230.7 706.2,230.8 707.4,231 708.6,231.4 709.8,232.1 711,233 712.2,234.3 713.4,235.9 714.6,237.6 715.9,239.4 717.1,241 718.3,242.1 719.5,242.5 720.7,242.5 721.9,242.1 723.1,241.6 724.3,241.3 725.5,241.5 726.7,242.5 727.9,244.6 729.1,248 730.3,252.7 731.5,258.7 732.8,265.8 734,273.4 735.2,280.9 736.4,287.7 737.6,293.2 738.8,296.6 740,297.6 741.2,291.3 742.4,276.8 743.6,260 744.8,245.8 746,236.1 747.2,230.3 748.4,226.7 749.6,224 750.9,221.7 752.1,219.8 753.3,218.4 754.5,217.9 755.7,218 756.9,218.4 758.1,219.1 759.3,219.9 760.5,220.9 761.7,222 762.9,223.2 764.1,224.3 765.3,225.4 766.5,226.4 767.7,227.2 769,228 770.2,228.6 771.4,229.1 772.6,229.5 773.8,229.8 775,230 778.3,230.3 781.6,230.4 784.9,230.4 788.2,230.2 791.4,230 794.7,229.9 798,230 801.3,230.1 804.6,230.3 807.9,230.4 811.2,230.5 814.5,230.5 817.8,230.5 821.1,230.5 824.4,230.5"/>
<polyline points="642.2,231 645.2,231 647.4,230.6 649.2,229.4 650.7,228.9 652.5,229.2 654.3,230 656.9,230.8 664.2,231 678.8,231 693.4,231 700.8,231 702.6,231.1 703.8,231.2 705,231.4 706.2,231.8 707.4,232.6 708.6,233.8 709.8,235.7 711,238.4 712.2,242 713.4,246.3 714.6,250.9 715.9,255.3 717.1,258.9 718.3,261 719.5,261.4 720.7,260.4 721.9,258.4 723.1,255.8 724.3,253.2 725.5,251.2 726.7,250.3 727.9,250.9 729.1,253.2 730.3,257.2 731.5,262.8 732.8,269.5 734,276.7 735.2,283.8 736.4,289.9 737.6,294.5 738.8,296.8 740,295.8 741.2,285.5 742.4,268.9 743.6,251.5 744.8,237.1 746,226.2 747.2,217.5 748.4,209.4 749.6,201.3 750.9,193.4 752.1,186.6 753.3,182.1 754.5,180.4 755.7,180.3 756.9,181.1 758.1,182.8 759.3,185.3 760.5,188.4 761.7,191.9 762.9,195.7 764.1,199.5 765.3,203.1 766.5,206.3 767.7,209.1 769,211.5 770.2,213.5 771.4,215.1 772.6,216.3 773.8,217.3 775,218 778.3,219.2 781.6,219.6 784.9,219.5 788.2,218.9 791.4,218.2 794.7,218.2 798,218.9 801.3,220.1 804.6,221.4 807.9,222.4 811.2,223.2 814.5,223.8 817.8,224.3 821.1,224.8 824.4,225.2"/>
<polyline points="642.2,231.4 645.2,231.4 647.4,231 649.2,229.9 650.7,229.3 652.5,229.7 654.3,230.4 656.9,231.2 664.2,231.4 678.8,231.4 693.4,231.4 700.8,231.4 702.6,231.5 703.8,231.5 705,231.7 706.2,231.9 707.4,232.4 708.6,233.2 709.8,234.5 711,236.3 712.2,238.7 713.4,241.7 714.6,245 715.9,248.3 717.1,251 718.3,252.8 719.5,253.4 720.7,252.9 721.9,251.7 723.1,250.1 724.3,248.4 725.5,247.1 726.7,246.7 727.9,247.6 729.1,249.8 730.3,253.5 731.5,258.5 732.8,264.5 734,271.1 735.2,277.7 736.4,283.6 737.6,288.1 738.8,290.8 740,291.1 741.2,283.9 742.4,269.9 743.6,254.3 744.8,241 746,231.2 747.2,224 748.4,217.9 749.6,211.9 750.9,206.1 752.1,201.1 753.3,197.5 754.5,196.2 755.7,196.2 756.9,196.9 758.1,198.4 759.3,200.3 760.5,202.7 761.7,205.4 762.9,208.3 764.1,211.1 765.3,213.9 766.5,216.3 767.7,218.5 769,220.4 770.2,221.9 771.4,223.1 772.6,224.1 773.8,224.9 775,225.5 778.3,226.3 781.6,226.6 784.9,226.6 788.2,226.3 791.4,225.9 794.7,225.9 798,226.2 801.3,226.7 804.6,227.3 807.9,227.8 811.2,228.2 814.5,228.4 817.8,228.6 821.1,228.8 824.4,229"/>
<polyline points="642.2,231.3 645.2,231.2 647.4,230.8 649.2,229.7 650.7,229.1 652.5,229.5 654.3,230.3 656.9,231 664.2,231.3 678.8,231.3 693.4,231.3 700.8,231.3 702.6,231.3 703.8,231.3 705,231.3 706.2,231.3 707.4,231.4 708.6,231.6 709.8,231.8 711,232.1 712.2,232.6 713.4,233.1 714.6,233.7 715.9,234.3 717.1,234.9 718.3,235.3 719.5,235.5 720.7,235.5 721.9,235.5 723.1,235.5 724.3,235.8 725.5,236.3 726.7,237.3 727.9,239 729.1,241.4 730.3,244.6 731.5,248.5 732.8,253 734,257.8 735.2,262.5 736.4,266.7 737.6,270 738.8,272 740,272.4 741.2,268.1 742.4,258.6 743.6,247.2 744.8,236.7 746,228.2 747.2,220.9 748.4,213.7 749.6,206.2 750.9,198.5 752.1,191.7 753.3,186.7 754.5,184.4 755.7,184.4 756.9,185.3 758.1,187.1 759.3,189.6 760.5,192.7 761.7,196.3 762.9,200.1 764.1,203.9 765.3,207.5 766.5,210.9 767.7,213.8 769,216.4 770.2,218.5 771.4,220.2 772.6,221.5 773.8,222.6 775,223.3 778.3,224.6 781.6,225.1 784.9,225.5 788.2,225.9 791.4,226.4 794.7,226.7 798,226.8 801.3,226.9 804.6,226.9 807.9,227 811.2,227.2 814.5,227.4 817.8,227.6 821.1,227.9 824.4,228.1"/>
<polyline points="642.2,231.9 645.2,231.9 647.4,231.5 649.2,230.4 650.7,229.8 652.5,230.2 654.3,230.9 656.9,231.7 664.2,231.9 678.8,231.9 693.4,231.9 700.8,231.9 702.6,231.9 703.8,232 705,232.1 706.2,232.3 707.4,232.7 708.6,233.4 709.8,234.4 711,236.1 712.2,238.3 713.4,241 714.6,244.2 715.9,247.5 717.1,250.4 718.3,252.5 719.5,253.4 720.7,253.1 721.9,252 723.1,250.2 724.3,248.1 725.5,246.1 726.7,244.5 727.9,243.6 729.1,243.7 730.3,244.8 731.5,246.9 732.8,249.8 734,253.2 735.2,256.7 736.4,260.1 737.6,262.8 738.8,264.6 740,265.1 741.2,262.6 742.4,255.5 743.6,246.3 744.8,237.6 746,230.5 747.2,224.5 748.4,218.9 749.6,213.1 750.9,207.1 752.1,201.5 753.3,197.2 754.5,194.8 755.7,194.4 756.9,194.6 758.1,195.6 759.3,197.2 760.5,199.3 761.7,201.9 762.9,204.6 764.1,207.5 765.3,210.3 766.5,212.8 767.7,215.1 769,217.1 770.2,218.7 771.4,220.1 772.6,221.1 773.8,222 775,222.6 778.3,223.6 781.6,224.1 784.9,224.2 788.2,224.2 791.4,224.1 794.7,224.2 798,224.6 801.3,225.1 804.6,225.6 807.9,226.1 811.2,226.6 814.5,226.9 817.8,227.3 821.1,227.6 824.4,227.9"/>
<polyline points="642.2,231.4 645.2,231.4 647.4,231 649.2,229.9 650.7,229.3 652.5,229.7 654.3,230.5 656.9,231.2 664.2,231.4 678.8,231.4 693.4,231.4 700.8,231.4 702.6,231.4 703.8,231.5 705,231.5 706.2,231.6 707.4,231.7 708.6,232.1 709.8,232.6 711,233.6 712.2,235.1 713.4,237.1 714.6,239.8 715.9,243.1 717.1,246.5 718.3,249.7 719.5,252.3 720.7,253.8 721.9,254 723.1,253.1 724.3,251.5 725.5,249.4 726.7,247.3 727.9,245.5 729.1,244.4 730.3,244.3 731.5,245.4 732.8,247.5 734,250.6 735.2,254.4 736.4,258.5 737.6,262.5 738.8,266 740,268.6 741.2,269.8 742.4,268.9 743.6,262.5 744.8,252.6 746,242.4 747.2,233.9 748.4,227.3 749.6,221.8 750.9,216.5 752.1,211 753.3,205.7 754.5,201.2 755.7,198.3 756.9,197.3 758.1,197.2 759.3,197.9 760.5,199.1 761.7,200.8 762.9,202.9 764.1,205.3 765.3,207.9 766.5,210.4 767.7,212.8 769,215 770.2,216.9 771.4,218.5 772.6,219.8 773.8,220.8 775,221.7 778.3,223.1 781.6,223.7 784.9,224 788.2,224.2 791.4,224.3 794.7,224.5 798,224.7 801.3,225.1 804.6,225.4 807.9,225.8 811.2,226.1 814.5,226.5 817.8,226.8 821.1,227.1 824.4,227.4"/>
<polyline points="642.2,230.8 645.2,230.8 647.4,230.4 649.2,229.3 650.7,228.7 652.5,229 654.3,229.8 656.9,230.6 664.2,230.8 678.8,230.8 693.4,230.8 700.8,230.8 702.6,230.8 703.8,230.8 705,230.8 706.2,230.8 707.4,230.8 708.6,230.8 709.8,230.8 711,230.9 712.2,230.9 713.4,230.9 714.6,231 715.9,231.1 717.1,231.2 718.3,231.3 719.5,231.4 720.7,231.6 721.9,231.9 723.1,232.4 724.3,233.3 725.5,234.6 726.7,236.6 727.9,239.4 729.1,243.3 730.3,248.2 731.5,254.2 732.8,261.2 734,268.8 735.2,276.5 736.4,283.8 737.6,290 738.8,294.4 740,296.5 741.2,294.8 742.4,283.6 743.6,266.9 744.8,250 746,236.4 747.2,226.5 748.4,218.7 749.6,211.6 750.9,204.5 752.1,197.8 753.3,192.1 754.5,188.5 755.7,187.4 756.9,187.4 758.1,188.2 759.3,189.8 760.5,192 761.7,194.8 762.9,197.9 764.1,201.2 765.3,204.4 766.5,207.4 767.7,210.2 769,212.6 770.2,214.6 771.4,216.3 772.6,217.6 773.8,218.7 775,219.5 778.3,220.8 781.6,221.4 784.9,221.7 788.2,221.8 791.4,221.9 794.7,222.1 798,222.5 801.3,222.9 804.6,223.4 807.9,223.9 811.2,224.4 814.5,224.8 817.8,225.2 821.1,225.6 824.4,225.9"/>
<polyline points="642.2,230.8 645.2,230.8 647.4,230.4 649.2,229.3 650.7,228.7 652.5,229.1 654.3,229.8 656.9,230.6 664.2,230.8 678.8,230.8 693.4,230.8 700.8,230.8 702.6,230.9 703.8,230.9 705,231 706.2,231.2 707.4,231.6 708.6,232.1 709.8,232.9 711,234 712.2,235.4 713.4,236.9 714.6,238.4 715.9,239.7 717.1,240.6 718.3,240.9 719.5,240.8 720.7,240.4 721.9,239.9 723.1,239.5 724.3,239.4 725.5,239.8 726.7,241.1 727.9,243.3 729.1,246.5 730.3,250.6 731.5,255.4 732.8,260.6 734,265.8 735.2,270.4 736.4,274 737.6,276.2 738.8,276.6 740,271.6 741.2,260.8 742.4,247.9 743.6,236 744.8,226.1 746,217.3 747.2,208.4 748.4,198.9 749.6,189.3 750.9,180.6 752.1,174.4 753.3,171.7 754.5,171.6 755.7,172.8 756.9,175 758.1,178.2 759.3,182.2 760.5,186.7 761.7,191.5 762.9,196.3 764.1,200.9 765.3,205.1 766.5,208.8 767.7,212 769,214.7 770.2,216.8 771.4,218.5 772.6,219.8 773.8,220.8 775,221.5 778.3,222.7 781.6,223.2 784.9,223.5 788.2,223.9 791.4,224.2 794.7,224.5 798,224.7 801.3,224.9 804.6,225.2 807.9,225.4 811.2,225.7 814.5,226 817.8,226.3 821.1,226.6 824.4,226.9"/>
<polyline points="642.2,231.1 645.2,231.1 647.4,230.7 649.2,229.6 650.7,229 652.5,229.4 654.3,230.1 656.9,230.9 664.2,231.1 678.8,231.1 693.4,231.1 700.8,231.1 702.6,231.2 703.8,231.2 705,231.3 706.2,231.5 707.4,231.9 708.6,232.5 709.8,233.3 711,234.3 712.2,235.5 713.4,236.9 714.6,238.2 715.9,239.3 717.1,239.9 718.3,240.1 719.5,239.9 720.7,239.4 721.9,238.7 723.1,238.2 724.3,237.9 725.5,238 726.7,238.7 727.9,240.1 729.1,242.1 730.3,244.8 731.5,247.9 732.8,251.1 734,254.3 735.2,257.1 736.4,259.2 737.6,260.3 738.8,259.8 740,255.3 741.2,247.6 742.4,239.1 743.6,231.3 744.8,224.4 746,217.6 747.2,210.3 748.4,202.4 749.6,194.6 750.9,187.9 752.1,183.5 753.3,182.2 754.5,182.6 755.7,183.9 756.9,186.1 758.1,189.1 759.3,192.6 760.5,196.5 761.7,200.6 762.9,204.6 764.1,208.4 765.3,211.8 766.5,214.8 767.7,217.3 769,219.4 770.2,221.1 771.4,222.4 772.6,223.4 773.8,224.2 775,224.7 778.3,225.5 781.6,225.6 784.9,225.1 788.2,224.2 791.4,223.5 794.7,223.6 798,224.3 801.3,225.3 804.6,226.3 807.9,227 811.2,227.5 814.5,227.8 817.8,228.1 821.1,228.3 824.4,228.5"/>
<polyline points="642.2,232.2 645.2,232.1 647.4,231.7 649.2,230.6 650.7,230 652.5,230.4 654.3,231.2 656.9,231.9 664.2,232.2 678.8,232.2 693.4,232.2 700.8,232.2 702.6,232.3 703.8,232.4 705,232.6 706.2,233.1 707.4,233.8 708.6,234.9 709.8,236.4 711,238.4 712.2,240.8 713.4,243.4 714.6,245.8 715.9,247.7 717.1,248.8 718.3,248.9 719.5,248.3 720.7,247.1 721.9,245.6 723.1,244 724.3,242.8 725.5,242.1 726.7,242.2 727.9,243.1 729.1,244.9 730.3,247.4 731.5,250.5 732.8,253.8 734,257 735.2,259.8 736.4,261.8 737.6,262.8 738.8,261.9 740,256.7 741.2,248.6 742.4,240.1 743.6,232.8 744.8,226.8 746,221.3 747.2,215.6 748.4,209.6 749.6,203.7 750.9,198.8 752.1,195.7 753.3,194.7 754.5,194.8 755.7,195.6 756.9,197.1 758.1,199.1 759.3,201.5 760.5,204.2 761.7,207.2 762.9,210 764.1,212.7 765.3,215.1 766.5,217.2 767.7,219 769,220.5 770.2,221.7 771.4,222.6 772.6,223.3 773.8,223.8 775,224.2 778.3,224.9 781.6,225.1 784.9,225.1 788.2,225 791.4,225 794.7,225.2 798,225.7 801.3,226.2 804.6,226.7 807.9,227.1 811.2,227.5 814.5,227.8 817.8,228.1 821.1,228.4 824.4,228.7"/>
<polyline points="642.2,230.8 645.2,230.8 647.4,230.4 649.2,229.2 650.7,228.7 652.5,229 654.3,229.8 656.9,230.6 664.2,230.8 678.8,230.8 693.4,230.8 700.8,230.8 702.6,230.8 703.8,230.9 705,231 706.2,231.2 707.4,231.6 708.6,232.1 709.8,233 711,234.2 712.2,235.7 713.4,237.5 714.6,239.2 715.9,240.9 717.1,242 718.3,242.6 719.5,242.6 720.7,242.2 721.9,241.5 723.1,240.9 724.3,240.5 725.5,240.7 726.7,241.8 727.9,243.8 729.1,246.9 730.3,251 731.5,256 732.8,261.5 734,267.1 735.2,272.3 736.4,276.6 737.6,279.5 738.8,280.6 740,277.4 741.2,267.3 742.4,254.3 743.6,242.1 744.8,232.6 746,225.5 747.2,219.4 748.4,213.4 749.6,207.5 750.9,202 752.1,197.9 753.3,195.8 754.5,195.9 755.7,196.7 756.9,198.3 758.1,200.5 759.3,203.1 760.5,206 761.7,209.1 762.9,212.2 764.1,215.2 765.3,217.9 766.5,220.4 767.7,222.5 769,224.2 770.2,225.7 771.4,226.8 772.6,227.7 773.8,228.3 775,228.8 778.3,229.4 781.6,229.5 784.9,229 788.2,228 791.4,227 794.7,226.8 798,227.3 801.3,228.2 804.6,229 807.9,229.6 811.2,229.9 814.5,230.1 817.8,230.2 821.1,230.3 824.4,230.3"/>
<polyline points="642.2,232.2 645.2,232.1 647.4,231.7 649.2,230.6 650.7,230 652.5,230.4 654.3,231.2 656.9,231.9 664.2,232.2 678.8,232.2 693.4,232.2 700.8,232.2 702.6,232.2 703.8,232.2 705,232.2 706.2,232.2 707.4,232.3 708.6,232.4 709.8,232.6 711,232.9 712.2,233.4 713.4,234 714.6,234.7 715.9,235.5 717.1,236.2 718.3,236.8 719.5,237.2 720.7,237.4 721.9,237.5 723.1,237.6 724.3,237.8 725.5,238.3 726.7,239.5 727.9,241.4 729.1,244.3 730.3,248.3 731.5,253.3 732.8,259.4 734,266.1 735.2,273 736.4,279.6 737.6,285.3 738.8,289.5 740,291.6 741.2,290.7 742.4,281.4 743.6,266.5 744.8,251.3 746,239 747.2,230.1 748.4,223.6 749.6,217.9 750.9,212.4 752.1,207.1 753.3,202.7 754.5,199.7 755.7,198.6 756.9,198.6 758.1,199.1 759.3,200.2 760.5,201.9 761.7,203.9 762.9,206.2 764.1,208.7 765.3,211.2 766.5,213.6 767.7,215.7 769,217.6 770.2,219.1 771.4,220.4 772.6,221.5 773.8,222.3 775,222.9 778.3,224 781.6,224.3 784.9,224.2 788.2,223.5 791.4,222.4 794.7,221.7 798,222.2 801.3,223.3 804.6,224.6 807.9,225.7 811.2,226.6 814.5,227.1 817.8,227.5 821.1,227.9 824.4,228.2"/>
<polyline points="642.2,231.2 645.2,231.1 647.4,230.8 649.2,229.6 650.7,229 652.5,229.4 654.3,230.2 656.9,230.9 664.2,231.2 678.8,231.2 693.4,231.2 700.8,231.2 702.6,231.2 703.8,231.3 705,231.5 706.2,231.8 707.4,232.3 708.6,233.1 709.8,234.4 711,236.3 712.2,238.6 713.4,241.4 714.6,244.4 715.9,247.1 717.1,249.3 718.3,250.5 719.5,250.6 720.7,249.8 721.9,248.5 723.1,246.8 724.3,245.2 725.5,244.1 726.7,243.7 727.9,244.4 729.1,246.2 730.3,249.1 731.5,253 732.8,257.6 734,262.4 735.2,267.1 736.4,271.1 737.6,273.9 738.8,275.2 740,273.6 741.2,265.6 742.4,253.7 743.6,241.5 744.8,230.8 746,221.5 747.2,212.5 748.4,203 749.6,192.9 750.9,183.1 752.1,175.2 753.3,170.4 754.5,169.5 755.7,170.3 756.9,172.3 758.1,175.4 759.3,179.4 760.5,184 761.7,189 762.9,194.2 764.1,199.3 765.3,204 766.5,208.2 767.7,211.9 769,215 770.2,217.5 771.4,219.6 772.6,221.1 773.8,222.4 775,223.2 778.3,224.6 781.6,225.2 784.9,225.5 788.2,225.8 791.4,226.1 794.7,226.4 798,226.5 801.3,226.7 804.6,226.8 807.9,227 811.2,227.2 814.5,227.4 817.8,227.7 821.1,227.9 824.4,228.1"/>
<polyline points="642.2,230.6 645.2,230.6 647.4,230.2 649.2,229 650.7,228.5 652.5,228.8 654.3,229.6 656.9,230.4 664.2,230.6 678.8,230.6 693.4,230.6 700.8,230.6 702.6,230.7 703.8,230.8 705,231 706.2,231.4 707.4,232.1 708.6,233.2 709.8,234.9 711,237.4 712.2,240.5 713.4,244.1 714.6,248 715.9,251.6 717.1,254.3 718.3,255.7 719.5,255.7 720.7,254.6 721.9,252.7 723.1,250.2 724.3,247.8 725.5,245.7 726.7,244.5 727.9,244.3 729.1,245.3 730.3,247.5 731.5,250.6 732.8,254.5 734,258.6 735.2,262.6 736.4,266.1 737.6,268.5 738.8,269.5 740,267.9 741.2,260.7 742.4,250.4 743.6,240.2 744.8,231.9 746,225.4 747.2,219.8 748.4,214.3 749.6,208.7 750.9,203.3 752.1,198.8 753.3,196 754.5,195.2 755.7,195.1 756.9,195.8 758.1,197 759.3,198.8 760.5,200.9 761.7,203.4 762.9,206 764.1,208.6 765.3,211 766.5,213.1 767.7,215 769,216.6 770.2,217.9 771.4,218.9 772.6,219.8 773.8,220.4 775,220.9 778.3,221.7 781.6,222.1 784.9,222.5 788.2,222.9 791.4,223.3 794.7,223.6 798,223.9 801.3,224.1 804.6,224.3 807.9,224.5 811.2,224.9 814.5,225.2 817.8,225.5 821.1,225.9 824.4,226.2"/>
<polyline points="642.2,231.3 645.2,231.3 647.4,230.9 649.2,229.8 650.7,229.2 652.5,229.6 654.3,230.4 656.9,231.1 664.2,231.3 678.8,231.3 693.4,231.3 700.8,231.3 702.6,231.4 703.8,231.4 705,231.5 706.2,231.7 707.4,232.1 708.6,232.5 709.8,233.2 711,234 712.2,235 713.4,236.1 714.6,237 715.9,237.8 717.1,238.3 718.3,238.5 719.5,238.6 720.7,238.7 721.9,239.1 723.1,240 724.3,241.8 725.5,244.7 726.7,248.9 727.9,254.7 729.1,261.9 730.3,270.3 731.5,279.6 732.8,288.9 734,297.7 735.2,305 736.4,310 737.6,312.3 738.8,308.7 740,293.6 741.2,272.5 742.4,252.1 743.6,235.8 744.8,223.4 746,213 747.2,203 748.4,192.9 749.6,183.5 750.9,175.9 752.1,171.7 753.3,171 754.5,171.9 755.7,174 756.9,177.1 758.1,181.1 759.3,185.7 760.5,190.7 761.7,195.8 762.9,200.7 764.1,205.2 765.3,209.3 766.5,212.9 767.7,215.8 769,218.3 770.2,220.2 771.4,221.7 772.6,222.9 773.8,223.7 775,224.4 778.3,225.3 781.6,225.8 784.9,226.2 788.2,226.6 791.4,227 794.7,227.2 798,227.3 801.3,227.3 804.6,227.3 807.9,227.4 811.2,227.6 814.5,227.8 817.8,228.1 821.1,228.3 824.4,228.5"/>
<polyline points="642.2,231.4 645.2,231.4 647.4,231 649.2,229.9 650.7,229.3 652.5,229.7 654.3,230.5 656.9,231.2 664.2,231.4 678.8,231.4 693.4,231.4 700.8,231.5 702.6,231.5 703.8,231.5 705,231.7 706.2,231.9 707.4,232.3 708.6,233.1 709.8,234.2 711,235.9 712.2,238.2 713.4,241.1 714.6,244.3 715.9,247.5 717.1,250.3 718.3,252.2 719.5,252.9 720.7,252.6 721.9,251.5 723.1,249.9 724.3,248.3 725.5,247.1 726.7,246.6 727.9,247.4 729.1,249.5 730.3,253.1 731.5,258 732.8,264 734,270.7 735.2,277.3 736.4,283.4 737.6,288.2 738.8,291.2 740,291.9 741.2,285.7 742.4,272.1 743.6,256 744.8,241.7 746,230.8 747.2,222.4 748.4,214.9 749.6,207.5 750.9,200.1 752.1,193.5 753.3,188.7 754.5,186.6 755.7,186.5 756.9,187.3 758.1,189 759.3,191.3 760.5,194.3 761.7,197.7 762.9,201.3 764.1,204.9 765.3,208.4 766.5,211.5 767.7,214.3 769,216.7 770.2,218.8 771.4,220.4 772.6,221.7 773.8,222.7 775,223.4 778.3,224.6 781.6,225.3 784.9,225.9 788.2,227 791.4,228.2 794.7,228.9 798,228.8 801.3,228.4 804.6,227.8 807.9,227.5 811.2,227.4 814.5,227.5 817.8,227.7 821.1,228 824.4,228.2"/>
<polyline points="642.2,231 645.2,231 647.4,230.6 649.2,229.5 650.7,228.9 652.5,229.3 654.3,230 656.9,230.8 664.2,231 678.8,231 693.4,231 700.8,231 702.6,231 703.8,231.1 705,231.1 706.2,231.3 707.4,231.5 708.6,231.9 709.8,232.5 711,233.5 712.2,234.8 713.4,236.4 714.6,238.2 715.9,240 717.1,241.6 718.3,242.8 719.5,243.3 720.7,243.1 721.9,242.5 723.1,241.7 724.3,240.8 725.5,240.1 726.7,239.9 727.9,240.4 729.1,241.8 730.3,244 731.5,247 732.8,250.6 734,254.7 735.2,258.8 736.4,262.6 737.6,265.5 738.8,267.4 740,267.8 741.2,264.4 742.4,256 743.6,245.8 744.8,236.5 746,229.1 747.2,223.2 748.4,217.8 749.6,212.3 750.9,206.7 752.1,201.5 753.3,197.4 754.5,195.1 755.7,194.1 756.9,193.9 758.1,194.2 759.3,195.2 760.5,196.7 761.7,198.6 762.9,200.8 764.1,203.2 765.3,205.6 766.5,207.7 767.7,209.6 769,211.2 770.2,212.6 771.4,213.8 772.6,214.7 773.8,215.4 775,216 778.3,216.9 781.6,217.3 784.9,217.4 788.2,217.1 791.4,216.6 794.7,216.6 798,217.3 801.3,218.4 804.6,219.6 807.9,220.7 811.2,221.5 814.5,222.2 817.8,222.9 821.1,223.4 824.4,224"/>
<polyline points="642.2,232.3 645.2,232.2 647.4,231.9 649.2,230.7 650.7,230.1 652.5,230.5 654.3,231.3 656.9,232.1 664.2,232.3 678.8,232.3 693.4,232.3 700.8,232.3 702.6,232.3 703.8,232.3 705,232.3 706.2,232.4 707.4,232.5 708.6,232.6 709.8,232.9 711,233.4 712.2,234.1 713.4,235 714.6,236 715.9,237.1 717.1,238.3 718.3,239.2 719.5,239.7 720.7,239.9 721.9,239.9 723.1,239.7 724.3,239.5 725.5,239.5 726.7,240.1 727.9,241.3 729.1,243.4 730.3,246.5 731.5,250.5 732.8,255.5 734,261.2 735.2,267.1 736.4,272.7 737.6,277.6 738.8,281.2 740,283.2 741.2,282.5 742.4,274.9 743.6,262.2 744.8,248.8 746,237.8 747.2,229.6 748.4,223.4 749.6,217.8 750.9,212.2 752.1,206.9 753.3,202.2 754.5,199 755.7,197.7 756.9,197.4 758.1,197.8 759.3,198.7 760.5,200.2 761.7,202.1 762.9,204.4 764.1,206.8 765.3,209.3 766.5,211.7 767.7,213.8 769,215.6 770.2,217.2 771.4,218.5 772.6,219.6 773.8,220.4 775,221.1 778.3,222.2 781.6,222.6 784.9,222.7 788.2,222.5 791.4,222.1 794.7,221.9 798,222.3 801.3,223.1 804.6,224 807.9,224.9 811.2,225.5 814.5,226 817.8,226.5 821.1,226.9 824.4,227.3"/>
<polyline points="642.2,230.3 645.2,230.3 647.4,229.9 649.2,228.8 650.7,228.2 652.5,228.6 654.3,229.3 656.9,230.1 664.2,230.3 678.8,230.3 693.4,230.3 700.8,230.3 702.6,230.4 703.8,230.4 705,230.6 706.2,230.8 707.4,231.3 708.6,232 709.8,232.9 711,234.2 712.2,235.8 713.4,237.4 714.6,239 715.9,240.4 717.1,241.2 718.3,241.4 719.5,241.2 720.7,240.7 721.9,240.1 723.1,239.7 724.3,239.8 725.5,240.6 726.7,242.3 727.9,245.1 729.1,248.9 730.3,253.7 731.5,259.2 732.8,265.1 734,270.7 735.2,275.5 736.4,279.2 737.6,281.1 738.8,280.5 740,272.8 741.2,260 742.4,246.3 743.6,234.7 744.8,225.6 746,218 747.2,210.7 748.4,203.1 749.6,195.7 750.9,189.4 752.1,185.2 753.3,183.7 754.5,183.7 755.7,184.6 756.9,186.4 758.1,188.8 759.3,191.8 760.5,195.3 761.7,198.9 762.9,202.5 764.1,205.9 765.3,209 766.5,211.7 767.7,214 769,215.9 770.2,217.4 771.4,218.6 772.6,219.5 773.8,220.2 775,220.7 778.3,221.5 781.6,221.8 784.9,221.7 788.2,221.4 791.4,221.2 794.7,221.5 798,222.1 801.3,222.8 804.6,223.6 807.9,224.2 811.2,224.6 814.5,225 817.8,225.4 821.1,225.8 824.4,226.1"/>
<polyline points="642.2,231.5 645.2,231.4 647.4,231 649.2,229.9 650.7,229.3 652.5,229.7 654.3,230.5 656.9,231.2 664.2,231.5 678.8,231.5 693.4,231.5 700.8,231.5 702.6,231.5 703.8,231.6 705,231.8 706.2,232.1 707.4,232.7 708.6,233.5 709.8,234.8 711,236.6 712.2,238.8 713.4,241.4 714.6,244 715.9,246.3 717.1,247.9 718.3,248.7 719.5,248.5 720.7,247.7 721.9,246.5 723.1,245.2 724.3,244.1 725.5,243.6 726.7,244 727.9,245.4 729.1,248.1 730.3,251.8 731.5,256.4 732.8,261.6 734,266.9 735.2,271.8 736.4,275.8 737.6,278.3 738.8,279.1 740,275.3 741.2,265 742.4,251.8 743.6,239.5 744.8,229.3 746,220.8 747.2,212.7 748.4,204.3 749.6,195.7 750.9,187.6 752.1,181.5 753.3,178.4 754.5,177.9 755.7,178.6 756.9,180.2 758.1,182.8 759.3,186.1 760.5,189.9 761.7,194 762.9,198.3 764.1,202.3 765.3,206.1 766.5,209.4 767.7,212.3 769,214.7 770.2,216.7 771.4,218.3 772.6,219.5 773.8,220.4 775,221.1 778.3,222.1 781.6,222.4 784.9,222 788.2,221.2 791.4,220.3 794.7,220.4 798,221.2 801.3,222.4 804.6,223.7 807.9,224.7 811.2,225.4 814.5,225.9 817.8,226.3 821.1,226.6 824.4,227"/>
<polyline points="642.2,231.5 645.2,231.4 647.4,231 649.2,229.9 650.7,229.3 652.5,229.7 654.3,230.5 656.9,231.2 664.2,231.5 678.8,231.5 693.4,231.5 700.8,231.5 702.6,231.5 703.8,231.5 705,231.5 706.2,231.6 707.4,231.7 708.6,232 709.8,232.4 711,233.1 712.2,234 713.4,235.3 714.6,236.8 715.9,238.5 717.1,240.1 718.3,241.5 719.5,242.4 720.7,242.7 721.9,242.6 723.1,242.2 724.3,241.9 725.5,241.8 726.7,242.3 727.9,243.8 729.1,246.4 730.3,250.4 731.5,255.7 732.8,262.3 734,269.8 735.2,277.7 736.4,285.4 737.6,292.1 738.8,297.1 740,299.9 741.2,299.5 742.4,290 743.6,273.2 744.8,255.2 746,240.2 747.2,229.2 748.4,221 749.6,213.8 750.9,206.9 752.1,200.1 753.3,194.2 754.5,190 755.7,188.1 756.9,187.7 758.1,188 759.3,189.1 760.5,190.9 761.7,193.2 762.9,196 764.1,199 765.3,202.1 766.5,205 767.7,207.7 769,210 770.2,212 771.4,213.7 772.6,215 773.8,216.1 775,216.9 778.3,218.3 781.6,218.9 784.9,219.1 788.2,218.8 791.4,218.3 794.7,218.1 798,218.6 801.3,219.6 804.6,220.7 807.9,221.8 811.2,222.7 814.5,223.3 817.8,223.9 821.1,224.4 824.4,224.9"/>
<polyline points="642.2,231 645.2,231 647.4,230.6 649.2,229.5 650.7,228.9 652.5,229.3 654.3,230 656.9,230.8 664.2,231 678.8,231 693.4,231 700.8,231.1 702.6,231.3 703.8,231.6 705,232.1 706.2,233 707.4,234.3 708.6,236.1 709.8,238.5 711,241.3 712.2,244.2 713.4,247 714.6,249.2 715.9,250.5 717.1,250.7 718.3,250.1 719.5,248.9 720.7,247.5 721.9,246.3 723.1,245.7 724.3,246.2 725.5,247.9 726.7,251.2 727.9,255.8 729.1,261.8 730.3,268.6 731.5,275.7 732.8,282.5 734,288.3 735.2,292.5 736.4,294.4 737.6,292.5 738.8,281.5 740,265.1 741.2,248.7 742.4,235.4 743.6,225.5 744.8,217.5 746,210.1 747.2,202.6 748.4,195.5 749.6,189.4 750.9,185.5 752.1,184.1 753.3,183.8 754.5,184.4 755.7,185.8 756.9,187.9 758.1,190.6 759.3,193.7 760.5,197.1 761.7,200.4 762.9,203.5 764.1,206.3 765.3,208.8 766.5,210.8 767.7,212.6 769,214 770.2,215 771.4,215.9 772.6,216.5 773.8,217 775,217.4 778.3,217.9 781.6,218 784.9,217.7 788.2,217.3 791.4,217.2 794.7,217.9 798,218.9 801.3,220.1 804.6,221.1 807.9,222 811.2,222.6 814.5,223.2 817.8,223.8 821.1,224.3 824.4,224.8"/>
<polyline points="642.2,231.5 645.2,231.5 647.4,231.1 649.2,230 650.7,229.4 652.5,229.8 654.3,230.6 656.9,231.3 664.2,231.5 678.8,231.5 693.4,231.5 700.8,231.6 702.6,231.7 703.8,231.8 705,232.1 706.2,232.6 707.4,233.4 708.6,234.8 709.8,236.7 711,239.2 712.2,242.4 713.4,245.8 714.6,249.2 715.9,252 717.1,253.8 718.3,254.4 719.5,253.9 720.7,252.5 721.9,250.7 723.1,248.9 724.3,247.4 725.5,246.8 726.7,247.3 727.9,249.3 729.1,252.6 730.3,257.2 731.5,262.8 732.8,268.9 734,275 735.2,280.4 736.4,284.5 737.6,286.9 738.8,286.9 740,279.8 741.2,266.3 742.4,251.4 743.6,238.7 744.8,229.2 746,221.9 747.2,215.6 748.4,209.3 749.6,203.1 750.9,197.6 752.1,193.4 753.3,191.3 754.5,190.5 755.7,190.4 756.9,191 758.1,192.2 759.3,194 760.5,196.3 761.7,198.8 762.9,201.5 764.1,204.1 765.3,206.4 766.5,208.5 767.7,210.2 769,211.7 770.2,212.9 771.4,213.9 772.6,214.6 773.8,215.2 775,215.7 778.3,216.5 781.6,216.9 784.9,217.2 788.2,217.3 791.4,217.5 794.7,218 798,218.7 801.3,219.5 804.6,220.3 807.9,221 811.2,221.7 814.5,222.3 817.8,222.9 821.1,223.5 824.4,224.1"/>
<polyline points="642.2,231 645.2,231 647.4,230.6 649.2,229.5 650.7,228.9 652.5,229.3 654.3,230 656.9,230.8 664.2,231 678.8,231 693.4,231 700.8,231 702.6,231 703.8,231.1 705,231.1 706.2,231.2 707.4,231.4 708.6,231.7 709.8,232.2 711,233.1 712.2,234.3 713.4,235.9 714.6,237.8 715.9,239.9 717.1,241.9 718.3,243.6 719.5,244.7 720.7,245 721.9,244.8 723.1,244.2 724.3,243.6 725.5,243.2 726.7,243.5 727.9,244.8 729.1,247.3 730.3,251.3 731.5,256.8 732.8,263.7 734,271.4 735.2,279.7 736.4,287.6 737.6,294.6 738.8,299.8 740,302.6 741.2,302.1 742.4,291.7 743.6,274 744.8,254.9 746,238.8 747.2,226.3 748.4,216.1 749.6,206.5 750.9,196.7 752.1,187.1 753.3,178.9 754.5,173.5 755.7,171.9 756.9,172.3 758.1,173.9 759.3,176.6 760.5,180.3 761.7,184.6 762.9,189.3 764.1,194.3 765.3,199.2 766.5,203.7 767.7,207.9 769,211.5 770.2,214.7 771.4,217.2 772.6,219.3 773.8,220.9 775,222.1 778.3,224.1 781.6,224.9 784.9,225.3 788.2,225.6 791.4,226 794.7,226.3 798,226.5 801.3,226.6 804.6,226.7 807.9,226.8 811.2,227 814.5,227.2 817.8,227.4 821.1,227.7 824.4,227.9"/>
<polyline points="642.2,232.6 645.2,232.5 647.4,232.1 649.2,231 650.7,230.4 652.5,230.8 654.3,231.6 656.9,232.3 664.2,232.6 678.8,232.6 693.4,232.6 700.8,232.6 702.6,232.6 703.8,232.6 705,232.7 706.2,232.9 707.4,233.2 708.6,233.7 709.8,234.6 711,235.9 712.2,237.6 713.4,239.8 714.6,242.3 715.9,244.8 717.1,247 718.3,248.6 719.5,249.3 720.7,249.1 721.9,248.3 723.1,247.1 724.3,245.7 725.5,244.5 726.7,243.9 727.9,244.1 729.1,245.2 730.3,247.4 731.5,250.7 732.8,254.7 734,259.2 735.2,263.9 736.4,268.1 737.6,271.6 738.8,273.8 740,274.5 741.2,271.1 742.4,261.9 743.6,250.3 744.8,239.3 746,230.1 747.2,222.2 748.4,214.4 749.6,206.2 750.9,197.7 752.1,189.9 753.3,184 754.5,181.3 755.7,181.2 756.9,182.3 758.1,184.4 759.3,187.3 760.5,190.9 761.7,195 762.9,199.3 764.1,203.6 765.3,207.8 766.5,211.6 767.7,215 769,217.9 770.2,220.4 771.4,222.4 772.6,224 773.8,225.2 775,226.1 778.3,227.5 781.6,228.1 784.9,228.6 788.2,229.2 791.4,229.8 794.7,230.2 798,230.3 801.3,230.1 804.6,229.9 807.9,229.7 811.2,229.7 814.5,229.8 817.8,230 821.1,230.1 824.4,230.3"/>
<polyline points="642.2,230.6 645.2,230.6 647.4,230.2 649.2,229.1 650.7,228.5 652.5,228.9 654.3,229.6 656.9,230.4 664.2,230.6 678.8,230.6 693.4,230.6 700.8,230.6 702.6,230.6 703.8,230.6 705,230.7 706.2,230.8 707.4,230.9 708.6,231.1 709.8,231.5 711,232 712.2,232.6 713.4,233.4 714.6,234.3 715.9,235.1 717.1,235.7 718.3,236.1 719.5,236.3 720.7,236.2 721.9,236 723.1,235.9 724.3,235.9 725.5,236.4 726.7,237.3 727.9,238.9 729.1,241.2 730.3,244.2 731.5,247.9 732.8,252 734,256.3 735.2,260.4 736.4,263.8 737.6,266.3 738.8,267.4 740,266.4 741.2,260 742.4,249.8 743.6,239 744.8,229.1 746,220.3 747.2,211.5 748.4,202 749.6,191.7 750.9,181.6 752.1,173.1 753.3,167.6 754.5,165.9 755.7,166.1 756.9,167.5 758.1,170 759.3,173.5 760.5,177.8 761.7,182.6 762.9,187.6 764.1,192.6 765.3,197.3 766.5,201.5 767.7,205.1 769,208.3 770.2,210.8 771.4,212.9 772.6,214.5 773.8,215.8 775,216.7 778.3,218.2 781.6,218.8 784.9,219 788.2,218.9 791.4,218.8 794.7,219 798,219.6 801.3,220.4 804.6,221.2 807.9,222 811.2,222.6 814.5,223.2 817.8,223.7 821.1,224.1 824.4,224.6"/>
<polyline points="642.2,231.1 645.2,231.1 647.4,230.7 649.2,229.6 650.7,229 652.5,229.4 654.3,230.1 656.9,230.9 664.2,231.1 678.8,231.1 693.4,231.1 700.8,231.1 702.6,231.2 703.8,231.3 705,231.4 706.2,231.7 707.4,232.2 708.6,232.8 709.8,233.8 711,235 712.2,236.3 713.4,237.8 714.6,239.1 715.9,240.1 717.1,240.6 718.3,240.6 719.5,240.3 720.7,239.9 721.9,239.5 723.1,239.3 724.3,239.7 725.5,240.8 726.7,242.8 727.9,245.8 729.1,249.7 730.3,254.4 731.5,259.6 732.8,264.9 734,269.9 735.2,273.9 736.4,276.7 737.6,277.8 738.8,275.2 740,266 741.2,253.6 742.4,241.8 743.6,232.3 744.8,224.9 746,218.5 747.2,212.1 748.4,205.7 749.6,199.6 750.9,194.9 752.1,192.2 753.3,191.8 754.5,192.2 755.7,193.5 756.9,195.4 758.1,197.8 759.3,200.6 760.5,203.7 761.7,206.9 762.9,210 764.1,212.9 765.3,215.4 766.5,217.6 767.7,219.5 769,221 770.2,222.2 771.4,223.1 772.6,223.9 773.8,224.4 775,224.8 778.3,225.4 781.6,225.7 784.9,225.9 788.2,226.2 791.4,226.4 794.7,226.6 798,226.7 801.3,226.9 804.6,227.1 807.9,227.3 811.2,227.5 814.5,227.7 817.8,227.9 821.1,228.2 824.4,228.4"/>
<polyline points="642.2,231 645.2,231 647.4,230.6 649.2,229.4 650.7,228.9 652.5,229.2 654.3,230 656.9,230.8 664.2,231 678.8,231 693.4,231 700.8,231 702.6,231 703.8,231 705,231.1 706.2,231.2 707.4,231.4 708.6,231.7 709.8,232.4 711,233.4 712.2,234.8 713.4,236.7 714.6,239 715.9,241.5 717.1,244.1 718.3,246.2 719.5,247.5 720.7,248 721.9,247.6 723.1,246.6 724.3,245.3 725.5,244 726.7,243 727.9,242.6 729.1,243.2 730.3,244.8 731.5,247.5 732.8,251.3 734,255.7 735.2,260.6 736.4,265.5 737.6,269.9 738.8,273.2 740,275.1 741.2,275.2 742.4,269.7 743.6,259.1 744.8,247.3 746,237.1 747.2,229.4 748.4,223.5 749.6,218.2 750.9,213 752.1,207.8 753.3,203.2 754.5,200 755.7,198.5 756.9,198.3 758.1,198.7 759.3,199.7 760.5,201.1 761.7,203 762.9,205.2 764.1,207.6 765.3,210.1 766.5,212.4 767.7,214.5 769,216.4 770.2,218 771.4,219.3 772.6,220.4 773.8,221.2 775,221.9 778.3,223 781.6,223.5 784.9,223.7 788.2,224 791.4,224.2 794.7,224.4 798,224.7 801.3,225 804.6,225.3 807.9,225.6 811.2,225.8 814.5,226.2 817.8,226.5 821.1,226.8 824.4,227.1"/>
</g>
<rect x="642.04" y="125.1" width="183.7" height="212.1" fill="none" stroke="#000" stroke-width="2.4"/>
<path d="M631.04 160.3H642.04M631.04 195.75H642.04M631.04 231.2H642.04M631.04 266.65H642.04M631.04 302.1H642.04M678.81 337.2V348.2M733.66 337.2V348.2M788.52 337.2V348.2" stroke="#000" stroke-width="2.4" fill="none"/>
<text transform="translate(658.45,384.1) scale(0.97,1)" x="0.85 22" font-size="34.01" fill="#000">10</text>
<text transform="translate(713.31,384.1) scale(0.95,1)" x="0.85 22.69" font-size="34.01" fill="#000">25</text>
<text transform="translate(768.16,384.1) scale(0.99,1)" x="0.8 21.33" font-size="34.01" fill="#000">40</text>
<text transform="translate(663.65,429.9) scale(1.07,1)" x="1.09 12.1 20.56 48.86 67.06 67.06 86.84 114.83" font-size="33.55" fill="#000">time, ms</text>
<text transform="translate(893.98,64.2) scale(1,1)" x="-0.61 16.1 40.44 63.26 77.31 87.91 98.33" font-size="40.26" fill="#000">Tactile</text>
<text transform="translate(847.24,106.2) scale(1.03,1)" x="-0.09 21.02 34.75 45.85 81.21 104.99 113.43 139.09 152.81 162.65 185.93" font-size="40.26" fill="#000">stimulation</text>
<path d="M899.93 125.1V337.2M954.78 125.1V337.2M1009.64 125.1V337.2" stroke="#b0b0b0" stroke-opacity="0.33" stroke-width="1.8" fill="none"/>
<path d="M863.01 160.3H1046.71M863.01 195.75H1046.71M863.01 231.2H1046.71M863.01 266.65H1046.71M863.01 302.1H1046.71" stroke="#b0b0b0" stroke-opacity="0.33" stroke-width="1.8" fill="none"/>
<g fill="none" stroke="#0f5c33" stroke-width="1.5" stroke-opacity="0.25" stroke-linejoin="round">
<polyline points="863.2,231.4 866.1,231.4 868.3,231 870.2,229.8 871.6,229.3 873.4,229.6 875.3,230.4 877.8,231.2 885.2,231.4 899.8,231.4 914.4,231.4 921.7,231.6 923.6,231.7 924.8,231.8 926,232 927.2,232.2 928.4,232.4 929.6,232.7 930.8,233.1 932,233.5 933.2,234 934.4,234.6 935.6,235.4 936.8,236.2 938,237.1 939.2,238.2 940.4,239.4 941.7,240.6 942.9,242 944.1,243.4 945.3,244.8 946.5,246.3 947.7,247.8 948.9,249.2 950.1,250.5 951.3,251.7 952.5,252.8 953.7,253.7 954.9,254.3 956.1,254.8 957.3,254.9 958.5,253.9 959.8,249.7 961,243.8 962.2,238.3 963.4,234.3 964.6,231.5 965.8,229.5 967,227.4 968.2,224.9 969.4,221.9 970.6,218.6 971.8,215.3 973,212.9 974.2,211.6 975.4,211.6 976.7,212.2 977.9,213.2 979.1,214.7 980.3,216.5 981.5,218.4 982.7,220.4 983.9,222.2 985.1,223.8 986.3,225.3 987.5,226.4 988.7,227.4 989.9,228.1 991.1,228.6 992.3,229 993.5,229.3 994.8,229.5 996,229.6 999.3,229.8 1002.5,229.8 1005.8,229.9 1009.1,230 1012.4,230.1 1015.7,230.1 1019,230.2 1022.3,230.3 1025.6,230.4 1028.9,230.4 1032.2,230.5 1035.5,230.6 1038.7,230.7 1042,230.7 1045.3,230.8"/>
<polyline points="863.2,230.8 866.1,230.7 868.3,230.3 870.2,229.2 871.6,228.6 873.4,229 875.3,229.8 877.8,230.5 885.2,230.8 899.8,230.8 914.4,230.8 921.7,230.8 923.6,230.9 924.8,230.9 926,231 927.2,231 928.4,231.1 929.6,231.2 930.8,231.3 932,231.5 933.2,231.7 934.4,231.9 935.6,232.1 936.8,232.4 938,232.8 939.2,233.2 940.4,233.6 941.7,234.1 942.9,234.7 944.1,235.2 945.3,235.8 946.5,236.5 947.7,237.1 948.9,237.7 950.1,238.3 951.3,238.9 952.5,239.4 953.7,239.9 954.9,240.3 956.1,240.6 957.3,240.8 958.5,240.9 959.8,240.6 961,238.8 962.2,236.3 963.4,233.7 964.6,231.5 965.8,229.7 967,227.9 968.2,225.7 969.4,222.8 970.6,219.1 971.8,215 973,210.9 974.2,207.5 975.4,205.5 976.7,204.9 977.9,205.2 979.1,206.1 980.3,207.6 981.5,209.5 982.7,211.7 983.9,214 985.1,216.1 986.3,218 987.5,219.7 988.7,221.1 989.9,222.2 991.1,223.1 992.3,223.7 993.5,224.2 994.8,224.6 996,224.8 999.3,225.2 1002.5,225.5 1005.8,225.7 1009.1,225.9 1012.4,226.1 1015.7,226.4 1019,226.6 1022.3,226.9 1025.6,227.2 1028.9,227.5 1032.2,227.7 1035.5,228 1038.7,228.2 1042,228.5 1045.3,228.7"/>
<polyline points="863.2,230.5 866.1,230.5 868.3,230.1 870.2,229 871.6,228.4 873.4,228.8 875.3,229.6 877.8,230.3 885.2,230.5 899.8,230.5 914.4,230.6 921.7,230.9 923.6,231.1 924.8,231.2 926,231.5 927.2,231.8 928.4,232.2 929.6,232.6 930.8,233.2 932,234 933.2,234.8 934.4,235.9 935.6,237.1 936.8,238.5 938,240.1 939.2,242 940.4,244 941.7,246.2 942.9,248.6 944.1,251.1 945.3,253.8 946.5,256.5 947.7,259.2 948.9,261.9 950.1,264.4 951.3,266.8 952.5,268.9 953.7,270.7 954.9,272.1 956.1,273.2 957.3,273.8 958.5,273.8 959.8,269.2 961,259.6 962.2,248.8 963.4,239.8 964.6,233.7 965.8,229.7 967,226.6 968.2,223.3 969.4,219.3 970.6,214.6 971.8,209.8 973,205.5 974.2,202.6 975.4,201.8 976.7,202.2 977.9,203.3 979.1,205.2 980.3,207.6 981.5,210.4 982.7,213.2 983.9,216 985.1,218.6 986.3,220.8 987.5,222.8 988.7,224.3 989.9,225.5 991.1,226.5 992.3,227.1 993.5,227.6 994.8,227.9 996,228.2 999.3,228.5 1002.5,228.6 1005.8,228.7 1009.1,228.8 1012.4,228.8 1015.7,228.9 1019,229 1022.3,229.1 1025.6,229.2 1028.9,229.3 1032.2,229.4 1035.5,229.5 1038.7,229.6 1042,229.7 1045.3,229.8"/>
<polyline points="863.2,230.8 866.1,230.8 868.3,230.4 870.2,229.3 871.6,228.7 873.4,229.1 875.3,229.8 877.8,230.6 885.2,230.8 899.8,230.8 914.4,230.8 921.7,230.9 923.6,231 924.8,231.1 926,231.2 927.2,231.3 928.4,231.5 929.6,231.7 930.8,232 932,232.3 933.2,232.7 934.4,233.1 935.6,233.7 936.8,234.3 938,235 939.2,235.8 940.4,236.8 941.7,237.8 942.9,238.9 944.1,240 945.3,241.3 946.5,242.5 947.7,243.8 948.9,245.1 950.1,246.3 951.3,247.4 952.5,248.4 953.7,249.3 954.9,250.1 956.1,250.6 957.3,251 958.5,251.1 959.8,250 961,246.1 962.2,241.1 963.4,236.5 964.6,233.2 965.8,231.3 967,230.2 968.2,229.6 969.4,229 970.6,228.5 971.8,227.8 973,227.2 974.2,226.5 975.4,225.9 976.7,225.4 977.9,225.1 979.1,224.8 980.3,224.7 981.5,224.7 982.7,224.8 983.9,224.9 985.1,225 986.3,225 987.5,225.1 988.7,225.2 989.9,225.3 991.1,225.3 992.3,225.4 993.5,225.4 994.8,225.5 996,225.5 999.3,225.7 1002.5,225.9 1005.8,226 1009.1,226.3 1012.4,226.5 1015.7,226.7 1019,227 1022.3,227.2 1025.6,227.5 1028.9,227.7 1032.2,228 1035.5,228.2 1038.7,228.5 1042,228.7 1045.3,228.9"/>
<polyline points="863.2,231.6 866.1,231.6 868.3,231.2 870.2,230.1 871.6,229.5 873.4,229.9 875.3,230.6 877.8,231.4 885.2,231.6 899.8,231.6 914.4,231.6 921.7,231.8 923.6,231.9 924.8,232 926,232.2 927.2,232.3 928.4,232.5 929.6,232.8 930.8,233.1 932,233.5 933.2,233.9 934.4,234.4 935.6,235 936.8,235.6 938,236.4 939.2,237.2 940.4,238.1 941.7,239 942.9,240 944.1,241 945.3,242.1 946.5,243.1 947.7,244.1 948.9,245 950.1,245.9 951.3,246.7 952.5,247.3 953.7,247.7 954.9,248.1 956.1,248.2 957.3,247.5 958.5,244.6 959.8,240.4 961,236.3 962.2,233.2 963.4,230.8 964.6,228.6 965.8,226 967,222.7 968.2,218.5 969.4,213.9 970.6,209.5 971.8,205.9 973,204.1 974.2,203.8 975.4,204.4 976.7,205.8 977.9,207.7 979.1,210.1 980.3,212.6 981.5,215.2 982.7,217.7 983.9,219.9 985.1,221.8 986.3,223.4 987.5,224.7 988.7,225.7 989.9,226.4 991.1,227 992.3,227.3 993.5,227.6 994.8,227.8 996,227.9 999.3,228.1 1002.5,228.3 1005.8,228.4 1009.1,228.6 1012.4,228.7 1015.7,228.9 1019,229.1 1022.3,229.2 1025.6,229.4 1028.9,229.6 1032.2,229.8 1035.5,229.9 1038.7,230.1 1042,230.2 1045.3,230.4"/>
<polyline points="863.2,231.1 866.1,231.1 868.3,230.7 870.2,229.5 871.6,229 873.4,229.3 875.3,230.1 877.8,230.9 885.2,231.1 899.8,231.1 914.4,231.1 921.7,231.4 923.6,231.6 924.8,231.8 926,232.1 927.2,232.4 928.4,232.7 929.6,233.2 930.8,233.7 932,234.4 933.2,235.2 934.4,236.1 935.6,237.2 936.8,238.4 938,239.8 939.2,241.3 940.4,243 941.7,244.7 942.9,246.6 944.1,248.5 945.3,250.5 946.5,252.5 947.7,254.4 948.9,256.2 950.1,257.9 951.3,259.3 952.5,260.6 953.7,261.5 954.9,262.2 956.1,262.5 957.3,262 958.5,257.4 959.8,249.7 961,241.8 962.2,235.4 963.4,230.5 964.6,226.2 965.8,221.2 967,214.8 968.2,206.7 969.4,197.4 970.6,188.1 971.8,180.3 973,175.8 974.2,175 975.4,176.2 976.7,178.8 977.9,182.8 979.1,187.7 980.3,193.1 981.5,198.6 982.7,203.9 983.9,208.8 985.1,213 986.3,216.5 987.5,219.3 988.7,221.5 989.9,223.2 991.1,224.4 992.3,225.2 993.5,225.8 994.8,226.2 996,226.4 999.3,226.8 1002.5,227 1005.8,227.2 1009.1,227.4 1012.4,227.6 1015.7,227.8 1019,228 1022.3,228.2 1025.6,228.4 1028.9,228.6 1032.2,228.8 1035.5,229 1038.7,229.2 1042,229.4 1045.3,229.6"/>
<polyline points="863.2,230.7 866.1,230.7 868.3,230.3 870.2,229.2 871.6,228.6 873.4,229 875.3,229.7 877.8,230.5 885.2,230.7 899.8,230.7 914.4,230.7 921.7,231 923.6,231.2 924.8,231.4 926,231.7 927.2,231.9 928.4,232.3 929.6,232.8 930.8,233.3 932,234 933.2,234.8 934.4,235.7 935.6,236.8 936.8,238 938,239.4 939.2,241 940.4,242.7 941.7,244.5 942.9,246.5 944.1,248.5 945.3,250.6 946.5,252.7 947.7,254.8 948.9,256.7 950.1,258.6 951.3,260.2 952.5,261.6 953.7,262.7 954.9,263.6 956.1,264.1 957.3,264.2 958.5,260.9 959.8,253.6 961,245.2 962.2,238.2 963.4,233.4 964.6,230.3 965.8,228 967,225.6 968.2,222.8 969.4,219.4 970.6,215.9 971.8,212.8 973,210.6 974.2,209.9 975.4,210 976.7,210.8 977.9,212 979.1,213.7 980.3,215.6 981.5,217.6 982.7,219.6 983.9,221.4 985.1,223 986.3,224.4 987.5,225.5 988.7,226.3 989.9,227 991.1,227.5 992.3,227.8 993.5,228.1 994.8,228.2 996,228.4 999.3,228.5 1002.5,228.6 1005.8,228.7 1009.1,228.8 1012.4,228.9 1015.7,229 1019,229.1 1022.3,229.2 1025.6,229.3 1028.9,229.4 1032.2,229.5 1035.5,229.7 1038.7,229.8 1042,229.8 1045.3,229.9"/>
<polyline points="863.2,231.2 866.1,231.2 868.3,230.8 870.2,229.7 871.6,229.1 873.4,229.5 875.3,230.2 877.8,231 885.2,231.2 899.8,231.2 914.4,231.2 921.7,231.4 923.6,231.5 924.8,231.6 926,231.7 927.2,231.8 928.4,232 929.6,232.2 930.8,232.5 932,232.8 933.2,233.2 934.4,233.7 935.6,234.2 936.8,234.9 938,235.6 939.2,236.4 940.4,237.2 941.7,238.2 942.9,239.2 944.1,240.3 945.3,241.4 946.5,242.5 947.7,243.6 948.9,244.6 950.1,245.6 951.3,246.5 952.5,247.3 953.7,248 954.9,248.5 956.1,248.8 957.3,248.9 958.5,248 959.8,244.7 961,240.2 962.2,236 963.4,232.9 964.6,230.7 965.8,229 967,227.2 968.2,225.1 969.4,222.5 970.6,219.6 971.8,216.8 973,214.5 974.2,213.2 975.4,212.7 976.7,212.8 977.9,213.3 979.1,214.2 980.3,215.5 981.5,216.9 982.7,218.3 983.9,219.7 985.1,220.9 986.3,221.9 987.5,222.8 988.7,223.5 989.9,224 991.1,224.4 992.3,224.7 993.5,225 994.8,225.1 996,225.3 999.3,225.5 1002.5,225.8 1005.8,226 1009.1,226.2 1012.4,226.5 1015.7,226.7 1019,227 1022.3,227.3 1025.6,227.6 1028.9,227.9 1032.2,228.1 1035.5,228.4 1038.7,228.7 1042,228.9 1045.3,229.2"/>
<polyline points="863.2,231.4 866.1,231.4 868.3,231 870.2,229.9 871.6,229.3 873.4,229.7 875.3,230.5 877.8,231.2 885.2,231.4 899.8,231.4 914.4,231.5 921.7,231.6 923.6,231.8 924.8,231.9 926,232 927.2,232.2 928.4,232.4 929.6,232.7 930.8,233.1 932,233.5 933.2,234.1 934.4,234.7 935.6,235.5 936.8,236.4 938,237.4 939.2,238.5 940.4,239.8 941.7,241.2 942.9,242.7 944.1,244.3 945.3,246 946.5,247.8 947.7,249.5 948.9,251.2 950.1,252.9 951.3,254.5 952.5,255.9 953.7,257.1 954.9,258.1 956.1,258.8 957.3,259.3 958.5,259.4 959.8,257.5 961,251.8 962.2,244.7 963.4,238.5 964.6,233.9 965.8,231 967,228.7 968.2,226.5 969.4,223.9 970.6,220.8 971.8,217.4 973,214.2 974.2,211.7 975.4,210.4 976.7,210 977.9,210.2 979.1,210.9 980.3,212.1 981.5,213.6 982.7,215.3 983.9,217 985.1,218.5 986.3,219.9 987.5,221.1 988.7,222.1 989.9,222.9 991.1,223.5 992.3,224 993.5,224.4 994.8,224.6 996,224.8 999.3,225.1 1002.5,225.4 1005.8,225.6 1009.1,225.9 1012.4,226.2 1015.7,226.5 1019,226.8 1022.3,227.1 1025.6,227.4 1028.9,227.7 1032.2,228 1035.5,228.3 1038.7,228.6 1042,228.9 1045.3,229.1"/>
<polyline points="863.2,231 866.1,231 868.3,230.6 870.2,229.5 871.6,228.9 873.4,229.3 875.3,230.1 877.8,230.8 885.2,231 899.8,231 914.4,231.1 921.7,231.4 923.6,231.5 924.8,231.7 926,231.9 927.2,232.2 928.4,232.6 929.6,233 930.8,233.6 932,234.3 933.2,235.1 934.4,236 935.6,237.1 936.8,238.4 938,239.8 939.2,241.4 940.4,243.2 941.7,245.1 942.9,247.2 944.1,249.4 945.3,251.6 946.5,253.9 947.7,256.1 948.9,258.3 950.1,260.4 951.3,262.3 952.5,263.9 953.7,265.3 954.9,266.3 956.1,267 957.3,267.3 958.5,266.1 959.8,259.8 961,250.8 962.2,242.2 963.4,235.8 964.6,231.5 965.8,228.5 967,225.5 968.2,222 969.4,217.7 970.6,212.9 971.8,208.3 973,204.6 974.2,202.6 975.4,202.4 976.7,203.1 977.9,204.5 979.1,206.5 980.3,209 981.5,211.7 982.7,214.4 983.9,217 985.1,219.4 986.3,221.4 987.5,223.1 988.7,224.4 989.9,225.4 991.1,226.2 992.3,226.8 993.5,227.1 994.8,227.4 996,227.6 999.3,227.9 1002.5,228 1005.8,228.2 1009.1,228.3 1012.4,228.4 1015.7,228.6 1019,228.7 1022.3,228.9 1025.6,229 1028.9,229.2 1032.2,229.3 1035.5,229.5 1038.7,229.6 1042,229.8 1045.3,229.9"/>
<polyline points="863.2,230.7 866.1,230.7 868.3,230.3 870.2,229.1 871.6,228.6 873.4,228.9 875.3,229.7 877.8,230.5 885.2,230.7 899.8,230.7 914.4,230.7 921.7,230.9 923.6,231.1 924.8,231.2 926,231.4 927.2,231.7 928.4,232 929.6,232.4 930.8,232.8 932,233.4 933.2,234.1 934.4,234.9 935.6,235.9 936.8,237 938,238.3 939.2,239.8 940.4,241.4 941.7,243.1 942.9,245 944.1,247 945.3,249.1 946.5,251.2 947.7,253.4 948.9,255.5 950.1,257.5 951.3,259.3 952.5,261 953.7,262.4 954.9,263.5 956.1,264.3 957.3,264.8 958.5,264.8 959.8,260.9 961,253.2 962.2,244.7 963.4,237.8 964.6,233.2 965.8,230.4 967,228.5 968.2,226.7 969.4,224.7 970.6,222.4 971.8,220 973,217.8 974.2,216.3 975.4,215.6 976.7,215.4 977.9,215.6 979.1,216.2 980.3,217.1 981.5,218.2 982.7,219.4 983.9,220.5 985.1,221.6 986.3,222.5 987.5,223.3 988.7,224 989.9,224.5 991.1,224.9 992.3,225.2 993.5,225.4 994.8,225.6 996,225.7 999.3,225.9 1002.5,226.1 1005.8,226.3 1009.1,226.5 1012.4,226.7 1015.7,226.9 1019,227.2 1022.3,227.4 1025.6,227.6 1028.9,227.9 1032.2,228.1 1035.5,228.3 1038.7,228.5 1042,228.7 1045.3,228.9"/>
<polyline points="863.2,231 866.1,231 868.3,230.6 870.2,229.5 871.6,228.9 873.4,229.3 875.3,230.1 877.8,230.8 885.2,231 899.8,231 914.4,231.1 921.7,231.3 923.6,231.5 924.8,231.6 926,231.8 927.2,232.1 928.4,232.4 929.6,232.8 930.8,233.3 932,233.9 933.2,234.7 934.4,235.6 935.6,236.6 936.8,237.9 938,239.3 939.2,240.9 940.4,242.6 941.7,244.6 942.9,246.7 944.1,249 945.3,251.3 946.5,253.7 947.7,256.2 948.9,258.6 950.1,260.9 951.3,263.1 952.5,265.1 953.7,266.8 954.9,268.2 956.1,269.2 957.3,269.9 958.5,270.1 959.8,267.6 961,259.8 962.2,250 963.4,241.2 964.6,234.8 965.8,230.5 967,227.1 968.2,223.6 969.4,219.3 970.6,214.1 971.8,208.5 973,203.3 974.2,199.4 975.4,197.6 976.7,197.5 977.9,198.4 979.1,200.1 980.3,202.5 981.5,205.4 982.7,208.5 983.9,211.6 985.1,214.5 986.3,217.1 987.5,219.3 988.7,221.2 989.9,222.6 991.1,223.7 992.3,224.6 993.5,225.1 994.8,225.6 996,225.9 999.3,226.3 1002.5,226.5 1005.8,226.7 1009.1,226.9 1012.4,227.1 1015.7,227.3 1019,227.6 1022.3,227.8 1025.6,228 1028.9,228.2 1032.2,228.5 1035.5,228.7 1038.7,228.9 1042,229.1 1045.3,229.3"/>
<polyline points="863.2,231.5 866.1,231.5 868.3,231.1 870.2,229.9 871.6,229.4 873.4,229.7 875.3,230.5 877.8,231.3 885.2,231.5 899.8,231.5 914.4,231.5 921.7,231.7 923.6,231.8 924.8,232 926,232.1 927.2,232.4 928.4,232.6 929.6,233 930.8,233.4 932,233.9 933.2,234.5 934.4,235.2 935.6,236.1 936.8,237 938,238.2 939.2,239.4 940.4,240.9 941.7,242.4 942.9,244.1 944.1,245.8 945.3,247.7 946.5,249.6 947.7,251.5 948.9,253.3 950.1,255.1 951.3,256.8 952.5,258.3 953.7,259.5 954.9,260.6 956.1,261.3 957.3,261.7 958.5,261.8 959.8,258.6 961,251.9 962.2,244.3 963.4,237.8 964.6,233.1 965.8,229.8 967,227 968.2,223.7 969.4,219.6 970.6,214.8 971.8,209.7 973,205.1 974.2,201.9 975.4,200.6 976.7,200.6 977.9,201.4 979.1,203 980.3,205.2 981.5,207.9 982.7,210.6 983.9,213.3 985.1,215.8 986.3,218 987.5,219.9 988.7,221.4 989.9,222.6 991.1,223.5 992.3,224.2 993.5,224.7 994.8,225.1 996,225.3 999.3,225.7 1002.5,226 1005.8,226.2 1009.1,226.4 1012.4,226.7 1015.7,227 1019,227.2 1022.3,227.5 1025.6,227.8 1028.9,228.1 1032.2,228.4 1035.5,228.6 1038.7,228.9 1042,229.1 1045.3,229.4"/>
<polyline points="863.2,231.6 866.1,231.6 868.3,231.2 870.2,230 871.6,229.5 873.4,229.8 875.3,230.6 877.8,231.4 885.2,231.6 899.8,231.6 914.4,231.6 921.7,231.9 923.6,232.1 924.8,232.3 926,232.5 927.2,232.8 928.4,233.2 929.6,233.6 930.8,234.2 932,234.8 933.2,235.6 934.4,236.4 935.6,237.4 936.8,238.6 938,239.8 939.2,241.2 940.4,242.7 941.7,244.3 942.9,246 944.1,247.8 945.3,249.5 946.5,251.2 947.7,252.9 948.9,254.5 950.1,255.9 951.3,257.2 952.5,258.2 953.7,258.9 954.9,259.4 956.1,259.6 957.3,258 958.5,252.7 959.8,245.6 961,239.3 962.2,234.6 963.4,231.4 964.6,228.8 965.8,226.1 967,222.7 968.2,218.6 969.4,214.1 970.6,209.8 971.8,206.8 973,205.4 974.2,205.7 975.4,206.7 976.7,208.4 977.9,210.6 979.1,213.2 980.3,215.9 981.5,218.6 982.7,221.1 983.9,223.4 985.1,225.3 986.3,226.9 987.5,228.2 988.7,229.1 989.9,229.8 991.1,230.4 992.3,230.7 993.5,230.9 994.8,231.1 996,231.2 999.3,231.3 1002.5,231.3 1005.8,231.3 1009.1,231.3 1012.4,231.3 1015.7,231.4 1019,231.4 1022.3,231.4 1025.6,231.4 1028.9,231.4 1032.2,231.4 1035.5,231.4 1038.7,231.5 1042,231.5 1045.3,231.5"/>
<polyline points="863.2,230.7 866.1,230.7 868.3,230.3 870.2,229.1 871.6,228.6 873.4,228.9 875.3,229.7 877.8,230.5 885.2,230.7 899.8,230.7 914.4,230.7 921.7,230.9 923.6,231 924.8,231.1 926,231.3 927.2,231.5 928.4,231.7 929.6,232 930.8,232.4 932,232.9 933.2,233.4 934.4,234.1 935.6,234.9 936.8,235.8 938,236.8 939.2,238 940.4,239.3 941.7,240.7 942.9,242.3 944.1,243.9 945.3,245.6 946.5,247.4 947.7,249.2 948.9,251 950.1,252.6 951.3,254.2 952.5,255.6 953.7,256.9 954.9,257.9 956.1,258.6 957.3,259.1 958.5,259.2 959.8,256.9 961,251 962.2,243.9 963.4,237.6 964.6,233.1 965.8,230 967,227.5 968.2,224.7 969.4,221.2 970.6,217 971.8,212.6 973,208.5 974.2,205.6 975.4,204.5 976.7,204.8 977.9,205.8 979.1,207.4 980.3,209.6 981.5,212.1 982.7,214.7 983.9,217.3 985.1,219.7 986.3,221.8 987.5,223.7 988.7,225.2 989.9,226.3 991.1,227.2 992.3,227.9 993.5,228.4 994.8,228.7 996,228.9 999.3,229.2 1002.5,229.3 1005.8,229.3 1009.1,229.4 1012.4,229.5 1015.7,229.5 1019,229.6 1022.3,229.7 1025.6,229.7 1028.9,229.8 1032.2,229.9 1035.5,230 1038.7,230 1042,230.1 1045.3,230.1"/>
<polyline points="863.2,230.7 866.1,230.7 868.3,230.3 870.2,229.2 871.6,228.6 873.4,228.9 875.3,229.7 877.8,230.5 885.2,230.7 899.8,230.7 914.4,230.7 921.7,230.8 923.6,230.9 924.8,231 926,231.1 927.2,231.3 928.4,231.5 929.6,231.7 930.8,232 932,232.4 933.2,232.9 934.4,233.4 935.6,234.1 936.8,234.9 938,235.8 939.2,236.9 940.4,238 941.7,239.4 942.9,240.8 944.1,242.4 945.3,244.1 946.5,245.8 947.7,247.6 948.9,249.4 950.1,251.2 951.3,253 952.5,254.6 953.7,256 954.9,257.3 956.1,258.3 957.3,259.1 958.5,259.6 959.8,259.7 961,257.7 962.2,251.8 963.4,244.6 964.6,238.2 965.8,233.6 967,230.7 968.2,228.6 969.4,226.5 970.6,224.1 971.8,221.1 973,217.9 974.2,215 975.4,212.9 976.7,212 977.9,212.1 979.1,212.7 980.3,213.8 981.5,215.2 982.7,217 983.9,218.8 985.1,220.6 986.3,222.3 987.5,223.8 988.7,225.1 989.9,226.1 991.1,226.9 992.3,227.6 993.5,228.1 994.8,228.4 996,228.6 999.3,228.9 1002.5,229.1 1005.8,229.1 1009.1,229.2 1012.4,229.3 1015.7,229.4 1019,229.4 1022.3,229.5 1025.6,229.6 1028.9,229.7 1032.2,229.8 1035.5,229.8 1038.7,229.9 1042,230 1045.3,230.1"/>
<polyline points="863.2,230.9 866.1,230.8 868.3,230.4 870.2,229.3 871.6,228.7 873.4,229.1 875.3,229.9 877.8,230.6 885.2,230.9 899.8,230.9 914.4,230.9 921.7,231.1 923.6,231.3 924.8,231.5 926,231.7 927.2,231.9 928.4,232.3 929.6,232.7 930.8,233.2 932,233.8 933.2,234.6 934.4,235.5 935.6,236.5 936.8,237.7 938,239.1 939.2,240.6 940.4,242.3 941.7,244.1 942.9,246.1 944.1,248.2 945.3,250.4 946.5,252.6 947.7,254.8 948.9,256.9 950.1,259 951.3,260.8 952.5,262.5 953.7,263.9 954.9,265 956.1,265.8 957.3,266.1 958.5,265.6 959.8,260.5 961,252 962.2,243.3 963.4,236.3 964.6,231.4 965.8,227.7 967,223.9 968.2,219.4 969.4,213.7 970.6,207.2 971.8,200.7 973,195.2 974.2,191.8 975.4,191 976.7,191.5 977.9,193.1 979.1,195.7 980.3,198.9 981.5,202.5 982.7,206.3 983.9,209.8 985.1,213.1 986.3,215.9 987.5,218.3 988.7,220.3 989.9,221.7 991.1,222.9 992.3,223.7 993.5,224.3 994.8,224.7 996,225 999.3,225.4 1002.5,225.7 1005.8,225.9 1009.1,226.1 1012.4,226.4 1015.7,226.6 1019,226.9 1022.3,227.1 1025.6,227.4 1028.9,227.7 1032.2,227.9 1035.5,228.2 1038.7,228.4 1042,228.7 1045.3,228.9"/>
<polyline points="863.2,230.7 866.1,230.6 868.3,230.3 870.2,229.1 871.6,228.5 873.4,228.9 875.3,229.7 877.8,230.5 885.2,230.7 899.8,230.7 914.4,230.7 921.7,231.1 923.6,231.3 924.8,231.5 926,231.7 927.2,232 928.4,232.4 929.6,232.9 930.8,233.4 932,234.1 933.2,234.9 934.4,235.8 935.6,236.8 936.8,238 938,239.3 939.2,240.7 940.4,242.3 941.7,243.9 942.9,245.6 944.1,247.4 945.3,249.1 946.5,250.8 947.7,252.5 948.9,254 950.1,255.4 951.3,256.6 952.5,257.5 953.7,258.2 954.9,258.6 956.1,258.7 957.3,255.8 958.5,249.7 959.8,242.7 961,236.7 962.2,232.3 963.4,229.2 964.6,226.4 965.8,223 967,218.7 968.2,213.7 969.4,208.4 970.6,203.7 971.8,200.5 973,199.5 974.2,200 975.4,201.3 976.7,203.4 977.9,206.1 979.1,209.1 980.3,212.2 981.5,215.3 982.7,218.1 983.9,220.6 985.1,222.8 986.3,224.5 987.5,225.9 988.7,226.9 989.9,227.6 991.1,228.2 992.3,228.5 993.5,228.8 994.8,228.9 996,229 999.3,229.2 1002.5,229.3 1005.8,229.3 1009.1,229.4 1012.4,229.5 1015.7,229.5 1019,229.6 1022.3,229.7 1025.6,229.7 1028.9,229.8 1032.2,229.9 1035.5,230 1038.7,230 1042,230.1 1045.3,230.2"/>
<polyline points="863.2,230.7 866.1,230.6 868.3,230.2 870.2,229.1 871.6,228.5 873.4,228.9 875.3,229.7 877.8,230.4 885.2,230.7 899.8,230.7 914.4,230.7 921.7,230.8 923.6,230.8 924.8,230.9 926,230.9 927.2,231 928.4,231.1 929.6,231.3 930.8,231.5 932,231.7 933.2,231.9 934.4,232.3 935.6,232.7 936.8,233.1 938,233.6 939.2,234.2 940.4,234.9 941.7,235.7 942.9,236.5 944.1,237.4 945.3,238.3 946.5,239.3 947.7,240.3 948.9,241.2 950.1,242.2 951.3,243.2 952.5,244 953.7,244.8 954.9,245.4 956.1,246 957.3,246.3 958.5,246.5 959.8,246.5 961,244.7 962.2,241 963.4,237 964.6,233.7 965.8,231.2 967,229.4 968.2,227.7 969.4,225.5 970.6,222.9 971.8,219.7 973,216.5 974.2,213.6 975.4,211.7 976.7,211.1 977.9,211.3 979.1,212 980.3,213.1 981.5,214.7 982.7,216.4 983.9,218.3 985.1,220.1 986.3,221.7 987.5,223.2 988.7,224.4 989.9,225.4 991.1,226.2 992.3,226.8 993.5,227.2 994.8,227.5 996,227.7 999.3,228.1 1002.5,228.2 1005.8,228.3 1009.1,228.4 1012.4,228.5 1015.7,228.6 1019,228.7 1022.3,228.9 1025.6,229 1028.9,229.1 1032.2,229.2 1035.5,229.4 1038.7,229.5 1042,229.6 1045.3,229.7"/>
<polyline points="863.2,231.4 866.1,231.4 868.3,231 870.2,229.9 871.6,229.3 873.4,229.7 875.3,230.5 877.8,231.2 885.2,231.4 899.8,231.4 914.4,231.4 921.7,231.5 923.6,231.6 924.8,231.6 926,231.7 927.2,231.8 928.4,231.9 929.6,232 930.8,232.2 932,232.4 933.2,232.7 934.4,233 935.6,233.3 936.8,233.7 938,234.2 939.2,234.8 940.4,235.4 941.7,236 942.9,236.8 944.1,237.6 945.3,238.4 946.5,239.2 947.7,240.1 948.9,241 950.1,241.8 951.3,242.6 952.5,243.3 953.7,243.9 954.9,244.5 956.1,244.9 957.3,245.1 958.5,245.3 959.8,244.8 961,242.4 962.2,238.9 963.4,235.4 964.6,232.4 965.8,229.9 967,227.3 968.2,224 969.4,219.5 970.6,213.8 971.8,207.4 973,201.2 974.2,196.2 975.4,193.5 976.7,193.2 977.9,194.1 979.1,196 980.3,198.7 981.5,202.1 982.7,205.7 983.9,209.4 985.1,212.9 986.3,216.1 987.5,218.9 988.7,221.1 989.9,223 991.1,224.4 992.3,225.4 993.5,226.2 994.8,226.7 996,227.1 999.3,227.6 1002.5,227.8 1005.8,228 1009.1,228.1 1012.4,228.3 1015.7,228.5 1019,228.6 1022.3,228.8 1025.6,229 1028.9,229.2 1032.2,229.4 1035.5,229.5 1038.7,229.7 1042,229.9 1045.3,230"/>
<polyline points="863.2,231.5 866.1,231.4 868.3,231 870.2,229.9 871.6,229.3 873.4,229.7 875.3,230.5 877.8,231.2 885.2,231.5 899.8,231.5 914.4,231.5 921.7,231.7 923.6,231.9 924.8,232 926,232.2 927.2,232.4 928.4,232.6 929.6,233 930.8,233.3 932,233.8 933.2,234.3 934.4,234.9 935.6,235.6 936.8,236.4 938,237.3 939.2,238.2 940.4,239.3 941.7,240.3 942.9,241.5 944.1,242.6 945.3,243.8 946.5,244.9 947.7,246 948.9,247 950.1,247.9 951.3,248.7 952.5,249.3 953.7,249.7 954.9,250 956.1,250 957.3,247.8 958.5,243.5 959.8,238.7 961,234.5 962.2,231.1 963.4,227.9 964.6,224.2 965.8,219.1 967,212.6 968.2,204.8 969.4,196.8 970.6,189.7 971.8,185.1 973,183.9 974.2,184.6 975.4,186.7 976.7,189.9 977.9,193.9 979.1,198.5 980.3,203.2 981.5,207.9 982.7,212.1 983.9,215.9 985.1,219 986.3,221.6 987.5,223.6 988.7,225.1 989.9,226.2 991.1,227 992.3,227.5 993.5,227.9 994.8,228.1 996,228.3 999.3,228.5 1002.5,228.7 1005.8,228.8 1009.1,228.9 1012.4,229.1 1015.7,229.2 1019,229.3 1022.3,229.5 1025.6,229.6 1028.9,229.8 1032.2,229.9 1035.5,230.1 1038.7,230.2 1042,230.3 1045.3,230.5"/>
<polyline points="863.2,231.8 866.1,231.8 868.3,231.4 870.2,230.3 871.6,229.7 873.4,230.1 875.3,230.8 877.8,231.6 885.2,231.8 899.8,231.8 914.4,231.8 921.7,232 923.6,232.1 924.8,232.2 926,232.3 927.2,232.4 928.4,232.6 929.6,232.9 930.8,233.2 932,233.5 933.2,234 934.4,234.5 935.6,235.1 936.8,235.9 938,236.7 939.2,237.6 940.4,238.7 941.7,239.8 942.9,241.1 944.1,242.4 945.3,243.8 946.5,245.2 947.7,246.6 948.9,248.1 950.1,249.4 951.3,250.7 952.5,251.8 953.7,252.8 954.9,253.7 956.1,254.3 957.3,254.6 958.5,254.8 959.8,253.1 961,248.5 962.2,242.7 963.4,237.7 964.6,234.1 965.8,231.8 967,230.3 968.2,228.7 969.4,227 970.6,224.9 971.8,222.7 973,220.6 974.2,219 975.4,218.3 976.7,218.2 977.9,218.5 979.1,219.1 980.3,220.1 981.5,221.2 982.7,222.4 983.9,223.6 985.1,224.7 986.3,225.7 987.5,226.6 988.7,227.3 989.9,227.8 991.1,228.3 992.3,228.6 993.5,228.8 994.8,229 996,229.1 999.3,229.3 1002.5,229.4 1005.8,229.5 1009.1,229.6 1012.4,229.7 1015.7,229.8 1019,229.9 1022.3,230.1 1025.6,230.2 1028.9,230.3 1032.2,230.4 1035.5,230.6 1038.7,230.7 1042,230.8 1045.3,230.9"/>
<polyline points="863.2,230.1 866.1,230.1 868.3,229.7 870.2,228.6 871.6,228 873.4,228.4 875.3,229.2 877.8,229.9 885.2,230.1 899.8,230.1 914.4,230.1 921.7,230.3 923.6,230.4 924.8,230.5 926,230.6 927.2,230.8 928.4,231 929.6,231.3 930.8,231.6 932,232 933.2,232.6 934.4,233.2 935.6,234 936.8,234.9 938,235.9 939.2,237.1 940.4,238.5 941.7,240 942.9,241.7 944.1,243.6 945.3,245.5 946.5,247.6 947.7,249.7 948.9,251.9 950.1,254 951.3,256.1 952.5,258.1 953.7,259.9 954.9,261.4 956.1,262.7 957.3,263.7 958.5,264.3 959.8,264.6 961,263.2 962.2,257.1 963.4,248.5 964.6,240.2 965.8,233.9 967,229.5 968.2,226 969.4,222.3 970.6,217.7 971.8,212.1 973,205.9 974.2,199.8 975.4,194.9 976.7,192.2 977.9,191.6 979.1,192.1 980.3,193.6 981.5,196 982.7,199 983.9,202.3 985.1,205.7 986.3,208.9 987.5,211.7 988.7,214.2 989.9,216.3 991.1,218 992.3,219.2 993.5,220.2 994.8,220.9 996,221.4 999.3,222.2 1002.5,222.6 1005.8,222.9 1009.1,223.2 1012.4,223.5 1015.7,223.9 1019,224.2 1022.3,224.6 1025.6,225 1028.9,225.4 1032.2,225.7 1035.5,226.1 1038.7,226.5 1042,226.8 1045.3,227.1"/>
<polyline points="863.2,231.6 866.1,231.6 868.3,231.2 870.2,230.1 871.6,229.5 873.4,229.9 875.3,230.6 877.8,231.4 885.2,231.6 899.8,231.6 914.4,231.6 921.7,231.7 923.6,231.7 924.8,231.7 926,231.8 927.2,231.8 928.4,231.9 929.6,232 930.8,232.1 932,232.2 933.2,232.4 934.4,232.6 935.6,232.8 936.8,233.1 938,233.4 939.2,233.8 940.4,234.2 941.7,234.6 942.9,235.1 944.1,235.6 945.3,236.2 946.5,236.8 947.7,237.4 948.9,238 950.1,238.6 951.3,239.1 952.5,239.7 953.7,240.1 954.9,240.5 956.1,240.8 957.3,241.1 958.5,241.2 959.8,241.1 961,240 962.2,237.8 963.4,235.3 964.6,233.2 965.8,231.7 967,230.4 968.2,229.1 969.4,227.5 970.6,225.4 971.8,223 973,220.5 974.2,218.3 975.4,216.7 976.7,216.2 977.9,216.2 979.1,216.6 980.3,217.4 981.5,218.4 982.7,219.7 983.9,221.1 985.1,222.4 986.3,223.6 987.5,224.7 988.7,225.6 989.9,226.3 991.1,226.9 992.3,227.3 993.5,227.6 994.8,227.9 996,228 999.3,228.3 1002.5,228.5 1005.8,228.6 1009.1,228.7 1012.4,228.9 1015.7,229 1019,229.2 1022.3,229.3 1025.6,229.5 1028.9,229.6 1032.2,229.8 1035.5,229.9 1038.7,230.1 1042,230.2 1045.3,230.4"/>
<polyline points="863.2,231.9 866.1,231.9 868.3,231.5 870.2,230.4 871.6,229.8 873.4,230.2 875.3,230.9 877.8,231.7 885.2,231.9 899.8,231.9 914.4,231.9 921.7,231.9 923.6,231.9 924.8,231.9 926,231.9 927.2,231.9 928.4,231.9 929.6,231.8 930.8,231.8 932,231.8 933.2,231.8 934.4,231.8 935.6,231.7 936.8,231.7 938,231.7 939.2,231.6 940.4,231.6 941.7,231.5 942.9,231.5 944.1,231.4 945.3,231.4 946.5,231.3 947.7,231.2 948.9,231.2 950.1,231.1 951.3,231.1 952.5,231 953.7,231 954.9,231 956.1,230.9 957.3,230.9 958.5,230.9 959.8,231 961,231.2 962.2,231.2 963.4,231.1 964.6,230.7 965.8,230 967,228.9 968.2,227.5 969.4,225.7 970.6,223.8 971.8,221.8 973,220.2 974.2,219.3 975.4,218.8 976.7,218.8 977.9,219 979.1,219.6 980.3,220.4 981.5,221.3 982.7,222.2 983.9,223.1 985.1,223.8 986.3,224.5 987.5,225.1 988.7,225.5 989.9,225.9 991.1,226.2 992.3,226.4 993.5,226.5 994.8,226.6 996,226.7 999.3,226.9 1002.5,227.1 1005.8,227.3 1009.1,227.5 1012.4,227.8 1015.7,228 1019,228.2 1022.3,228.5 1025.6,228.7 1028.9,229 1032.2,229.2 1035.5,229.5 1038.7,229.7 1042,229.9 1045.3,230.1"/>
<polyline points="863.2,231.2 866.1,231.1 868.3,230.7 870.2,229.6 871.6,229 873.4,229.4 875.3,230.2 877.8,230.9 885.2,231.2 899.8,231.2 914.4,231.2 921.7,231.2 923.6,231.3 924.8,231.3 926,231.4 927.2,231.5 928.4,231.5 929.6,231.7 930.8,231.8 932,232 933.2,232.2 934.4,232.5 935.6,232.8 936.8,233.2 938,233.6 939.2,234.1 940.4,234.7 941.7,235.3 942.9,236 944.1,236.7 945.3,237.5 946.5,238.3 947.7,239.1 948.9,239.9 950.1,240.7 951.3,241.5 952.5,242.2 953.7,242.8 954.9,243.3 956.1,243.8 957.3,244 958.5,244.2 959.8,244.1 961,242.3 962.2,239.2 963.4,235.8 964.6,232.9 965.8,230.7 967,228.7 968.2,226.6 969.4,223.9 970.6,220.4 971.8,216.5 973,212.3 974.2,208.7 975.4,206.1 976.7,205 977.9,204.8 979.1,205.2 980.3,206.3 981.5,207.9 982.7,209.9 983.9,212 985.1,214 986.3,215.8 987.5,217.4 988.7,218.8 989.9,219.9 991.1,220.8 992.3,221.4 993.5,221.9 994.8,222.3 996,222.6 999.3,223.1 1002.5,223.4 1005.8,223.7 1009.1,224 1012.4,224.4 1015.7,224.7 1019,225.1 1022.3,225.5 1025.6,225.9 1028.9,226.3 1032.2,226.7 1035.5,227.1 1038.7,227.4 1042,227.8 1045.3,228.1"/>
<polyline points="863.2,231.3 866.1,231.2 868.3,230.8 870.2,229.7 871.6,229.1 873.4,229.5 875.3,230.3 877.8,231 885.2,231.3 899.8,231.3 914.4,231.3 921.7,231.4 923.6,231.5 924.8,231.6 926,231.7 927.2,231.8 928.4,232 929.6,232.2 930.8,232.5 932,232.8 933.2,233.2 934.4,233.7 935.6,234.3 936.8,235 938,235.8 939.2,236.7 940.4,237.7 941.7,238.8 942.9,240 944.1,241.3 945.3,242.7 946.5,244.2 947.7,245.6 948.9,247.1 950.1,248.6 951.3,249.9 952.5,251.2 953.7,252.3 954.9,253.3 956.1,254 957.3,254.5 958.5,254.8 959.8,254.6 961,251.5 962.2,246 963.4,240.1 964.6,235.4 965.8,232.2 967,229.8 968.2,227.7 969.4,225.3 970.6,222.3 971.8,218.8 973,215.2 974.2,212.2 975.4,210.2 976.7,209.6 977.9,209.9 979.1,210.7 980.3,212 981.5,213.7 982.7,215.6 983.9,217.6 985.1,219.5 986.3,221.3 987.5,222.8 988.7,224.1 989.9,225.2 991.1,226 992.3,226.7 993.5,227.1 994.8,227.4 996,227.7 999.3,228 1002.5,228.2 1005.8,228.3 1009.1,228.4 1012.4,228.6 1015.7,228.7 1019,228.9 1022.3,229 1025.6,229.2 1028.9,229.3 1032.2,229.5 1035.5,229.6 1038.7,229.8 1042,229.9 1045.3,230.1"/>
<polyline points="863.2,231.5 866.1,231.4 868.3,231 870.2,229.9 871.6,229.3 873.4,229.7 875.3,230.5 877.8,231.2 885.2,231.5 899.8,231.5 914.4,231.5 921.7,231.6 923.6,231.8 924.8,231.9 926,232 927.2,232.2 928.4,232.4 929.6,232.6 930.8,233 932,233.4 933.2,233.9 934.4,234.5 935.6,235.2 936.8,236 938,236.9 939.2,238 940.4,239.1 941.7,240.4 942.9,241.8 944.1,243.3 945.3,244.8 946.5,246.4 947.7,248 948.9,249.6 950.1,251.1 951.3,252.5 952.5,253.8 953.7,254.9 954.9,255.8 956.1,256.5 957.3,256.9 958.5,257 959.8,255.1 961,249.8 962.2,243.2 963.4,237.3 964.6,232.7 965.8,228.9 967,225.1 968.2,220.2 969.4,213.9 970.6,206.2 971.8,197.9 973,190.3 974.2,184.9 975.4,182.7 976.7,183.1 977.9,184.8 979.1,187.8 980.3,191.7 981.5,196.2 982.7,201 983.9,205.8 985.1,210.2 986.3,214.2 987.5,217.6 988.7,220.3 989.9,222.5 991.1,224.2 992.3,225.4 993.5,226.2 994.8,226.8 996,227.3 999.3,227.8 1002.5,228 1005.8,228.2 1009.1,228.3 1012.4,228.5 1015.7,228.7 1019,228.8 1022.3,229 1025.6,229.2 1028.9,229.3 1032.2,229.5 1035.5,229.7 1038.7,229.9 1042,230 1045.3,230.2"/>
<polyline points="863.2,230.7 866.1,230.7 868.3,230.3 870.2,229.1 871.6,228.6 873.4,228.9 875.3,229.7 877.8,230.5 885.2,230.7 899.8,230.7 914.4,230.7 921.7,231 923.6,231.3 924.8,231.5 926,231.7 927.2,232 928.4,232.4 929.6,232.9 930.8,233.5 932,234.2 933.2,235 934.4,236 935.6,237.2 936.8,238.5 938,240 939.2,241.6 940.4,243.4 941.7,245.4 942.9,247.4 944.1,249.6 945.3,251.7 946.5,253.9 947.7,256.1 948.9,258.2 950.1,260.1 951.3,261.8 952.5,263.2 953.7,264.4 954.9,265.3 956.1,265.7 957.3,265.8 958.5,262 959.8,254.2 961,245.5 962.2,238.4 963.4,233.7 964.6,230.9 965.8,229.1 967,227.5 968.2,225.8 969.4,223.8 970.6,221.7 971.8,219.9 973,218.6 974.2,218.2 975.4,218.2 976.7,218.6 977.9,219.3 979.1,220.3 980.3,221.4 981.5,222.5 982.7,223.6 983.9,224.6 985.1,225.5 986.3,226.3 987.5,226.9 988.7,227.4 989.9,227.8 991.1,228.1 992.3,228.3 993.5,228.4 994.8,228.5 996,228.6 999.3,228.7 1002.5,228.8 1005.8,228.9 1009.1,229 1012.4,229.1 1015.7,229.2 1019,229.2 1022.3,229.3 1025.6,229.4 1028.9,229.5 1032.2,229.6 1035.5,229.7 1038.7,229.8 1042,229.9 1045.3,230"/>
<polyline points="863.2,230.9 866.1,230.8 868.3,230.4 870.2,229.3 871.6,228.7 873.4,229.1 875.3,229.9 877.8,230.6 885.2,230.9 899.8,230.9 914.4,230.9 921.7,231.1 923.6,231.2 924.8,231.4 926,231.5 927.2,231.7 928.4,232 929.6,232.4 930.8,232.8 932,233.3 933.2,233.9 934.4,234.6 935.6,235.5 936.8,236.5 938,237.6 939.2,238.8 940.4,240.2 941.7,241.7 942.9,243.3 944.1,245 945.3,246.8 946.5,248.6 947.7,250.4 948.9,252.1 950.1,253.8 951.3,255.3 952.5,256.6 953.7,257.8 954.9,258.6 956.1,259.2 957.3,259.5 958.5,259 959.8,254.7 961,247.7 962.2,240.6 963.4,235 964.6,231.1 965.8,228 967,225 968.2,221.3 969.4,216.7 970.6,211.5 971.8,206.3 973,201.9 974.2,199.1 975.4,198.4 976.7,198.7 977.9,199.8 979.1,201.7 980.3,204.2 981.5,207.1 982.7,209.9 983.9,212.7 985.1,215.2 986.3,217.4 987.5,219.3 988.7,220.8 989.9,221.9 991.1,222.8 992.3,223.4 993.5,223.9 994.8,224.2 996,224.5 999.3,224.9 1002.5,225.1 1005.8,225.3 1009.1,225.6 1012.4,225.9 1015.7,226.1 1019,226.4 1022.3,226.7 1025.6,227 1028.9,227.3 1032.2,227.6 1035.5,227.9 1038.7,228.2 1042,228.4 1045.3,228.7"/>
<polyline points="863.2,231.3 866.1,231.2 868.3,230.8 870.2,229.7 871.6,229.1 873.4,229.5 875.3,230.3 877.8,231 885.2,231.3 899.8,231.3 914.4,231.3 921.7,231.5 923.6,231.6 924.8,231.7 926,231.9 927.2,232.1 928.4,232.4 929.6,232.7 930.8,233.1 932,233.7 933.2,234.3 934.4,235 935.6,235.9 936.8,236.9 938,238.1 939.2,239.4 940.4,240.9 941.7,242.5 942.9,244.3 944.1,246.2 945.3,248.2 946.5,250.2 947.7,252.3 948.9,254.3 950.1,256.2 951.3,258.1 952.5,259.8 953.7,261.2 954.9,262.4 956.1,263.3 957.3,263.9 958.5,264.1 959.8,262.3 961,256 962.2,247.8 963.4,240.4 964.6,234.9 965.8,231.4 967,228.8 968.2,226.3 969.4,223.2 970.6,219.6 971.8,215.6 973,211.8 974.2,209 975.4,207.6 976.7,207.6 977.9,208.3 979.1,209.6 980.3,211.4 981.5,213.5 982.7,215.8 983.9,218 985.1,220.1 986.3,222.1 987.5,223.7 988.7,225 989.9,226.1 991.1,226.9 992.3,227.5 993.5,228 994.8,228.3 996,228.5 999.3,228.8 1002.5,228.9 1005.8,229 1009.1,229.1 1012.4,229.2 1015.7,229.3 1019,229.5 1022.3,229.6 1025.6,229.7 1028.9,229.8 1032.2,229.9 1035.5,230 1038.7,230.2 1042,230.3 1045.3,230.4"/>
<polyline points="863.2,231.4 866.1,231.3 868.3,230.9 870.2,229.8 871.6,229.2 873.4,229.6 875.3,230.4 877.8,231.1 885.2,231.4 899.8,231.4 914.4,231.4 921.7,231.7 923.6,231.9 924.8,232 926,232.3 927.2,232.5 928.4,232.9 929.6,233.3 930.8,233.9 932,234.5 933.2,235.2 934.4,236.1 935.6,237.1 936.8,238.3 938,239.6 939.2,241.1 940.4,242.7 941.7,244.4 942.9,246.2 944.1,248.1 945.3,250 946.5,251.9 947.7,253.8 948.9,255.6 950.1,257.3 951.3,258.8 952.5,260 953.7,261 954.9,261.7 956.1,262.1 957.3,262 958.5,258.3 959.8,251.2 961,243.5 962.2,237.2 963.4,232.9 964.6,230 965.8,227.4 967,224.6 968.2,221.1 969.4,217 970.6,212.8 971.8,209.1 973,206.7 974.2,205.9 975.4,206.1 976.7,207.1 977.9,208.6 979.1,210.6 980.3,212.9 981.5,215.2 982.7,217.5 983.9,219.7 985.1,221.5 986.3,223.1 987.5,224.4 988.7,225.4 989.9,226.1 991.1,226.7 992.3,227.1 993.5,227.3 994.8,227.5 996,227.7 999.3,227.9 1002.5,228 1005.8,228.2 1009.1,228.3 1012.4,228.5 1015.7,228.7 1019,228.8 1022.3,229 1025.6,229.2 1028.9,229.3 1032.2,229.5 1035.5,229.7 1038.7,229.8 1042,230 1045.3,230.1"/>
<polyline points="863.2,231.1 866.1,231.1 868.3,230.7 870.2,229.5 871.6,229 873.4,229.3 875.3,230.1 877.8,230.9 885.2,231.1 899.8,231.1 914.4,231.1 921.7,231.2 923.6,231.3 924.8,231.4 926,231.4 927.2,231.6 928.4,231.7 929.6,231.9 930.8,232.1 932,232.3 933.2,232.6 934.4,233 935.6,233.4 936.8,233.9 938,234.4 939.2,235 940.4,235.7 941.7,236.4 942.9,237.1 944.1,237.9 945.3,238.7 946.5,239.5 947.7,240.3 948.9,241.1 950.1,241.8 951.3,242.5 952.5,243 953.7,243.5 954.9,243.8 956.1,244 957.3,244.1 958.5,243.1 959.8,240.4 961,237 962.2,234 963.4,231.8 964.6,229.9 965.8,228.1 967,225.9 968.2,222.9 969.4,219.4 970.6,215.6 971.8,212.1 973,209.6 974.2,208.5 975.4,208.7 976.7,209.5 977.9,210.8 979.1,212.6 980.3,214.7 981.5,216.9 982.7,219 983.9,221.1 985.1,222.9 986.3,224.4 987.5,225.7 988.7,226.7 989.9,227.4 991.1,228 992.3,228.4 993.5,228.7 994.8,228.8 996,229 999.3,229.2 1002.5,229.2 1005.8,229.3 1009.1,229.4 1012.4,229.5 1015.7,229.6 1019,229.7 1022.3,229.8 1025.6,229.9 1028.9,230 1032.2,230.1 1035.5,230.2 1038.7,230.2 1042,230.3 1045.3,230.4"/>
<polyline points="863.2,233 866.1,233 868.3,232.6 870.2,231.5 871.6,230.9 873.4,231.3 875.3,232.1 877.8,232.8 885.2,233 899.8,233 914.4,233.1 921.7,233.5 923.6,233.7 924.8,233.9 926,234.2 927.2,234.6 928.4,235.1 929.6,235.6 930.8,236.3 932,237.1 933.2,238.1 934.4,239.2 935.6,240.6 936.8,242.1 938,243.7 939.2,245.6 940.4,247.6 941.7,249.7 942.9,252 944.1,254.4 945.3,256.8 946.5,259.2 947.7,261.5 948.9,263.7 950.1,265.7 951.3,267.5 952.5,269 953.7,270.1 954.9,270.9 956.1,271.3 957.3,270.5 958.5,264.6 959.8,255.4 961,246.2 962.2,239.2 963.4,234.5 964.6,231.4 965.8,228.7 967,225.5 968.2,221.7 969.4,217.4 970.6,213.2 971.8,209.7 973,207.8 974.2,207.7 975.4,208.4 976.7,209.8 977.9,211.8 979.1,214.1 980.3,216.7 981.5,219.3 982.7,221.8 983.9,224.1 985.1,226.1 986.3,227.7 987.5,229 988.7,230 989.9,230.8 991.1,231.3 992.3,231.7 993.5,232 994.8,232.1 996,232.2 999.3,232.4 1002.5,232.4 1005.8,232.4 1009.1,232.5 1012.4,232.5 1015.7,232.5 1019,232.6 1022.3,232.6 1025.6,232.6 1028.9,232.7 1032.2,232.7 1035.5,232.7 1038.7,232.7 1042,232.8 1045.3,232.8"/>
<polyline points="863.2,230.9 866.1,230.8 868.3,230.5 870.2,229.3 871.6,228.7 873.4,229.1 875.3,229.9 877.8,230.7 885.2,230.9 899.8,230.9 914.4,230.9 921.7,231 923.6,231.1 924.8,231.1 926,231.2 927.2,231.3 928.4,231.5 929.6,231.7 930.8,231.9 932,232.2 933.2,232.5 934.4,232.9 935.6,233.3 936.8,233.9 938,234.5 939.2,235.1 940.4,235.9 941.7,236.7 942.9,237.6 944.1,238.5 945.3,239.5 946.5,240.5 947.7,241.5 948.9,242.5 950.1,243.4 951.3,244.2 952.5,245 953.7,245.7 954.9,246.2 956.1,246.5 957.3,246.7 958.5,246.7 959.8,244.8 961,241.1 962.2,237.2 963.4,234 964.6,231.8 965.8,230.4 967,229.3 968.2,228.1 969.4,226.6 970.6,225 971.8,223.3 973,221.7 974.2,220.7 975.4,220.3 976.7,220.4 977.9,220.7 979.1,221.2 980.3,222 981.5,222.8 982.7,223.8 983.9,224.6 985.1,225.5 986.3,226.2 987.5,226.8 988.7,227.3 989.9,227.7 991.1,228 992.3,228.2 993.5,228.4 994.8,228.5 996,228.6 999.3,228.7 1002.5,228.8 1005.8,228.9 1009.1,229 1012.4,229.1 1015.7,229.2 1019,229.3 1022.3,229.4 1025.6,229.5 1028.9,229.6 1032.2,229.7 1035.5,229.8 1038.7,229.9 1042,230 1045.3,230.1"/>
<polyline points="863.2,232.3 866.1,232.3 868.3,231.9 870.2,230.8 871.6,230.2 873.4,230.6 875.3,231.3 877.8,232.1 885.2,232.3 899.8,232.3 914.4,232.4 921.7,232.8 923.6,233.1 924.8,233.4 926,233.7 927.2,234.2 928.4,234.7 929.6,235.3 930.8,236 932,236.9 933.2,238 934.4,239.2 935.6,240.6 936.8,242.1 938,243.8 939.2,245.7 940.4,247.7 941.7,249.9 942.9,252.1 944.1,254.3 945.3,256.6 946.5,258.8 947.7,260.9 948.9,262.8 950.1,264.6 951.3,266 952.5,267.2 953.7,268 954.9,268.4 956.1,268.2 957.3,263.5 958.5,255.1 959.8,246.2 961,239.2 962.2,234.6 963.4,231.8 964.6,229.9 965.8,227.9 967,225.7 968.2,223.2 969.4,220.6 970.6,218.4 971.8,216.8 973,216.3 974.2,216.3 975.4,216.8 976.7,217.6 977.9,218.8 979.1,220.1 980.3,221.5 981.5,222.8 982.7,224 983.9,225.1 985.1,226 986.3,226.7 987.5,227.3 988.7,227.7 989.9,228 991.1,228.3 992.3,228.5 993.5,228.6 994.8,228.7 996,228.7 999.3,228.9 1002.5,229 1005.8,229.2 1009.1,229.3 1012.4,229.5 1015.7,229.7 1019,229.8 1022.3,230 1025.6,230.2 1028.9,230.4 1032.2,230.5 1035.5,230.7 1038.7,230.8 1042,231 1045.3,231.1"/>
<polyline points="863.2,232.4 866.1,232.4 868.3,232 870.2,230.9 871.6,230.3 873.4,230.7 875.3,231.4 877.8,232.2 885.2,232.4 899.8,232.4 914.4,232.4 921.7,232.6 923.6,232.7 924.8,232.8 926,232.9 927.2,233.1 928.4,233.4 929.6,233.6 930.8,234 932,234.4 933.2,235 934.4,235.6 935.6,236.3 936.8,237.2 938,238.2 939.2,239.3 940.4,240.6 941.7,242 942.9,243.5 944.1,245.1 945.3,246.8 946.5,248.6 947.7,250.4 948.9,252.1 950.1,253.9 951.3,255.5 952.5,256.9 953.7,258.2 954.9,259.3 956.1,260.1 957.3,260.6 958.5,260.8 959.8,259.6 961,254.5 962.2,247.4 963.4,240.7 964.6,235.7 965.8,232.2 967,229.4 968.2,226.4 969.4,222.8 970.6,218.3 971.8,213.4 973,208.6 974.2,204.9 975.4,203 976.7,202.8 977.9,203.5 979.1,205 980.3,207.2 981.5,209.7 982.7,212.5 983.9,215.4 985.1,218 986.3,220.4 987.5,222.5 988.7,224.2 989.9,225.6 991.1,226.6 992.3,227.4 993.5,228 994.8,228.4 996,228.7 999.3,229 1002.5,229.2 1005.8,229.4 1009.1,229.5 1012.4,229.6 1015.7,229.8 1019,229.9 1022.3,230.1 1025.6,230.3 1028.9,230.4 1032.2,230.6 1035.5,230.7 1038.7,230.9 1042,231 1045.3,231.2"/>
<polyline points="863.2,231.4 866.1,231.4 868.3,231 870.2,229.8 871.6,229.3 873.4,229.6 875.3,230.4 877.8,231.2 885.2,231.4 899.8,231.4 914.4,231.4 921.7,231.7 923.6,232 924.8,232.2 926,232.4 927.2,232.7 928.4,233.1 929.6,233.7 930.8,234.3 932,235 933.2,235.9 934.4,237 935.6,238.3 936.8,239.7 938,241.3 939.2,243.2 940.4,245.2 941.7,247.4 942.9,249.7 944.1,252.2 945.3,254.7 946.5,257.3 947.7,259.8 948.9,262.3 950.1,264.6 951.3,266.8 952.5,268.6 953.7,270.2 954.9,271.4 956.1,272.2 957.3,272.5 958.5,271.1 959.8,263.9 961,253.8 962.2,244.2 963.4,237 964.6,232.4 965.8,229.2 967,226.4 968.2,223.1 969.4,219.2 970.6,214.8 971.8,210.6 973,207.2 974.2,205.5 975.4,205.4 976.7,206 977.9,207.4 979.1,209.3 980.3,211.6 981.5,214.2 982.7,216.7 983.9,219.1 985.1,221.3 986.3,223.1 987.5,224.7 988.7,225.9 989.9,226.9 991.1,227.6 992.3,228.1 993.5,228.5 994.8,228.7 996,228.9 999.3,229.1 1002.5,229.2 1005.8,229.3 1009.1,229.4 1012.4,229.5 1015.7,229.6 1019,229.7 1022.3,229.8 1025.6,230 1028.9,230.1 1032.2,230.2 1035.5,230.3 1038.7,230.4 1042,230.5 1045.3,230.6"/>
<polyline points="863.2,231.2 866.1,231.2 868.3,230.8 870.2,229.7 871.6,229.1 873.4,229.5 875.3,230.2 877.8,231 885.2,231.2 899.8,231.2 914.4,231.2 921.7,231.4 923.6,231.5 924.8,231.6 926,231.7 927.2,231.8 928.4,232 929.6,232.3 930.8,232.5 932,232.9 933.2,233.3 934.4,233.8 935.6,234.4 936.8,235 938,235.8 939.2,236.6 940.4,237.5 941.7,238.5 942.9,239.6 944.1,240.7 945.3,241.9 946.5,243 947.7,244.2 948.9,245.3 950.1,246.4 951.3,247.3 952.5,248.2 953.7,248.9 954.9,249.4 956.1,249.8 957.3,249.9 958.5,249.1 959.8,245.7 961,241 962.2,236.5 963.4,233 964.6,230.2 965.8,227.7 967,224.6 968.2,220.6 969.4,215.6 970.6,210 971.8,204.7 973,200.6 974.2,198.6 975.4,198.6 976.7,199.6 977.9,201.4 979.1,203.9 980.3,207 981.5,210.2 982.7,213.5 983.9,216.6 985.1,219.3 986.3,221.7 987.5,223.7 988.7,225.3 989.9,226.5 991.1,227.4 992.3,228 993.5,228.5 994.8,228.8 996,229 999.3,229.2 1002.5,229.3 1005.8,229.4 1009.1,229.5 1012.4,229.6 1015.7,229.7 1019,229.8 1022.3,229.9 1025.6,230 1028.9,230.1 1032.2,230.2 1035.5,230.3 1038.7,230.3 1042,230.4 1045.3,230.5"/>
<polyline points="863.2,231.4 866.1,231.4 868.3,231 870.2,229.9 871.6,229.3 873.4,229.6 875.3,230.4 877.8,231.2 885.2,231.4 899.8,231.4 914.4,231.4 921.7,231.5 923.6,231.6 924.8,231.7 926,231.8 927.2,231.9 928.4,232 929.6,232.2 930.8,232.5 932,232.8 933.2,233.1 934.4,233.6 935.6,234.1 936.8,234.7 938,235.4 939.2,236.2 940.4,237.1 941.7,238.2 942.9,239.3 944.1,240.5 945.3,241.7 946.5,243 947.7,244.4 948.9,245.7 950.1,247.1 951.3,248.3 952.5,249.5 953.7,250.6 954.9,251.5 956.1,252.2 957.3,252.7 958.5,253 959.8,253 961,250.5 962.2,245.7 963.4,240.2 964.6,235.7 965.8,232.5 967,230.3 968.2,228.3 969.4,226.1 970.6,223.3 971.8,220.1 973,216.7 974.2,213.7 975.4,211.7 976.7,210.9 977.9,211 979.1,211.6 980.3,212.7 981.5,214.2 982.7,215.9 983.9,217.8 985.1,219.5 986.3,221.2 987.5,222.7 988.7,223.9 989.9,224.9 991.1,225.7 992.3,226.3 993.5,226.7 994.8,227 996,227.3 999.3,227.6 1002.5,227.8 1005.8,228 1009.1,228.1 1012.4,228.3 1015.7,228.4 1019,228.6 1022.3,228.8 1025.6,229 1028.9,229.1 1032.2,229.3 1035.5,229.5 1038.7,229.7 1042,229.8 1045.3,230"/>
</g>
<rect x="863.01" y="125.1" width="183.7" height="212.1" fill="none" stroke="#000" stroke-width="2.4"/>
<path d="M852.01 160.3H863.01M852.01 195.75H863.01M852.01 231.2H863.01M852.01 266.65H863.01M852.01 302.1H863.01M899.78 337.2V348.2M954.63 337.2V348.2M1009.49 337.2V348.2" stroke="#000" stroke-width="2.4" fill="none"/>
<text transform="translate(879.42,384.1) scale(0.97,1)" x="0.85 22" font-size="34.01" fill="#000">10</text>
<text transform="translate(934.28,384.1) scale(0.95,1)" x="0.85 22.69" font-size="34.01" fill="#000">25</text>
<text transform="translate(989.13,384.1) scale(0.99,1)" x="0.8 21.33" font-size="34.01" fill="#000">40</text>
<text transform="translate(884.62,429.9) scale(1.07,1)" x="1.09 12.1 20.56 48.86 67.06 67.06 86.84 114.83" font-size="33.55" fill="#000">time, ms</text>
<text transform="translate(1095.41,64.2) scale(0.98,1)" x="1.49 24.21 49.28 70.2 94.34 105.24 116.44 140.89" font-size="40.26" fill="#000">baseline</text>
<text transform="translate(1130.41,106.2) scale(1.07,1)" x="-1.67 23.02 35.15 47.71 71.09" font-size="40.32" fill="#000">after</text>
<path d="M1120.9 125.1V337.2M1175.75 125.1V337.2M1230.61 125.1V337.2" stroke="#b0b0b0" stroke-opacity="0.33" stroke-width="1.8" fill="none"/>
<path d="M1083.98 160.3H1267.68M1083.98 195.75H1267.68M1083.98 231.2H1267.68M1083.98 266.65H1267.68M1083.98 302.1H1267.68" stroke="#b0b0b0" stroke-opacity="0.33" stroke-width="1.8" fill="none"/>
<g fill="none" stroke="#111111" stroke-width="1.5" stroke-opacity="0.2" stroke-linejoin="round">
<polyline points="1084.2,232 1087.1,232 1089.3,231.6 1091.1,230.4 1092.6,229.9 1094.4,230.2 1096.2,231 1098.8,231.8 1106.1,232 1120.8,232 1135.4,232 1142.7,232 1144.5,232 1145.7,232 1146.9,232 1148.1,232 1149.3,232 1150.6,232 1151.8,232 1153,232 1154.2,232.1 1155.4,232.1 1156.6,232.1 1157.8,232.2 1159,232.4 1160.2,232.5 1161.4,232.7 1162.6,233.1 1163.8,233.4 1165,233.9 1166.2,234.6 1167.4,235.3 1168.7,236.2 1169.9,237.3 1171.1,238.4 1172.3,239.7 1173.5,241 1174.7,242.4 1175.9,243.8 1177.1,245.1 1178.3,246.3 1179.5,247.3 1180.7,248 1181.9,248.4 1183.1,248.5 1184.3,247.2 1185.6,243.6 1186.8,239.1 1188,234.8 1189.2,231.3 1190.4,228.3 1191.6,225.3 1192.8,222.1 1194,218.5 1195.2,215.1 1196.4,212.3 1197.6,210.8 1198.8,210.5 1200,210.9 1201.2,212 1202.4,213.6 1203.7,215.5 1204.9,217.4 1206.1,219.2 1207.3,220.9 1208.5,222.3 1209.7,223.5 1210.9,224.4 1212.1,225 1213.3,225.5 1214.5,225.9 1215.7,226.1 1216.9,226.3 1220.2,226.7 1223.5,226.9 1226.8,227.2 1230.1,227.5 1233.4,227.8 1236.7,228.1 1240,228.5 1243.3,228.8 1246.6,229.1 1249.8,229.4 1253.1,229.7 1256.4,230 1259.7,230.2 1263,230.5 1266.3,230.7"/>
<polyline points="1084.2,231 1087.1,231 1089.3,230.6 1091.1,229.5 1092.6,228.9 1094.4,229.3 1096.2,230.1 1098.8,230.8 1106.1,231 1120.8,231 1135.4,231 1142.7,231 1144.5,231 1145.7,231 1146.9,231 1148.1,231.1 1149.3,231.1 1150.6,231.1 1151.8,231.1 1153,231.2 1154.2,231.3 1155.4,231.4 1156.6,231.6 1157.8,231.9 1159,232.3 1160.2,232.8 1161.4,233.4 1162.6,234.2 1163.8,235.3 1165,236.6 1166.2,238.1 1167.4,239.8 1168.7,241.8 1169.9,244 1171.1,246.3 1172.3,248.8 1173.5,251.2 1174.7,253.5 1175.9,255.6 1177.1,257.4 1178.3,258.9 1179.5,259.8 1180.7,260.2 1181.9,258.9 1183.1,253.6 1184.3,246.2 1185.6,239.3 1186.8,234.3 1188,231 1189.2,229 1190.4,227.4 1191.6,226 1192.8,224.6 1194,223.5 1195.2,222.7 1196.4,222.4 1197.6,222.3 1198.8,222.5 1200,222.9 1201.2,223.5 1202.4,224.1 1203.7,224.7 1204.9,225.3 1206.1,225.8 1207.3,226.1 1208.5,226.5 1209.7,226.7 1210.9,226.9 1212.1,227 1213.3,227.1 1214.5,227.2 1215.7,227.3 1216.9,227.4 1220.2,227.5 1223.5,227.7 1226.8,227.9 1230.1,228.1 1233.4,228.4 1236.7,228.6 1240,228.8 1243.3,229 1246.6,229.2 1249.8,229.4 1253.1,229.6 1256.4,229.8 1259.7,230 1263,230.1 1266.3,230.2"/>
<polyline points="1084.2,230.6 1087.1,230.6 1089.3,230.2 1091.1,229.1 1092.6,228.5 1094.4,228.9 1096.2,229.6 1098.8,230.4 1106.1,230.6 1120.8,230.6 1135.4,230.6 1142.7,230.6 1144.5,230.6 1145.7,230.6 1146.9,230.6 1148.1,230.6 1149.3,230.6 1150.6,230.6 1151.8,230.7 1153,230.7 1154.2,230.7 1155.4,230.8 1156.6,230.9 1157.8,231 1159,231.2 1160.2,231.4 1161.4,231.8 1162.6,232.2 1163.8,232.8 1165,233.6 1166.2,234.6 1167.4,235.9 1168.7,237.4 1169.9,239.1 1171.1,241.1 1172.3,243.4 1173.5,245.8 1174.7,248.3 1175.9,250.9 1177.1,253.4 1178.3,255.8 1179.5,257.8 1180.7,259.5 1181.9,260.7 1183.1,261.4 1184.3,261.2 1185.6,257.1 1186.8,249.8 1188,242 1189.2,235.6 1190.4,231.2 1191.6,228.2 1192.8,225.9 1194,223.6 1195.2,221.4 1196.4,219.4 1197.6,218 1198.8,217.3 1200,217.2 1201.2,217.5 1202.4,218.2 1203.7,219.1 1204.9,220.2 1206.1,221.3 1207.3,222.3 1208.5,223.2 1209.7,223.9 1210.9,224.5 1212.1,225 1213.3,225.4 1214.5,225.6 1215.7,225.8 1216.9,226 1220.2,226.2 1223.5,226.4 1226.8,226.7 1230.1,226.9 1233.4,227.2 1236.7,227.4 1240,227.7 1243.3,228 1246.6,228.2 1249.8,228.5 1253.1,228.7 1256.4,228.9 1259.7,229.1 1263,229.3 1266.3,229.5"/>
<polyline points="1084.2,231.2 1087.1,231.2 1089.3,230.8 1091.1,229.6 1092.6,229.1 1094.4,229.4 1096.2,230.2 1098.8,231 1106.1,231.2 1120.8,231.2 1135.4,231.2 1142.7,231.2 1144.5,231.2 1145.7,231.2 1146.9,231.2 1148.1,231.2 1149.3,231.2 1150.6,231.2 1151.8,231.2 1153,231.2 1154.2,231.2 1155.4,231.3 1156.6,231.3 1157.8,231.3 1159,231.4 1160.2,231.5 1161.4,231.7 1162.6,231.9 1163.8,232.1 1165,232.5 1166.2,232.9 1167.4,233.4 1168.7,233.9 1169.9,234.6 1171.1,235.4 1172.3,236.2 1173.5,237.1 1174.7,238 1175.9,238.9 1177.1,239.7 1178.3,240.5 1179.5,241.1 1180.7,241.6 1181.9,241.8 1183.1,241.9 1184.3,241 1185.6,238.6 1186.8,235.6 1188,232.8 1189.2,230.5 1190.4,228.3 1191.6,226 1192.8,223.3 1194,220.5 1195.2,217.7 1196.4,215.6 1197.6,214.5 1198.8,214.5 1200,215 1201.2,216.1 1202.4,217.5 1203.7,219.2 1204.9,220.9 1206.1,222.5 1207.3,223.9 1208.5,225.1 1209.7,226.1 1210.9,226.9 1212.1,227.4 1213.3,227.9 1214.5,228.1 1215.7,228.3 1216.9,228.5 1220.2,228.7 1223.5,228.8 1226.8,228.9 1230.1,229.1 1233.4,229.2 1236.7,229.4 1240,229.5 1243.3,229.7 1246.6,229.8 1249.8,230 1253.1,230.1 1256.4,230.2 1259.7,230.4 1263,230.5 1266.3,230.6"/>
<polyline points="1084.2,231.8 1087.1,231.8 1089.3,231.4 1091.1,230.3 1092.6,229.7 1094.4,230.1 1096.2,230.9 1098.8,231.6 1106.1,231.8 1120.8,231.8 1135.4,231.8 1142.7,231.8 1144.5,231.8 1145.7,231.8 1146.9,231.8 1148.1,231.8 1149.3,231.8 1150.6,231.9 1151.8,231.9 1153,231.9 1154.2,231.9 1155.4,232 1156.6,232 1157.8,232.1 1159,232.3 1160.2,232.4 1161.4,232.7 1162.6,233 1163.8,233.5 1165,234 1166.2,234.7 1167.4,235.5 1168.7,236.5 1169.9,237.7 1171.1,238.9 1172.3,240.3 1173.5,241.8 1174.7,243.3 1175.9,244.8 1177.1,246.2 1178.3,247.5 1179.5,248.5 1180.7,249.3 1181.9,249.7 1183.1,249.8 1184.3,248.1 1185.6,244.1 1186.8,239.3 1188,234.8 1189.2,231.3 1190.4,228.3 1191.6,225.4 1192.8,222.2 1194,218.8 1195.2,215.6 1196.4,213.1 1197.6,211.8 1198.8,211.7 1200,212.2 1201.2,213.3 1202.4,214.9 1203.7,216.8 1204.9,218.7 1206.1,220.4 1207.3,222.1 1208.5,223.4 1209.7,224.5 1210.9,225.4 1212.1,226 1213.3,226.5 1214.5,226.8 1215.7,227 1216.9,227.2 1220.2,227.5 1223.5,227.7 1226.8,227.9 1230.1,228.2 1233.4,228.4 1236.7,228.7 1240,229 1243.3,229.2 1246.6,229.5 1249.8,229.7 1253.1,230 1256.4,230.2 1259.7,230.4 1263,230.6 1266.3,230.8"/>
<polyline points="1084.2,230 1087.1,230 1089.3,229.6 1091.1,228.5 1092.6,227.9 1094.4,228.3 1096.2,229 1098.8,229.8 1106.1,230 1120.8,230 1135.4,230 1142.7,230 1144.5,230 1145.7,230 1146.9,230 1148.1,230 1149.3,230 1150.6,230 1151.8,230.1 1153,230.1 1154.2,230.1 1155.4,230.2 1156.6,230.3 1157.8,230.4 1159,230.5 1160.2,230.7 1161.4,231 1162.6,231.3 1163.8,231.8 1165,232.3 1166.2,233 1167.4,233.7 1168.7,234.6 1169.9,235.5 1171.1,236.5 1172.3,237.6 1173.5,238.7 1174.7,239.7 1175.9,240.7 1177.1,241.6 1178.3,242.2 1179.5,242.7 1180.7,242.9 1181.9,242.6 1183.1,240.6 1184.3,237.3 1185.6,233.9 1186.8,231 1188,228.7 1189.2,226.6 1190.4,224.3 1191.6,221.8 1192.8,219.2 1194,217 1195.2,215.5 1196.4,215.1 1197.6,215.3 1198.8,216 1200,217.1 1201.2,218.5 1202.4,220 1203.7,221.5 1204.9,222.8 1206.1,224 1207.3,225 1208.5,225.8 1209.7,226.4 1210.9,226.8 1212.1,227.1 1213.3,227.3 1214.5,227.4 1215.7,227.5 1216.9,227.6 1220.2,227.7 1223.5,227.9 1226.8,228 1230.1,228.1 1233.4,228.3 1236.7,228.4 1240,228.6 1243.3,228.7 1246.6,228.8 1249.8,229 1253.1,229.1 1256.4,229.2 1259.7,229.3 1263,229.4 1266.3,229.5"/>
<polyline points="1084.2,231.8 1087.1,231.8 1089.3,231.4 1091.1,230.3 1092.6,229.7 1094.4,230.1 1096.2,230.9 1098.8,231.6 1106.1,231.8 1120.8,231.8 1135.4,231.8 1142.7,231.8 1144.5,231.8 1145.7,231.8 1146.9,231.8 1148.1,231.8 1149.3,231.8 1150.6,231.9 1151.8,231.9 1153,231.9 1154.2,231.9 1155.4,232 1156.6,232.1 1157.8,232.2 1159,232.4 1160.2,232.6 1161.4,232.9 1162.6,233.3 1163.8,233.8 1165,234.5 1166.2,235.3 1167.4,236.3 1168.7,237.4 1169.9,238.7 1171.1,240.2 1172.3,241.8 1173.5,243.4 1174.7,245.1 1175.9,246.7 1177.1,248.2 1178.3,249.5 1179.5,250.5 1180.7,251.2 1181.9,251.6 1183.1,251.2 1184.3,248.2 1185.6,243.2 1186.8,237.8 1188,233.1 1189.2,229.3 1190.4,225.8 1191.6,222 1192.8,217.8 1194,213.5 1195.2,209.6 1196.4,206.9 1197.6,206 1198.8,206.1 1200,207.1 1201.2,208.8 1202.4,211 1203.7,213.4 1204.9,215.8 1206.1,218 1207.3,219.9 1208.5,221.5 1209.7,222.8 1210.9,223.8 1212.1,224.5 1213.3,225 1214.5,225.4 1215.7,225.6 1216.9,225.8 1220.2,226.2 1223.5,226.5 1226.8,226.8 1230.1,227.1 1233.4,227.4 1236.7,227.8 1240,228.1 1243.3,228.5 1246.6,228.8 1249.8,229.1 1253.1,229.5 1256.4,229.7 1259.7,230 1263,230.3 1266.3,230.5"/>
<polyline points="1084.2,230.9 1087.1,230.9 1089.3,230.5 1091.1,229.4 1092.6,228.8 1094.4,229.2 1096.2,229.9 1098.8,230.7 1106.1,230.9 1120.8,230.9 1135.4,230.9 1142.7,230.9 1144.5,230.9 1145.7,230.9 1146.9,230.9 1148.1,230.9 1149.3,230.9 1150.6,230.9 1151.8,231 1153,231 1154.2,231 1155.4,231.1 1156.6,231.2 1157.8,231.3 1159,231.5 1160.2,231.8 1161.4,232.1 1162.6,232.5 1163.8,233.1 1165,233.7 1166.2,234.5 1167.4,235.4 1168.7,236.5 1169.9,237.7 1171.1,238.9 1172.3,240.3 1173.5,241.6 1174.7,242.9 1175.9,244.1 1177.1,245.2 1178.3,246 1179.5,246.6 1180.7,246.9 1181.9,246.6 1183.1,244.2 1184.3,240.2 1185.6,235.9 1186.8,232.3 1188,229.5 1189.2,227.2 1190.4,224.9 1191.6,222.4 1192.8,219.9 1194,217.7 1195.2,216 1196.4,215.3 1197.6,215.2 1198.8,215.5 1200,216.4 1201.2,217.5 1202.4,218.7 1203.7,220 1204.9,221.1 1206.1,222.1 1207.3,223 1208.5,223.7 1209.7,224.2 1210.9,224.6 1212.1,224.9 1213.3,225.1 1214.5,225.3 1215.7,225.4 1216.9,225.5 1220.2,225.8 1223.5,226.1 1226.8,226.3 1230.1,226.6 1233.4,227 1236.7,227.3 1240,227.6 1243.3,227.9 1246.6,228.2 1249.8,228.5 1253.1,228.8 1256.4,229.1 1259.7,229.3 1263,229.5 1266.3,229.7"/>
<polyline points="1084.2,231.1 1087.1,231.1 1089.3,230.7 1091.1,229.6 1092.6,229 1094.4,229.4 1096.2,230.2 1098.8,230.9 1106.1,231.1 1120.8,231.1 1135.4,231.1 1142.7,231.1 1144.5,231.1 1145.7,231.1 1146.9,231.1 1148.1,231.1 1149.3,231.2 1150.6,231.2 1151.8,231.2 1153,231.2 1154.2,231.2 1155.4,231.3 1156.6,231.4 1157.8,231.5 1159,231.6 1160.2,231.8 1161.4,232.1 1162.6,232.4 1163.8,232.8 1165,233.3 1166.2,234 1167.4,234.7 1168.7,235.6 1169.9,236.5 1171.1,237.6 1172.3,238.7 1173.5,239.8 1174.7,240.9 1175.9,242 1177.1,242.9 1178.3,243.7 1179.5,244.2 1180.7,244.5 1181.9,244.6 1183.1,243.1 1184.3,240 1185.6,236.5 1186.8,233.4 1188,231 1189.2,229.2 1190.4,227.4 1191.6,225.5 1192.8,223.6 1194,221.7 1195.2,220.4 1196.4,219.8 1197.6,219.9 1198.8,220.3 1200,221 1201.2,222 1202.4,223.2 1203.7,224.3 1204.9,225.4 1206.1,226.3 1207.3,227.1 1208.5,227.8 1209.7,228.2 1210.9,228.6 1212.1,228.9 1213.3,229 1214.5,229.2 1215.7,229.2 1216.9,229.3 1220.2,229.4 1223.5,229.5 1226.8,229.6 1230.1,229.7 1233.4,229.8 1236.7,229.9 1240,230 1243.3,230.1 1246.6,230.2 1249.8,230.3 1253.1,230.4 1256.4,230.5 1259.7,230.6 1263,230.7 1266.3,230.7"/>
<polyline points="1084.2,230.8 1087.1,230.8 1089.3,230.4 1091.1,229.2 1092.6,228.7 1094.4,229 1096.2,229.8 1098.8,230.6 1106.1,230.8 1120.8,230.8 1135.4,230.8 1142.7,230.8 1144.5,230.8 1145.7,230.8 1146.9,230.8 1148.1,230.8 1149.3,230.8 1150.6,230.8 1151.8,230.8 1153,230.8 1154.2,230.9 1155.4,230.9 1156.6,231 1157.8,231.1 1159,231.2 1160.2,231.4 1161.4,231.7 1162.6,232.1 1163.8,232.7 1165,233.4 1166.2,234.3 1167.4,235.4 1168.7,236.8 1169.9,238.5 1171.1,240.5 1172.3,242.7 1173.5,245.1 1174.7,247.7 1175.9,250.5 1177.1,253.2 1178.3,255.8 1179.5,258.3 1180.7,260.3 1181.9,262 1183.1,263.1 1184.3,263.6 1185.6,262.4 1186.8,256.7 1188,248.5 1189.2,240.3 1190.4,234 1191.6,229.4 1192.8,225.8 1194,222.4 1195.2,218.9 1196.4,215.5 1197.6,212.5 1198.8,210.6 1200,210.1 1201.2,210.4 1202.4,211.4 1203.7,212.9 1204.9,214.7 1206.1,216.7 1207.3,218.6 1208.5,220.3 1209.7,221.8 1210.9,223.1 1212.1,224.1 1213.3,224.8 1214.5,225.4 1215.7,225.7 1216.9,226 1220.2,226.4 1223.5,226.7 1226.8,226.9 1230.1,227.1 1233.4,227.4 1236.7,227.6 1240,227.9 1243.3,228.1 1246.6,228.4 1249.8,228.6 1253.1,228.9 1256.4,229.1 1259.7,229.3 1263,229.5 1266.3,229.7"/>
<polyline points="1084.2,231.7 1087.1,231.7 1089.3,231.3 1091.1,230.1 1092.6,229.6 1094.4,229.9 1096.2,230.7 1098.8,231.5 1106.1,231.7 1120.8,231.7 1135.4,231.7 1142.7,231.7 1144.5,231.7 1145.7,231.7 1146.9,231.7 1148.1,231.7 1149.3,231.7 1150.6,231.7 1151.8,231.7 1153,231.7 1154.2,231.7 1155.4,231.7 1156.6,231.8 1157.8,231.8 1159,231.9 1160.2,232 1161.4,232.1 1162.6,232.3 1163.8,232.6 1165,232.9 1166.2,233.4 1167.4,233.9 1168.7,234.5 1169.9,235.3 1171.1,236.1 1172.3,237.1 1173.5,238.2 1174.7,239.3 1175.9,240.4 1177.1,241.6 1178.3,242.6 1179.5,243.6 1180.7,244.4 1181.9,245 1183.1,245.3 1184.3,245.4 1185.6,244.1 1186.8,241 1188,237.3 1189.2,233.9 1190.4,231.2 1191.6,228.7 1192.8,226.3 1194,223.5 1195.2,220.5 1196.4,217.6 1197.6,215.5 1198.8,214.5 1200,214.5 1201.2,215.1 1202.4,216.3 1203.7,217.8 1204.9,219.5 1206.1,221.3 1207.3,223 1208.5,224.5 1209.7,225.7 1210.9,226.7 1212.1,227.5 1213.3,228.1 1214.5,228.5 1215.7,228.8 1216.9,229 1220.2,229.3 1223.5,229.4 1226.8,229.5 1230.1,229.7 1233.4,229.8 1236.7,229.9 1240,230.1 1243.3,230.2 1246.6,230.4 1249.8,230.5 1253.1,230.6 1256.4,230.8 1259.7,230.9 1263,231 1266.3,231.1"/>
<polyline points="1084.2,231.6 1087.1,231.6 1089.3,231.2 1091.1,230.1 1092.6,229.5 1094.4,229.9 1096.2,230.7 1098.8,231.4 1106.1,231.6 1120.8,231.6 1135.4,231.6 1142.7,231.6 1144.5,231.6 1145.7,231.6 1146.9,231.6 1148.1,231.7 1149.3,231.7 1150.6,231.7 1151.8,231.7 1153,231.7 1154.2,231.7 1155.4,231.8 1156.6,231.8 1157.8,231.9 1159,232.1 1160.2,232.3 1161.4,232.6 1162.6,233 1163.8,233.5 1165,234.1 1166.2,234.9 1167.4,236 1168.7,237.2 1169.9,238.6 1171.1,240.3 1172.3,242.1 1173.5,244.1 1174.7,246.2 1175.9,248.3 1177.1,250.3 1178.3,252.3 1179.5,254 1180.7,255.3 1181.9,256.3 1183.1,256.9 1184.3,256.7 1185.6,253.5 1186.8,247.5 1188,241 1189.2,235.7 1190.4,231.8 1191.6,229 1192.8,226.4 1194,223.7 1195.2,221.1 1196.4,218.6 1197.6,217 1198.8,216.4 1200,216.6 1201.2,217.3 1202.4,218.4 1203.7,219.9 1204.9,221.4 1206.1,223 1207.3,224.5 1208.5,225.8 1209.7,226.8 1210.9,227.7 1212.1,228.3 1213.3,228.8 1214.5,229.1 1215.7,229.4 1216.9,229.5 1220.2,229.7 1223.5,229.9 1226.8,230 1230.1,230.1 1233.4,230.2 1236.7,230.3 1240,230.4 1243.3,230.5 1246.6,230.6 1249.8,230.7 1253.1,230.8 1256.4,230.9 1259.7,231 1263,231.1 1266.3,231.2"/>
<polyline points="1084.2,230.7 1087.1,230.7 1089.3,230.3 1091.1,229.2 1092.6,228.6 1094.4,229 1096.2,229.7 1098.8,230.5 1106.1,230.7 1120.8,230.7 1135.4,230.7 1142.7,230.7 1144.5,230.7 1145.7,230.7 1146.9,230.7 1148.1,230.8 1149.3,230.8 1150.6,230.8 1151.8,230.8 1153,230.9 1154.2,231 1155.4,231.1 1156.6,231.3 1157.8,231.6 1159,231.9 1160.2,232.4 1161.4,232.9 1162.6,233.7 1163.8,234.5 1165,235.6 1166.2,236.8 1167.4,238.1 1168.7,239.6 1169.9,241.2 1171.1,242.8 1172.3,244.4 1173.5,246 1174.7,247.4 1175.9,248.6 1177.1,249.5 1178.3,250.1 1179.5,250.3 1180.7,249.2 1181.9,245.3 1183.1,240.2 1184.3,235.4 1185.6,231.5 1186.8,228.6 1188,225.9 1189.2,223.1 1190.4,220 1191.6,217.1 1192.8,214.7 1194,213.4 1195.2,213.2 1196.4,213.7 1197.6,214.7 1198.8,216.1 1200,217.8 1201.2,219.6 1202.4,221.3 1203.7,222.8 1204.9,224.1 1206.1,225.2 1207.3,226 1208.5,226.6 1209.7,227.1 1210.9,227.4 1212.1,227.6 1213.3,227.8 1214.5,227.9 1215.7,228 1216.9,228 1220.2,228.2 1223.5,228.3 1226.8,228.5 1230.1,228.6 1233.4,228.8 1236.7,228.9 1240,229.1 1243.3,229.3 1246.6,229.4 1249.8,229.6 1253.1,229.7 1256.4,229.8 1259.7,230 1263,230.1 1266.3,230.2"/>
<polyline points="1084.2,231.7 1087.1,231.7 1089.3,231.3 1091.1,230.2 1092.6,229.6 1094.4,230 1096.2,230.7 1098.8,231.5 1106.1,231.7 1120.8,231.7 1135.4,231.7 1142.7,231.7 1144.5,231.7 1145.7,231.7 1146.9,231.7 1148.1,231.7 1149.3,231.7 1150.6,231.7 1151.8,231.8 1153,231.8 1154.2,231.9 1155.4,231.9 1156.6,232 1157.8,232.2 1159,232.4 1160.2,232.7 1161.4,233.1 1162.6,233.6 1163.8,234.2 1165,235 1166.2,236 1167.4,237.2 1168.7,238.5 1169.9,240 1171.1,241.6 1172.3,243.4 1173.5,245.2 1174.7,246.9 1175.9,248.6 1177.1,250.1 1178.3,251.4 1179.5,252.4 1180.7,253 1181.9,253.1 1183.1,251.5 1184.3,247 1185.6,241.3 1186.8,236.1 1188,232.1 1189.2,228.9 1190.4,226 1191.6,222.9 1192.8,219.6 1194,216.5 1195.2,214 1196.4,212.7 1197.6,212.6 1198.8,213.1 1200,214.3 1201.2,215.8 1202.4,217.6 1203.7,219.5 1204.9,221.3 1206.1,222.9 1207.3,224.3 1208.5,225.4 1209.7,226.3 1210.9,226.9 1212.1,227.4 1213.3,227.7 1214.5,227.9 1215.7,228.1 1216.9,228.2 1220.2,228.4 1223.5,228.6 1226.8,228.8 1230.1,229 1233.4,229.2 1236.7,229.4 1240,229.6 1243.3,229.8 1246.6,230 1249.8,230.2 1253.1,230.3 1256.4,230.5 1259.7,230.7 1263,230.8 1266.3,230.9"/>
<polyline points="1084.2,231.7 1087.1,231.7 1089.3,231.3 1091.1,230.2 1092.6,229.6 1094.4,230 1096.2,230.7 1098.8,231.5 1106.1,231.7 1120.8,231.7 1135.4,231.7 1142.7,231.7 1144.5,231.7 1145.7,231.7 1146.9,231.7 1148.1,231.7 1149.3,231.7 1150.6,231.8 1151.8,231.8 1153,231.9 1154.2,232 1155.4,232.1 1156.6,232.3 1157.8,232.6 1159,232.9 1160.2,233.4 1161.4,234 1162.6,234.7 1163.8,235.7 1165,236.8 1166.2,238.2 1167.4,239.7 1168.7,241.4 1169.9,243.3 1171.1,245.3 1172.3,247.3 1173.5,249.3 1174.7,251.2 1175.9,252.8 1177.1,254.2 1178.3,255.2 1179.5,255.7 1180.7,255.7 1181.9,253 1183.1,247.4 1184.3,241 1185.6,235.4 1186.8,231 1188,227.3 1189.2,223.8 1190.4,219.9 1191.6,215.7 1192.8,211.9 1194,209.1 1195.2,208 1196.4,208.1 1197.6,208.9 1198.8,210.5 1200,212.6 1201.2,215 1202.4,217.3 1203.7,219.6 1204.9,221.5 1206.1,223.2 1207.3,224.5 1208.5,225.6 1209.7,226.3 1210.9,226.8 1212.1,227.2 1213.3,227.5 1214.5,227.6 1215.7,227.8 1216.9,227.9 1220.2,228.1 1223.5,228.3 1226.8,228.5 1230.1,228.7 1233.4,228.9 1236.7,229.2 1240,229.4 1243.3,229.6 1246.6,229.8 1249.8,230.1 1253.1,230.3 1256.4,230.4 1259.7,230.6 1263,230.8 1266.3,230.9"/>
<polyline points="1084.2,231.3 1087.1,231.3 1089.3,230.9 1091.1,229.8 1092.6,229.2 1094.4,229.6 1096.2,230.4 1098.8,231.1 1106.1,231.3 1120.8,231.3 1135.4,231.3 1142.7,231.3 1144.5,231.3 1145.7,231.3 1146.9,231.3 1148.1,231.3 1149.3,231.3 1150.6,231.4 1151.8,231.4 1153,231.4 1154.2,231.4 1155.4,231.4 1156.6,231.5 1157.8,231.6 1159,231.7 1160.2,231.8 1161.4,232 1162.6,232.2 1163.8,232.5 1165,232.9 1166.2,233.4 1167.4,234 1168.7,234.6 1169.9,235.4 1171.1,236.2 1172.3,237.1 1173.5,238 1174.7,238.9 1175.9,239.8 1177.1,240.6 1178.3,241.3 1179.5,241.8 1180.7,242.2 1181.9,242.3 1183.1,241.8 1184.3,239.7 1185.6,236.7 1186.8,233.7 1188,230.9 1189.2,228.2 1190.4,225.2 1191.6,221.7 1192.8,217.6 1194,213.6 1195.2,210.2 1196.4,208.3 1197.6,208.1 1198.8,208.8 1200,210.3 1201.2,212.3 1202.4,214.8 1203.7,217.3 1204.9,219.8 1206.1,222.1 1207.3,224 1208.5,225.6 1209.7,226.8 1210.9,227.8 1212.1,228.4 1213.3,228.9 1214.5,229.2 1215.7,229.3 1216.9,229.5 1220.2,229.7 1223.5,229.8 1226.8,229.8 1230.1,229.9 1233.4,230 1236.7,230.1 1240,230.2 1243.3,230.4 1246.6,230.5 1249.8,230.5 1253.1,230.6 1256.4,230.7 1259.7,230.8 1263,230.9 1266.3,230.9"/>
<polyline points="1084.2,230.9 1087.1,230.9 1089.3,230.5 1091.1,229.4 1092.6,228.8 1094.4,229.2 1096.2,230 1098.8,230.7 1106.1,230.9 1120.8,230.9 1135.4,230.9 1142.7,230.9 1144.5,230.9 1145.7,230.9 1146.9,230.9 1148.1,230.9 1149.3,230.9 1150.6,230.9 1151.8,230.9 1153,230.9 1154.2,230.9 1155.4,230.9 1156.6,230.9 1157.8,230.9 1159,230.9 1160.2,230.9 1161.4,230.9 1162.6,230.9 1163.8,230.9 1165,230.9 1166.2,230.9 1167.4,230.9 1168.7,230.9 1169.9,230.9 1171.1,230.9 1172.3,230.9 1173.5,230.9 1174.7,230.9 1175.9,230.9 1177.1,230.9 1178.3,230.9 1179.5,230.9 1180.7,230.9 1181.9,230.8 1183.1,230.8 1184.3,230.8 1185.6,230.7 1186.8,230.4 1188,229.9 1189.2,229 1190.4,227.5 1191.6,225 1192.8,221.7 1194,217.7 1195.2,213.4 1196.4,209.8 1197.6,207.5 1198.8,207.1 1200,207.8 1201.2,209.2 1202.4,211.3 1203.7,213.8 1204.9,216.5 1206.1,219.1 1207.3,221.6 1208.5,223.7 1209.7,225.4 1210.9,226.8 1212.1,227.8 1213.3,228.5 1214.5,229 1215.7,229.3 1216.9,229.6 1220.2,229.8 1223.5,229.9 1226.8,230 1230.1,230 1233.4,230.1 1236.7,230.2 1240,230.2 1243.3,230.3 1246.6,230.4 1249.8,230.4 1253.1,230.5 1256.4,230.5 1259.7,230.6 1263,230.6 1266.3,230.7"/>
<polyline points="1084.2,231.2 1087.1,231.2 1089.3,230.8 1091.1,229.7 1092.6,229.1 1094.4,229.5 1096.2,230.2 1098.8,231 1106.1,231.2 1120.8,231.2 1135.4,231.2 1142.7,231.2 1144.5,231.2 1145.7,231.2 1146.9,231.2 1148.1,231.2 1149.3,231.2 1150.6,231.2 1151.8,231.3 1153,231.3 1154.2,231.3 1155.4,231.4 1156.6,231.5 1157.8,231.6 1159,231.8 1160.2,232 1161.4,232.4 1162.6,232.8 1163.8,233.3 1165,234 1166.2,234.8 1167.4,235.7 1168.7,236.8 1169.9,238.1 1171.1,239.4 1172.3,240.8 1173.5,242.3 1174.7,243.7 1175.9,245 1177.1,246.2 1178.3,247.3 1179.5,248 1180.7,248.4 1181.9,248.5 1183.1,246.9 1184.3,243.1 1185.6,238.6 1186.8,234.6 1188,231.6 1189.2,229.4 1190.4,227.4 1191.6,225.4 1192.8,223.2 1194,221.2 1195.2,219.7 1196.4,219 1197.6,219 1198.8,219.4 1200,220.2 1201.2,221.3 1202.4,222.5 1203.7,223.7 1204.9,224.9 1206.1,225.9 1207.3,226.8 1208.5,227.5 1209.7,228 1210.9,228.4 1212.1,228.7 1213.3,228.9 1214.5,229 1215.7,229.1 1216.9,229.2 1220.2,229.3 1223.5,229.4 1226.8,229.5 1230.1,229.6 1233.4,229.8 1236.7,229.9 1240,230 1243.3,230.1 1246.6,230.2 1249.8,230.3 1253.1,230.4 1256.4,230.5 1259.7,230.6 1263,230.7 1266.3,230.8"/>
<polyline points="1084.2,231.6 1087.1,231.6 1089.3,231.2 1091.1,230.1 1092.6,229.5 1094.4,229.9 1096.2,230.7 1098.8,231.4 1106.1,231.6 1120.8,231.6 1135.4,231.6 1142.7,231.6 1144.5,231.6 1145.7,231.6 1146.9,231.6 1148.1,231.6 1149.3,231.6 1150.6,231.6 1151.8,231.6 1153,231.6 1154.2,231.7 1155.4,231.7 1156.6,231.7 1157.8,231.8 1159,231.8 1160.2,231.9 1161.4,232 1162.6,232.2 1163.8,232.4 1165,232.7 1166.2,233.1 1167.4,233.6 1168.7,234.2 1169.9,234.8 1171.1,235.6 1172.3,236.4 1173.5,237.4 1174.7,238.4 1175.9,239.4 1177.1,240.3 1178.3,241.3 1179.5,242.1 1180.7,242.8 1181.9,243.3 1183.1,243.5 1184.3,243.5 1185.6,242.2 1186.8,239.3 1188,236 1189.2,233 1190.4,230.4 1191.6,228 1192.8,225.3 1194,222.2 1195.2,218.9 1196.4,215.8 1197.6,213.6 1198.8,212.6 1200,212.7 1201.2,213.5 1202.4,214.8 1203.7,216.5 1204.9,218.4 1206.1,220.4 1207.3,222.2 1208.5,223.9 1209.7,225.2 1210.9,226.3 1212.1,227.2 1213.3,227.8 1214.5,228.2 1215.7,228.5 1216.9,228.7 1220.2,229 1223.5,229.2 1226.8,229.3 1230.1,229.4 1233.4,229.6 1236.7,229.7 1240,229.9 1243.3,230 1246.6,230.2 1249.8,230.4 1253.1,230.5 1256.4,230.6 1259.7,230.8 1263,230.9 1266.3,231"/>
<polyline points="1084.2,231.1 1087.1,231 1089.3,230.6 1091.1,229.5 1092.6,228.9 1094.4,229.3 1096.2,230.1 1098.8,230.8 1106.1,231.1 1120.8,231.1 1135.4,231.1 1142.7,231.1 1144.5,231.1 1145.7,231.1 1146.9,231.1 1148.1,231.1 1149.3,231.1 1150.6,231.1 1151.8,231.1 1153,231.1 1154.2,231.1 1155.4,231.1 1156.6,231.2 1157.8,231.2 1159,231.3 1160.2,231.4 1161.4,231.6 1162.6,231.8 1163.8,232 1165,232.3 1166.2,232.7 1167.4,233.2 1168.7,233.7 1169.9,234.2 1171.1,234.9 1172.3,235.5 1173.5,236.2 1174.7,236.9 1175.9,237.5 1177.1,238.1 1178.3,238.6 1179.5,238.9 1180.7,239.1 1181.9,239.1 1183.1,238.3 1184.3,236.3 1185.6,233.8 1186.8,231.3 1188,229 1189.2,226.4 1190.4,223.4 1191.6,219.8 1192.8,215.9 1194,212.1 1195.2,209.1 1196.4,207.5 1197.6,207.4 1198.8,208 1200,209.3 1201.2,211.2 1202.4,213.4 1203.7,215.6 1204.9,217.7 1206.1,219.6 1207.3,221.2 1208.5,222.5 1209.7,223.6 1210.9,224.3 1212.1,224.9 1213.3,225.2 1214.5,225.5 1215.7,225.7 1216.9,225.9 1220.2,226.1 1223.5,226.4 1226.8,226.7 1230.1,227 1233.4,227.3 1236.7,227.6 1240,227.9 1243.3,228.2 1246.6,228.5 1249.8,228.8 1253.1,229 1256.4,229.3 1259.7,229.5 1263,229.7 1266.3,229.9"/>
<polyline points="1084.2,230.3 1087.1,230.3 1089.3,229.9 1091.1,228.8 1092.6,228.2 1094.4,228.6 1096.2,229.4 1098.8,230.1 1106.1,230.3 1120.8,230.3 1135.4,230.3 1142.7,230.3 1144.5,230.3 1145.7,230.3 1146.9,230.3 1148.1,230.4 1149.3,230.4 1150.6,230.4 1151.8,230.4 1153,230.4 1154.2,230.5 1155.4,230.6 1156.6,230.7 1157.8,230.9 1159,231.2 1160.2,231.6 1161.4,232.1 1162.6,232.7 1163.8,233.5 1165,234.6 1166.2,235.8 1167.4,237.3 1168.7,239.1 1169.9,241 1171.1,243.1 1172.3,245.4 1173.5,247.8 1174.7,250.2 1175.9,252.4 1177.1,254.5 1178.3,256.2 1179.5,257.6 1180.7,258.4 1181.9,258.8 1183.1,257.2 1184.3,251.8 1185.6,244.5 1186.8,237.9 1188,232.8 1189.2,229.1 1190.4,226.1 1191.6,223.2 1192.8,220.1 1194,217.2 1195.2,214.8 1196.4,213.7 1197.6,213.7 1198.8,214.4 1200,215.6 1201.2,217.2 1202.4,219.1 1203.7,221 1204.9,222.9 1206.1,224.5 1207.3,226 1208.5,227.1 1209.7,228 1210.9,228.7 1212.1,229.2 1213.3,229.5 1214.5,229.7 1215.7,229.8 1216.9,229.9 1220.2,230 1223.5,230 1226.8,230 1230.1,230 1233.4,230.1 1236.7,230.1 1240,230.1 1243.3,230.1 1246.6,230.2 1249.8,230.2 1253.1,230.2 1256.4,230.2 1259.7,230.2 1263,230.2 1266.3,230.3"/>
<polyline points="1084.2,231.7 1087.1,231.7 1089.3,231.3 1091.1,230.2 1092.6,229.6 1094.4,230 1096.2,230.8 1098.8,231.5 1106.1,231.7 1120.8,231.7 1135.4,231.7 1142.7,231.7 1144.5,231.7 1145.7,231.7 1146.9,231.7 1148.1,231.7 1149.3,231.7 1150.6,231.8 1151.8,231.8 1153,231.8 1154.2,231.9 1155.4,231.9 1156.6,232 1157.8,232.2 1159,232.4 1160.2,232.6 1161.4,233 1162.6,233.4 1163.8,234 1165,234.7 1166.2,235.5 1167.4,236.5 1168.7,237.6 1169.9,238.8 1171.1,240.1 1172.3,241.5 1173.5,242.9 1174.7,244.3 1175.9,245.6 1177.1,246.7 1178.3,247.6 1179.5,248.3 1180.7,248.6 1181.9,248.5 1183.1,246.1 1184.3,242 1185.6,237.8 1186.8,234.3 1188,231.9 1189.2,230.2 1190.4,228.7 1191.6,227.3 1192.8,225.9 1194,224.6 1195.2,223.7 1196.4,223.4 1197.6,223.4 1198.8,223.7 1200,224.3 1201.2,225 1202.4,225.7 1203.7,226.5 1204.9,227.2 1206.1,227.8 1207.3,228.3 1208.5,228.7 1209.7,229.1 1210.9,229.3 1212.1,229.5 1213.3,229.6 1214.5,229.7 1215.7,229.7 1216.9,229.8 1220.2,229.9 1223.5,230 1226.8,230.1 1230.1,230.2 1233.4,230.3 1236.7,230.4 1240,230.5 1243.3,230.7 1246.6,230.8 1249.8,230.9 1253.1,231 1256.4,231.1 1259.7,231.2 1263,231.2 1266.3,231.3"/>
<polyline points="1084.2,231.2 1087.1,231.2 1089.3,230.8 1091.1,229.7 1092.6,229.1 1094.4,229.5 1096.2,230.3 1098.8,231 1106.1,231.2 1120.8,231.2 1135.4,231.2 1142.7,231.2 1144.5,231.2 1145.7,231.2 1146.9,231.2 1148.1,231.2 1149.3,231.2 1150.6,231.3 1151.8,231.3 1153,231.3 1154.2,231.3 1155.4,231.3 1156.6,231.4 1157.8,231.5 1159,231.6 1160.2,231.7 1161.4,231.9 1162.6,232.2 1163.8,232.5 1165,232.9 1166.2,233.5 1167.4,234.1 1168.7,234.9 1169.9,235.9 1171.1,236.9 1172.3,238 1173.5,239.3 1174.7,240.5 1175.9,241.8 1177.1,243 1178.3,244.1 1179.5,245.1 1180.7,245.8 1181.9,246.3 1183.1,246.5 1184.3,245.7 1185.6,242.9 1186.8,239.1 1188,235.5 1189.2,232.8 1190.4,230.9 1191.6,229.5 1192.8,228.1 1194,226.7 1195.2,225.4 1196.4,224.3 1197.6,223.7 1198.8,223.7 1200,224 1201.2,224.6 1202.4,225.3 1203.7,226.1 1204.9,227 1206.1,227.9 1207.3,228.6 1208.5,229.3 1209.7,229.8 1210.9,230.3 1212.1,230.6 1213.3,230.8 1214.5,230.9 1215.7,231 1216.9,231.1 1220.2,231.1 1223.5,231.2 1226.8,231.2 1230.1,231.2 1233.4,231.2 1236.7,231.2 1240,231.2 1243.3,231.2 1246.6,231.2 1249.8,231.2 1253.1,231.2 1256.4,231.2 1259.7,231.2 1263,231.2 1266.3,231.2"/>
<polyline points="1084.2,231.1 1087.1,231.1 1089.3,230.7 1091.1,229.6 1092.6,229 1094.4,229.4 1096.2,230.2 1098.8,230.9 1106.1,231.1 1120.8,231.1 1135.4,231.1 1142.7,231.1 1144.5,231.1 1145.7,231.1 1146.9,231.1 1148.1,231.2 1149.3,231.2 1150.6,231.2 1151.8,231.2 1153,231.3 1154.2,231.3 1155.4,231.4 1156.6,231.6 1157.8,231.8 1159,232 1160.2,232.4 1161.4,232.9 1162.6,233.5 1163.8,234.3 1165,235.3 1166.2,236.5 1167.4,237.9 1168.7,239.5 1169.9,241.2 1171.1,243.2 1172.3,245.2 1173.5,247.3 1174.7,249.3 1175.9,251.2 1177.1,252.9 1178.3,254.3 1179.5,255.3 1180.7,255.8 1181.9,255.8 1183.1,252.8 1184.3,247 1185.6,240.6 1186.8,235.1 1188,230.9 1189.2,227.6 1190.4,224.5 1191.6,221.2 1192.8,217.7 1194,214.5 1195.2,212.3 1196.4,211.4 1197.6,211.7 1198.8,212.5 1200,214 1201.2,215.8 1202.4,217.8 1203.7,219.9 1204.9,221.8 1206.1,223.5 1207.3,224.9 1208.5,226.1 1209.7,226.9 1210.9,227.6 1212.1,228 1213.3,228.3 1214.5,228.5 1215.7,228.6 1216.9,228.7 1220.2,228.9 1223.5,229 1226.8,229.1 1230.1,229.3 1233.4,229.4 1236.7,229.6 1240,229.7 1243.3,229.8 1246.6,230 1249.8,230.1 1253.1,230.2 1256.4,230.3 1259.7,230.4 1263,230.5 1266.3,230.6"/>
<polyline points="1084.2,230.8 1087.1,230.8 1089.3,230.4 1091.1,229.3 1092.6,228.7 1094.4,229.1 1096.2,229.9 1098.8,230.6 1106.1,230.8 1120.8,230.8 1135.4,230.8 1142.7,230.8 1144.5,230.8 1145.7,230.8 1146.9,230.9 1148.1,230.9 1149.3,230.9 1150.6,230.9 1151.8,230.9 1153,230.9 1154.2,231 1155.4,231.1 1156.6,231.2 1157.8,231.4 1159,231.6 1160.2,231.9 1161.4,232.4 1162.6,232.9 1163.8,233.6 1165,234.4 1166.2,235.5 1167.4,236.6 1168.7,238 1169.9,239.5 1171.1,241.2 1172.3,242.9 1173.5,244.7 1174.7,246.4 1175.9,248 1177.1,249.4 1178.3,250.5 1179.5,251.3 1180.7,251.8 1181.9,251.7 1183.1,248.9 1184.3,243.9 1185.6,238.6 1186.8,234.3 1188,231.2 1189.2,228.8 1190.4,226.7 1191.6,224.6 1192.8,222.4 1194,220.5 1195.2,219.2 1196.4,218.8 1197.6,219.1 1198.8,219.7 1200,220.7 1201.2,222 1202.4,223.3 1203.7,224.7 1204.9,225.9 1206.1,227 1207.3,227.9 1208.5,228.7 1209.7,229.2 1210.9,229.6 1212.1,229.9 1213.3,230.1 1214.5,230.2 1215.7,230.2 1216.9,230.3 1220.2,230.3 1223.5,230.4 1226.8,230.4 1230.1,230.4 1233.4,230.5 1236.7,230.5 1240,230.5 1243.3,230.6 1246.6,230.6 1249.8,230.6 1253.1,230.6 1256.4,230.7 1259.7,230.7 1263,230.7 1266.3,230.7"/>
<polyline points="1084.2,231.1 1087.1,231 1089.3,230.6 1091.1,229.5 1092.6,228.9 1094.4,229.3 1096.2,230.1 1098.8,230.8 1106.1,231.1 1120.8,231.1 1135.4,231.1 1142.7,231.1 1144.5,231.1 1145.7,231.1 1146.9,231.1 1148.1,231.1 1149.3,231.1 1150.6,231.1 1151.8,231.1 1153,231.2 1154.2,231.2 1155.4,231.3 1156.6,231.4 1157.8,231.6 1159,231.8 1160.2,232.2 1161.4,232.6 1162.6,233.2 1163.8,234 1165,235 1166.2,236.2 1167.4,237.6 1168.7,239.3 1169.9,241.2 1171.1,243.3 1172.3,245.6 1173.5,248 1174.7,250.5 1175.9,252.8 1177.1,255 1178.3,256.9 1179.5,258.5 1180.7,259.5 1181.9,260.1 1183.1,259.6 1184.3,255.3 1185.6,248.2 1186.8,240.8 1188,234.8 1189.2,230.5 1190.4,227.2 1191.6,224.1 1192.8,221 1194,217.9 1195.2,215.1 1196.4,213.2 1197.6,212.5 1198.8,212.6 1200,213.3 1201.2,214.6 1202.4,216.2 1203.7,217.9 1204.9,219.6 1206.1,221.2 1207.3,222.6 1208.5,223.8 1209.7,224.7 1210.9,225.4 1212.1,225.9 1213.3,226.3 1214.5,226.5 1215.7,226.7 1216.9,226.9 1220.2,227.1 1223.5,227.3 1226.8,227.5 1230.1,227.8 1233.4,228 1236.7,228.2 1240,228.5 1243.3,228.7 1246.6,229 1249.8,229.2 1253.1,229.4 1256.4,229.6 1259.7,229.8 1263,230 1266.3,230.1"/>
<polyline points="1084.2,231.7 1087.1,231.7 1089.3,231.3 1091.1,230.2 1092.6,229.6 1094.4,230 1096.2,230.7 1098.8,231.5 1106.1,231.7 1120.8,231.7 1135.4,231.7 1142.7,231.7 1144.5,231.7 1145.7,231.7 1146.9,231.7 1148.1,231.7 1149.3,231.7 1150.6,231.7 1151.8,231.7 1153,231.8 1154.2,231.8 1155.4,231.8 1156.6,231.9 1157.8,232 1159,232.1 1160.2,232.3 1161.4,232.5 1162.6,232.8 1163.8,233.2 1165,233.7 1166.2,234.4 1167.4,235.2 1168.7,236.1 1169.9,237.3 1171.1,238.5 1172.3,239.9 1173.5,241.4 1174.7,243 1175.9,244.6 1177.1,246.1 1178.3,247.5 1179.5,248.7 1180.7,249.6 1181.9,250.3 1183.1,250.6 1184.3,250 1185.6,246.7 1186.8,242 1188,237.3 1189.2,233.5 1190.4,230.7 1191.6,228.2 1192.8,225.8 1194,223.1 1195.2,220.4 1196.4,218.2 1197.6,216.9 1198.8,216.7 1200,217.2 1201.2,218.1 1202.4,219.4 1203.7,221 1204.9,222.7 1206.1,224.3 1207.3,225.8 1208.5,227.1 1209.7,228.1 1210.9,229 1212.1,229.6 1213.3,230 1214.5,230.3 1215.7,230.5 1216.9,230.6 1220.2,230.8 1223.5,230.9 1226.8,230.9 1230.1,231 1233.4,231 1236.7,231.1 1240,231.1 1243.3,231.2 1246.6,231.2 1249.8,231.3 1253.1,231.3 1256.4,231.4 1259.7,231.4 1263,231.5 1266.3,231.5"/>
<polyline points="1084.2,230.5 1087.1,230.5 1089.3,230.1 1091.1,229 1092.6,228.4 1094.4,228.8 1096.2,229.6 1098.8,230.3 1106.1,230.5 1120.8,230.5 1135.4,230.5 1142.7,230.5 1144.5,230.5 1145.7,230.6 1146.9,230.6 1148.1,230.6 1149.3,230.6 1150.6,230.6 1151.8,230.7 1153,230.7 1154.2,230.8 1155.4,231 1156.6,231.2 1157.8,231.4 1159,231.8 1160.2,232.3 1161.4,232.9 1162.6,233.7 1163.8,234.7 1165,235.8 1166.2,237.2 1167.4,238.7 1168.7,240.4 1169.9,242.2 1171.1,244.2 1172.3,246.1 1173.5,248 1174.7,249.7 1175.9,251.2 1177.1,252.5 1178.3,253.3 1179.5,253.7 1180.7,253.3 1181.9,249.8 1183.1,244 1184.3,238.1 1185.6,233.2 1186.8,229.5 1188,226.5 1189.2,223.5 1190.4,220.4 1191.6,217.2 1192.8,214.4 1194,212.5 1195.2,211.9 1196.4,212.2 1197.6,213 1198.8,214.3 1200,216 1201.2,217.8 1202.4,219.7 1203.7,221.3 1204.9,222.8 1206.1,224 1207.3,225 1208.5,225.7 1209.7,226.2 1210.9,226.6 1212.1,226.9 1213.3,227 1214.5,227.2 1215.7,227.3 1216.9,227.3 1220.2,227.5 1223.5,227.7 1226.8,227.9 1230.1,228 1233.4,228.2 1236.7,228.4 1240,228.6 1243.3,228.8 1246.6,229 1249.8,229.2 1253.1,229.3 1256.4,229.5 1259.7,229.6 1263,229.8 1266.3,229.9"/>
<polyline points="1084.2,230.2 1087.1,230.2 1089.3,229.8 1091.1,228.6 1092.6,228.1 1094.4,228.4 1096.2,229.2 1098.8,230 1106.1,230.2 1120.8,230.2 1135.4,230.2 1142.7,230.2 1144.5,230.2 1145.7,230.2 1146.9,230.2 1148.1,230.2 1149.3,230.2 1150.6,230.2 1151.8,230.2 1153,230.3 1154.2,230.3 1155.4,230.4 1156.6,230.5 1157.8,230.7 1159,230.9 1160.2,231.2 1161.4,231.6 1162.6,232.1 1163.8,232.8 1165,233.6 1166.2,234.7 1167.4,235.9 1168.7,237.3 1169.9,239 1171.1,240.7 1172.3,242.7 1173.5,244.6 1174.7,246.6 1175.9,248.6 1177.1,250.3 1178.3,251.8 1179.5,253 1180.7,253.8 1181.9,254.1 1183.1,253.2 1184.3,248.9 1185.6,242.7 1186.8,236.8 1188,232.1 1189.2,228.5 1190.4,225.5 1191.6,222.5 1192.8,219.2 1194,215.9 1195.2,213.2 1196.4,211.6 1197.6,211.3 1198.8,211.8 1200,212.9 1201.2,214.4 1202.4,216.3 1203.7,218.3 1204.9,220.2 1206.1,221.9 1207.3,223.4 1208.5,224.6 1209.7,225.6 1210.9,226.3 1212.1,226.8 1213.3,227.2 1214.5,227.4 1215.7,227.6 1216.9,227.7 1220.2,227.9 1223.5,228 1226.8,228.1 1230.1,228.3 1233.4,228.4 1236.7,228.5 1240,228.7 1243.3,228.8 1246.6,229 1249.8,229.1 1253.1,229.2 1256.4,229.3 1259.7,229.5 1263,229.6 1266.3,229.6"/>
<polyline points="1084.2,231.1 1087.1,231.1 1089.3,230.7 1091.1,229.5 1092.6,229 1094.4,229.3 1096.2,230.1 1098.8,230.9 1106.1,231.1 1120.8,231.1 1135.4,231.1 1142.7,231.1 1144.5,231.1 1145.7,231.1 1146.9,231.1 1148.1,231.1 1149.3,231.1 1150.6,231.1 1151.8,231.1 1153,231.1 1154.2,231.1 1155.4,231.1 1156.6,231.2 1157.8,231.2 1159,231.3 1160.2,231.3 1161.4,231.4 1162.6,231.6 1163.8,231.8 1165,232 1166.2,232.3 1167.4,232.7 1168.7,233.2 1169.9,233.7 1171.1,234.3 1172.3,235.1 1173.5,235.8 1174.7,236.7 1175.9,237.5 1177.1,238.4 1178.3,239.2 1179.5,239.9 1180.7,240.5 1181.9,240.9 1183.1,241.2 1184.3,241.2 1185.6,240.3 1186.8,238.1 1188,235.4 1189.2,233 1190.4,231.1 1191.6,229.6 1192.8,228.1 1194,226.6 1195.2,225 1196.4,223.4 1197.6,222.2 1198.8,221.6 1200,221.6 1201.2,221.9 1202.4,222.4 1203.7,223.2 1204.9,224.1 1206.1,225 1207.3,225.8 1208.5,226.6 1209.7,227.3 1210.9,227.8 1212.1,228.2 1213.3,228.5 1214.5,228.8 1215.7,228.9 1216.9,229 1220.2,229.2 1223.5,229.3 1226.8,229.4 1230.1,229.5 1233.4,229.6 1236.7,229.7 1240,229.8 1243.3,229.9 1246.6,230.1 1249.8,230.2 1253.1,230.3 1256.4,230.4 1259.7,230.5 1263,230.5 1266.3,230.6"/>
<polyline points="1084.2,231.1 1087.1,231 1089.3,230.6 1091.1,229.5 1092.6,228.9 1094.4,229.3 1096.2,230.1 1098.8,230.8 1106.1,231.1 1120.8,231.1 1135.4,231.1 1142.7,231.1 1144.5,231.1 1145.7,231.1 1146.9,231.1 1148.1,231.1 1149.3,231.1 1150.6,231.1 1151.8,231.1 1153,231.1 1154.2,231.2 1155.4,231.2 1156.6,231.3 1157.8,231.4 1159,231.6 1160.2,231.8 1161.4,232.1 1162.6,232.4 1163.8,232.9 1165,233.4 1166.2,234.1 1167.4,234.8 1168.7,235.7 1169.9,236.7 1171.1,237.7 1172.3,238.8 1173.5,239.9 1174.7,241 1175.9,242 1177.1,242.8 1178.3,243.5 1179.5,244 1180.7,244.2 1181.9,244 1183.1,241.9 1184.3,238.5 1185.6,234.8 1186.8,231.6 1188,228.8 1189.2,226 1190.4,222.9 1191.6,219.4 1192.8,215.7 1194,212.4 1195.2,210.3 1196.4,209.6 1197.6,209.8 1198.8,210.8 1200,212.4 1201.2,214.3 1202.4,216.4 1203.7,218.5 1204.9,220.5 1206.1,222.2 1207.3,223.6 1208.5,224.7 1209.7,225.6 1210.9,226.2 1212.1,226.6 1213.3,226.9 1214.5,227.1 1215.7,227.3 1216.9,227.4 1220.2,227.6 1223.5,227.8 1226.8,228 1230.1,228.2 1233.4,228.4 1236.7,228.6 1240,228.8 1243.3,229 1246.6,229.3 1249.8,229.5 1253.1,229.6 1256.4,229.8 1259.7,230 1263,230.1 1266.3,230.3"/>
<polyline points="1084.2,230.3 1087.1,230.3 1089.3,229.9 1091.1,228.8 1092.6,228.2 1094.4,228.6 1096.2,229.3 1098.8,230.1 1106.1,230.3 1120.8,230.3 1135.4,230.3 1142.7,230.3 1144.5,230.3 1145.7,230.3 1146.9,230.3 1148.1,230.3 1149.3,230.3 1150.6,230.4 1151.8,230.4 1153,230.4 1154.2,230.5 1155.4,230.6 1156.6,230.8 1157.8,231 1159,231.2 1160.2,231.6 1161.4,232.1 1162.6,232.7 1163.8,233.5 1165,234.5 1166.2,235.7 1167.4,237 1168.7,238.6 1169.9,240.3 1171.1,242.1 1172.3,244 1173.5,245.9 1174.7,247.7 1175.9,249.4 1177.1,250.9 1178.3,252 1179.5,252.8 1180.7,253.1 1181.9,252.4 1183.1,248.4 1184.3,242.6 1185.6,236.8 1186.8,232.2 1188,228.8 1189.2,226 1190.4,223.2 1191.6,220.3 1192.8,217.4 1194,214.9 1195.2,213.3 1196.4,212.8 1197.6,212.9 1198.8,213.7 1200,214.8 1201.2,216.3 1202.4,217.9 1203.7,219.5 1204.9,220.9 1206.1,222.2 1207.3,223.2 1208.5,224 1209.7,224.6 1210.9,225.1 1212.1,225.4 1213.3,225.6 1214.5,225.8 1215.7,225.9 1216.9,226 1220.2,226.2 1223.5,226.5 1226.8,226.7 1230.1,226.9 1233.4,227.2 1236.7,227.4 1240,227.7 1243.3,227.9 1246.6,228.2 1249.8,228.4 1253.1,228.6 1256.4,228.9 1259.7,229.1 1263,229.2 1266.3,229.4"/>
<polyline points="1084.2,230.5 1087.1,230.4 1089.3,230 1091.1,228.9 1092.6,228.3 1094.4,228.7 1096.2,229.5 1098.8,230.2 1106.1,230.5 1120.8,230.5 1135.4,230.5 1142.7,230.5 1144.5,230.5 1145.7,230.5 1146.9,230.5 1148.1,230.5 1149.3,230.5 1150.6,230.5 1151.8,230.5 1153,230.5 1154.2,230.5 1155.4,230.6 1156.6,230.6 1157.8,230.7 1159,230.8 1160.2,230.9 1161.4,231.1 1162.6,231.4 1163.8,231.7 1165,232.1 1166.2,232.7 1167.4,233.3 1168.7,234.1 1169.9,235 1171.1,236 1172.3,237.1 1173.5,238.2 1174.7,239.4 1175.9,240.6 1177.1,241.8 1178.3,242.8 1179.5,243.6 1180.7,244.3 1181.9,244.7 1183.1,244.8 1184.3,243.7 1185.6,240.6 1186.8,236.7 1188,233 1189.2,229.8 1190.4,227 1191.6,224.1 1192.8,220.7 1194,217.1 1195.2,213.5 1196.4,210.7 1197.6,209.2 1198.8,209.1 1200,209.7 1201.2,210.9 1202.4,212.7 1203.7,214.8 1204.9,216.9 1206.1,218.9 1207.3,220.7 1208.5,222.3 1209.7,223.6 1210.9,224.6 1212.1,225.3 1213.3,225.8 1214.5,226.2 1215.7,226.4 1216.9,226.6 1220.2,226.9 1223.5,227.1 1226.8,227.3 1230.1,227.5 1233.4,227.7 1236.7,227.9 1240,228.1 1243.3,228.3 1246.6,228.5 1249.8,228.7 1253.1,228.9 1256.4,229.1 1259.7,229.3 1263,229.5 1266.3,229.6"/>
<polyline points="1084.2,231.5 1087.1,231.4 1089.3,231 1091.1,229.9 1092.6,229.3 1094.4,229.7 1096.2,230.5 1098.8,231.2 1106.1,231.5 1120.8,231.5 1135.4,231.5 1142.7,231.5 1144.5,231.5 1145.7,231.5 1146.9,231.5 1148.1,231.5 1149.3,231.5 1150.6,231.5 1151.8,231.5 1153,231.5 1154.2,231.6 1155.4,231.6 1156.6,231.7 1157.8,231.9 1159,232.1 1160.2,232.4 1161.4,232.8 1162.6,233.3 1163.8,233.9 1165,234.8 1166.2,235.8 1167.4,237.1 1168.7,238.6 1169.9,240.4 1171.1,242.3 1172.3,244.5 1173.5,246.7 1174.7,249 1175.9,251.3 1177.1,253.5 1178.3,255.4 1179.5,257.1 1180.7,258.3 1181.9,259 1183.1,259.2 1184.3,256.8 1185.6,250.8 1186.8,243.5 1188,237 1189.2,232 1190.4,228.2 1191.6,224.6 1192.8,220.9 1194,217 1195.2,213.3 1196.4,210.4 1197.6,209.1 1198.8,209.1 1200,209.9 1201.2,211.4 1202.4,213.3 1203.7,215.6 1204.9,217.9 1206.1,220.1 1207.3,222 1208.5,223.7 1209.7,225 1210.9,226.1 1212.1,226.8 1213.3,227.4 1214.5,227.7 1215.7,228 1216.9,228.2 1220.2,228.4 1223.5,228.6 1226.8,228.8 1230.1,228.9 1233.4,229.1 1236.7,229.3 1240,229.5 1243.3,229.7 1246.6,229.8 1249.8,230 1253.1,230.2 1256.4,230.3 1259.7,230.5 1263,230.6 1266.3,230.7"/>
<polyline points="1084.2,231.1 1087.1,231.1 1089.3,230.7 1091.1,229.6 1092.6,229 1094.4,229.4 1096.2,230.2 1098.8,230.9 1106.1,231.1 1120.8,231.1 1135.4,231.1 1142.7,231.1 1144.5,231.1 1145.7,231.1 1146.9,231.1 1148.1,231.1 1149.3,231.1 1150.6,231.2 1151.8,231.2 1153,231.2 1154.2,231.2 1155.4,231.3 1156.6,231.3 1157.8,231.4 1159,231.5 1160.2,231.7 1161.4,231.9 1162.6,232.2 1163.8,232.6 1165,233.1 1166.2,233.7 1167.4,234.4 1168.7,235.3 1169.9,236.2 1171.1,237.3 1172.3,238.5 1173.5,239.7 1174.7,240.9 1175.9,242.2 1177.1,243.3 1178.3,244.3 1179.5,245.1 1180.7,245.7 1181.9,246 1183.1,245.9 1184.3,244 1185.6,240.4 1186.8,236.6 1188,233.3 1189.2,230.7 1190.4,228.5 1191.6,226.2 1192.8,223.8 1194,221.2 1195.2,218.9 1196.4,217.3 1197.6,216.9 1198.8,217.2 1200,218 1201.2,219.2 1202.4,220.7 1203.7,222.3 1204.9,224 1206.1,225.5 1207.3,226.8 1208.5,227.9 1209.7,228.7 1210.9,229.4 1212.1,229.9 1213.3,230.2 1214.5,230.4 1215.7,230.5 1216.9,230.6 1220.2,230.7 1223.5,230.8 1226.8,230.8 1230.1,230.8 1233.4,230.8 1236.7,230.9 1240,230.9 1243.3,230.9 1246.6,230.9 1249.8,231 1253.1,231 1256.4,231 1259.7,231 1263,231 1266.3,231"/>
<polyline points="1084.2,230.8 1087.1,230.8 1089.3,230.4 1091.1,229.2 1092.6,228.7 1094.4,229 1096.2,229.8 1098.8,230.6 1106.1,230.8 1120.8,230.8 1135.4,230.8 1142.7,230.8 1144.5,230.8 1145.7,230.8 1146.9,230.8 1148.1,230.8 1149.3,230.8 1150.6,230.8 1151.8,230.8 1153,230.8 1154.2,230.9 1155.4,230.9 1156.6,231 1157.8,231.1 1159,231.2 1160.2,231.4 1161.4,231.7 1162.6,232 1163.8,232.5 1165,233 1166.2,233.7 1167.4,234.6 1168.7,235.5 1169.9,236.7 1171.1,237.9 1172.3,239.3 1173.5,240.7 1174.7,242.1 1175.9,243.5 1177.1,244.8 1178.3,246 1179.5,246.9 1180.7,247.6 1181.9,248 1183.1,247.9 1184.3,245.7 1185.6,241.6 1186.8,237.2 1188,233.5 1189.2,231 1190.4,229.3 1191.6,227.9 1192.8,226.6 1194,225.2 1195.2,224 1196.4,223.1 1197.6,222.7 1198.8,222.5 1200,222.7 1201.2,223 1202.4,223.6 1203.7,224.2 1204.9,224.8 1206.1,225.4 1207.3,225.9 1208.5,226.3 1209.7,226.6 1210.9,226.9 1212.1,227.1 1213.3,227.3 1214.5,227.4 1215.7,227.5 1216.9,227.6 1220.2,227.7 1223.5,227.9 1226.8,228 1230.1,228.2 1233.4,228.4 1236.7,228.6 1240,228.8 1243.3,229 1246.6,229.1 1249.8,229.3 1253.1,229.5 1256.4,229.6 1259.7,229.8 1263,229.9 1266.3,230.1"/>
<polyline points="1084.2,230.9 1087.1,230.9 1089.3,230.5 1091.1,229.4 1092.6,228.8 1094.4,229.2 1096.2,229.9 1098.8,230.7 1106.1,230.9 1120.8,230.9 1135.4,230.9 1142.7,230.9 1144.5,230.9 1145.7,230.9 1146.9,230.9 1148.1,230.9 1149.3,230.9 1150.6,230.9 1151.8,230.9 1153,231 1154.2,231 1155.4,231 1156.6,231.1 1157.8,231.2 1159,231.3 1160.2,231.5 1161.4,231.7 1162.6,232 1163.8,232.4 1165,232.9 1166.2,233.5 1167.4,234.2 1168.7,235 1169.9,236 1171.1,237 1172.3,238.1 1173.5,239.3 1174.7,240.4 1175.9,241.5 1177.1,242.6 1178.3,243.5 1179.5,244.1 1180.7,244.6 1181.9,244.8 1183.1,244.3 1184.3,241.9 1185.6,238.3 1186.8,234.8 1188,231.9 1189.2,229.6 1190.4,227.5 1191.6,225.3 1192.8,223 1194,220.6 1195.2,218.6 1196.4,217.3 1197.6,217.1 1198.8,217.4 1200,218.2 1201.2,219.3 1202.4,220.7 1203.7,222.1 1204.9,223.5 1206.1,224.8 1207.3,225.9 1208.5,226.8 1209.7,227.5 1210.9,228.1 1212.1,228.4 1213.3,228.7 1214.5,228.9 1215.7,229 1216.9,229.1 1220.2,229.2 1223.5,229.3 1226.8,229.4 1230.1,229.5 1233.4,229.6 1236.7,229.7 1240,229.8 1243.3,229.9 1246.6,230 1249.8,230.1 1253.1,230.2 1256.4,230.3 1259.7,230.4 1263,230.4 1266.3,230.5"/>
<polyline points="1084.2,232.1 1087.1,232.1 1089.3,231.7 1091.1,230.6 1092.6,230 1094.4,230.4 1096.2,231.1 1098.8,231.9 1106.1,232.1 1120.8,232.1 1135.4,232.1 1142.7,232.1 1144.5,232.1 1145.7,232.1 1146.9,232.1 1148.1,232.1 1149.3,232.1 1150.6,232.1 1151.8,232.1 1153,232.2 1154.2,232.2 1155.4,232.2 1156.6,232.3 1157.8,232.5 1159,232.7 1160.2,233.1 1161.4,233.5 1162.6,233.8 1163.8,233.8 1165,233.3 1166.2,232.8 1167.4,233.3 1168.7,235.9 1169.9,240.7 1171.1,246.7 1172.3,252.4 1173.5,257.1 1174.7,260.3 1175.9,262.4 1177.1,263.2 1178.3,261.8 1179.5,256.1 1180.7,248.5 1181.9,241.4 1183.1,236.4 1184.3,233.2 1185.6,231.1 1186.8,228.9 1188,225.8 1189.2,221.3 1190.4,215.2 1191.6,208.1 1192.8,200.9 1194,195.1 1195.2,191.9 1196.4,191.8 1197.6,193.1 1198.8,195.5 1200,198.8 1201.2,202.7 1202.4,206.9 1203.7,211.1 1204.9,215.2 1206.1,218.8 1207.3,222 1208.5,224.7 1209.7,226.8 1210.9,228.4 1212.1,229.6 1213.3,230.4 1214.5,230.9 1215.7,231.1 1216.9,231.1 1220.2,229.8 1223.5,226.7 1226.8,222.9 1230.1,221.1 1233.4,222.2 1236.7,224.8 1240,227.7 1243.3,230 1246.6,231.2 1249.8,231.8 1253.1,232 1256.4,232.1 1259.7,232.1 1263,232.1 1266.3,232.1"/>
<polyline points="1084.2,230.9 1087.1,230.9 1089.3,230.5 1091.1,229.3 1092.6,228.8 1094.4,229.1 1096.2,229.9 1098.8,230.7 1106.1,230.9 1120.8,230.9 1135.4,230.9 1142.7,230.9 1144.5,230.9 1145.7,230.9 1146.9,230.9 1148.1,230.9 1149.3,230.9 1150.6,230.9 1151.8,230.9 1153,230.9 1154.2,231 1155.4,231 1156.6,231.2 1157.8,231.4 1159,231.7 1160.2,232.3 1161.4,233 1162.6,233.9 1163.8,234.6 1165,234.9 1166.2,235.2 1167.4,236.3 1168.7,239.7 1169.9,246.1 1171.1,254.7 1172.3,263.7 1173.5,271.6 1174.7,277.7 1175.9,281.8 1177.1,284.1 1178.3,284 1179.5,276.9 1180.7,264.6 1181.9,251.6 1183.1,241.5 1184.3,235.2 1185.6,231.6 1186.8,229.3 1188,226.9 1189.2,223.5 1190.4,219 1191.6,213.3 1192.8,207.2 1194,201.8 1195.2,198.1 1196.4,197.1 1197.6,197.8 1198.8,199.5 1200,201.9 1201.2,205 1202.4,208.4 1203.7,211.9 1204.9,215.4 1206.1,218.6 1207.3,221.4 1208.5,223.8 1209.7,225.8 1210.9,227.3 1212.1,228.4 1213.3,229.2 1214.5,229.8 1215.7,230.1 1216.9,230.3 1220.2,230.1 1223.5,229 1226.8,227.5 1230.1,226.7 1233.4,226.9 1236.7,227.9 1240,229 1243.3,229.9 1246.6,230.5 1249.8,230.8 1253.1,230.8 1256.4,230.9 1259.7,230.9 1263,230.9 1266.3,230.9"/>
<polyline points="1084.2,231.1 1087.1,231 1089.3,230.6 1091.1,229.5 1092.6,228.9 1094.4,229.3 1096.2,230.1 1098.8,230.8 1106.1,231.1 1120.8,231.1 1135.4,231.1 1142.7,231.1 1144.5,231.1 1145.7,231.1 1146.9,231.1 1148.1,231.1 1149.3,231.1 1150.6,231.1 1151.8,231.1 1153,231.1 1154.2,231.2 1155.4,231.2 1156.6,231.4 1157.8,231.6 1159,232 1160.2,232.5 1161.4,233.1 1162.6,233.5 1163.8,233.6 1165,233.2 1166.2,233.1 1167.4,234.5 1168.7,238.7 1169.9,245.4 1171.1,253.1 1172.3,260.2 1173.5,265.8 1174.7,269.8 1175.9,272.1 1177.1,272.9 1178.3,269.7 1179.5,261.2 1180.7,250.8 1181.9,241.9 1183.1,235.9 1184.3,232.3 1185.6,230.1 1186.8,227.9 1188,225 1189.2,220.8 1190.4,215.5 1191.6,209.3 1192.8,203.4 1194,198.9 1195.2,196.8 1196.4,197.1 1197.6,198.4 1198.8,200.6 1200,203.5 1201.2,206.9 1202.4,210.5 1203.7,214 1204.9,217.4 1206.1,220.4 1207.3,223 1208.5,225.2 1209.7,226.9 1210.9,228.1 1212.1,229.1 1213.3,229.7 1214.5,230 1215.7,230.1 1216.9,229.9 1220.2,228.1 1223.5,224.1 1226.8,219.5 1230.1,217.6 1233.4,219.1 1236.7,222.4 1240,225.9 1243.3,228.6 1246.6,230.1 1249.8,230.7 1253.1,231 1256.4,231 1259.7,231.1 1263,231.1 1266.3,231.1"/>
</g>
<rect x="1083.98" y="125.1" width="183.7" height="212.1" fill="none" stroke="#000" stroke-width="2.4"/>
<path d="M1072.98 160.3H1083.98M1072.98 195.75H1083.98M1072.98 231.2H1083.98M1072.98 266.65H1083.98M1072.98 302.1H1083.98M1120.75 337.2V348.2M1175.61 337.2V348.2M1230.46 337.2V348.2" stroke="#000" stroke-width="2.4" fill="none"/>
<text transform="translate(1100.39,384.1) scale(0.97,1)" x="0.85 22" font-size="34.01" fill="#000">10</text>
<text transform="translate(1155.25,384.1) scale(0.95,1)" x="0.85 22.69" font-size="34.01" fill="#000">25</text>
<text transform="translate(1210.1,384.1) scale(0.99,1)" x="0.8 21.33" font-size="34.01" fill="#000">40</text>
<text transform="translate(1105.59,429.9) scale(1.07,1)" x="1.09 12.1 20.56 48.86 67.06 67.06 86.84 114.83" font-size="33.55" fill="#000">time, ms</text>
<text transform="translate(126.41,172.5) scale(0.98,1)" x="0.8 21.35 32.28" font-size="34.01" fill="#000">1.0</text>
<text transform="translate(126.41,207.95) scale(0.97,1)" x="1.04 21.52 32.42" font-size="34.01" fill="#000">0.5</text>
<text transform="translate(126.41,243.4) scale(0.99,1)" x="0.77 20.86 31.49" font-size="34.01" fill="#000">0.0</text>
<text transform="translate(99.6,278.85) scale(1.05,1)" x="2.88 25.9 45.22 54.97" font-size="34.01" fill="#000">−0.5</text>
<text transform="translate(99.6,314.3) scale(1.05,1)" x="2.8 25.49 44.92 54.7" font-size="34.01" fill="#000">−1.0</text>
<text transform="translate(80,259) rotate(-90) scale(1.02,1)" x="-2.3" font-size="34.59" fill="#000">mV</text>
<path d="M1.6 511.1H1296.8" stroke="#444" stroke-width="3.6"/>
<text transform="translate(35.8,586.3) scale(0.92,1)" x="-5.44" font-size="66.28" fill="#000" stroke="#000" stroke-width="1.4" stroke-linejoin="round">B</text>
<rect x="236.2" y="574.1" width="93.8" height="897.1" fill="#d4dfe6"/>
<rect x="330" y="574.1" width="93.4" height="897.1" fill="#f9e1d8"/>
<rect x="423.4" y="574.1" width="94.4" height="897.1" fill="#d5e2db"/>
<rect x="576.6" y="574.1" width="94.3" height="897.1" fill="#d4dfe6"/>
<rect x="670.9" y="574.1" width="93.5" height="897.1" fill="#f9e1d8"/>
<rect x="764.4" y="574.1" width="94.6" height="897.1" fill="#d5e2db"/>
<rect x="915.2" y="574.1" width="94.2" height="897.1" fill="#d4dfe6"/>
<rect x="1009.4" y="574.1" width="93.4" height="897.1" fill="#f9e1d8"/>
<rect x="1102.8" y="574.1" width="94.2" height="897.1" fill="#d5e2db"/>
<rect x="256.1" y="1229.1" width="54.6" height="97.4" fill="#86a9b6" stroke="#111" stroke-width="2.8"/>
<path d="M283.4 1229.1V1227.1M283.4 1326.5V1353.1M255.4 1227.1H311.4M255.4 1353.1H311.4M256.1 1271.5H310.7" stroke="#111" stroke-width="2.8" fill="none"/>
<rect x="347.3" y="1264.8" width="54.6" height="89.4" fill="#efad92" stroke="#111" stroke-width="2.8"/>
<path d="M374.6 1264.8V1145.8M374.6 1354.2V1406.7M346.6 1145.8H402.6M346.6 1406.7H402.6M347.3 1323.7H401.9" stroke="#111" stroke-width="2.8" fill="none"/>
<rect x="438.5" y="1338.1" width="54.6" height="36.9" fill="#8db19d" stroke="#111" stroke-width="2.8"/>
<path d="M465.8 1338.1V1290.2M465.8 1375V1424.7M437.8 1290.2H493.8M437.8 1424.7H493.8M438.5 1349.6H493.1" stroke="#111" stroke-width="2.8" fill="none"/>
<rect x="598.3" y="1249.4" width="54.6" height="92.5" fill="#86a9b6" stroke="#111" stroke-width="2.8"/>
<path d="M625.6 1249.4V1145M625.6 1341.9V1388.8M597.6 1145H653.6M597.6 1388.8H653.6M598.3 1302.6H652.9" stroke="#111" stroke-width="2.8" fill="none"/>
<rect x="689.5" y="1258.7" width="54.6" height="98.7" fill="#efad92" stroke="#111" stroke-width="2.8"/>
<path d="M716.8 1258.7V1136.9M716.8 1357.4V1415.4M688.8 1136.9H744.8M688.8 1415.4H744.8M689.5 1336.6H744.1" stroke="#111" stroke-width="2.8" fill="none"/>
<rect x="780.7" y="1303.3" width="54.6" height="95.9" fill="#8db19d" stroke="#111" stroke-width="2.8"/>
<path d="M808 1303.3V1199M808 1399.2V1432.5M780 1199H836M780 1432.5H836M780.7 1358.1H835.3" stroke="#111" stroke-width="2.8" fill="none"/>
<rect x="940.5" y="1210.1" width="54.6" height="113.6" fill="#86a9b6" stroke="#111" stroke-width="2.8"/>
<path d="M967.8 1210.1V1093M967.8 1323.7V1360.4M939.8 1093H995.8M939.8 1360.4H995.8M940.5 1244H995.1" stroke="#111" stroke-width="2.8" fill="none"/>
<rect x="1031.7" y="1217.2" width="54.6" height="142" fill="#efad92" stroke="#111" stroke-width="2.8"/>
<path d="M1059 1217.2V1154.5M1059 1359.2V1395.9M1031 1154.5H1087M1031 1395.9H1087M1031.7 1330.8H1086.3" stroke="#111" stroke-width="2.8" fill="none"/>
<rect x="1122.9" y="1255.8" width="54.6" height="131.3" fill="#8db19d" stroke="#111" stroke-width="2.8"/>
<path d="M1150.2 1255.8V1129.2M1150.2 1387.1V1427.8M1122.2 1129.2H1178.2M1122.2 1427.8H1178.2M1122.9 1326.8H1177.5" stroke="#111" stroke-width="2.8" fill="none"/>
<g fill="rgba(12,97,136,0.63)"><circle cx="277.8" cy="1226.7" r="4"/><circle cx="283.6" cy="1232.9" r="4"/><circle cx="283.6" cy="1250.2" r="4"/><circle cx="276.2" cy="1257.6" r="4"/><circle cx="283.6" cy="1260.2" r="4"/><circle cx="275.5" cy="1271.5" r="4"/><circle cx="283.6" cy="1271.5" r="4"/><circle cx="283.6" cy="1305" r="4"/><circle cx="285.5" cy="1315.4" r="4"/><circle cx="282.7" cy="1322.3" r="4"/><circle cx="283.6" cy="1330" r="4"/><circle cx="277.8" cy="1336.2" r="4"/><circle cx="283.6" cy="1342.2" r="4"/><circle cx="276.2" cy="1350.1" r="4"/><circle cx="283.6" cy="1353.1" r="4"/><circle cx="283.5" cy="1033.4" r="4"/><circle cx="283.5" cy="1060.8" r="4"/><circle cx="283.5" cy="1078.7" r="4"/><circle cx="283.3" cy="739.2" r="4"/></g>
<g fill="rgba(242,85,20,0.6)"><circle cx="374.5" cy="1145.8" r="4"/><circle cx="368.2" cy="1167" r="4"/><circle cx="374.9" cy="1171.6" r="4"/><circle cx="374.5" cy="1239.8" r="4"/><circle cx="374.5" cy="1290.7" r="4"/><circle cx="367.5" cy="1298.8" r="4"/><circle cx="374.5" cy="1302.7" r="4"/><circle cx="374.5" cy="1311.5" r="4"/><circle cx="374.5" cy="1323.7" r="4"/><circle cx="368" cy="1337.6" r="4"/><circle cx="374.5" cy="1342.2" r="4"/><circle cx="380.7" cy="1336.9" r="4"/><circle cx="369.8" cy="1350.3" r="4"/><circle cx="374.5" cy="1356.5" r="4"/><circle cx="366.8" cy="1370" r="4"/><circle cx="374.5" cy="1372.7" r="4"/><circle cx="374.5" cy="1395.8" r="4"/><circle cx="374.5" cy="1406.7" r="4"/></g>
<g fill="rgba(22,118,66,0.64)"><circle cx="465.7" cy="1244" r="4"/><circle cx="465.7" cy="1252.1" r="4"/><circle cx="465.7" cy="1290.2" r="4"/><circle cx="465.7" cy="1328.3" r="4"/><circle cx="455.3" cy="1336.2" r="4"/><circle cx="465.7" cy="1340.4" r="4"/><circle cx="457.2" cy="1343.8" r="4"/><circle cx="475.7" cy="1342.7" r="4"/><circle cx="465.7" cy="1348.5" r="4"/><circle cx="470.4" cy="1348.9" r="4"/><circle cx="465.7" cy="1356.5" r="4"/><circle cx="458.8" cy="1369.3" r="4"/><circle cx="466.9" cy="1367.4" r="4"/><circle cx="473.8" cy="1374.6" r="4"/><circle cx="460.4" cy="1380.4" r="4"/><circle cx="465.7" cy="1386.1" r="4"/><circle cx="465.7" cy="1406.9" r="4"/><circle cx="465.7" cy="1424.7" r="4"/></g>
<g fill="rgba(12,97,136,0.63)"><circle cx="625.5" cy="1145" r="4"/><circle cx="625.5" cy="1165.1" r="4"/><circle cx="617.8" cy="1188.2" r="4"/><circle cx="625.5" cy="1191.2" r="4"/><circle cx="625.5" cy="1244.8" r="4"/><circle cx="625.5" cy="1254.5" r="4"/><circle cx="617.8" cy="1266.1" r="4"/><circle cx="625.5" cy="1269.1" r="4"/><circle cx="625.5" cy="1292.2" r="4"/><circle cx="625.5" cy="1302.6" r="4"/><circle cx="625.5" cy="1326.4" r="4"/><circle cx="612.1" cy="1339.6" r="4"/><circle cx="625.5" cy="1337.3" r="4"/><circle cx="637.7" cy="1336.8" r="4"/><circle cx="617.4" cy="1346" r="4"/><circle cx="625.5" cy="1346" r="4"/><circle cx="632.4" cy="1343" r="4"/><circle cx="625.5" cy="1377" r="4"/><circle cx="625.5" cy="1388.8" r="4"/></g>
<g fill="rgba(242,85,20,0.6)"><circle cx="716.8" cy="1136.9" r="4"/><circle cx="716.8" cy="1172.7" r="4"/><circle cx="716.8" cy="1213.6" r="4"/><circle cx="716.8" cy="1234.4" r="4"/><circle cx="716.8" cy="1252.4" r="4"/><circle cx="708.7" cy="1265.6" r="4"/><circle cx="716.8" cy="1267.5" r="4"/><circle cx="716.8" cy="1278.3" r="4"/><circle cx="716.8" cy="1299.1" r="4"/><circle cx="716.8" cy="1336.8" r="4"/><circle cx="704.1" cy="1347.7" r="4"/><circle cx="708.7" cy="1353.4" r="4"/><circle cx="716.8" cy="1353.4" r="4"/><circle cx="722.5" cy="1348.8" r="4"/><circle cx="716.8" cy="1361.5" r="4"/><circle cx="716.8" cy="1371.9" r="4"/><circle cx="716.8" cy="1381.2" r="4"/><circle cx="715.6" cy="1407.7" r="4"/><circle cx="716.8" cy="1415.4" r="4"/></g>
<g fill="rgba(22,118,66,0.64)"><circle cx="808.1" cy="1199" r="4"/><circle cx="808.1" cy="1224.7" r="4"/><circle cx="808.1" cy="1251" r="4"/><circle cx="802.3" cy="1291.7" r="4"/><circle cx="808.1" cy="1297.5" r="4"/><circle cx="808.1" cy="1309.5" r="4"/><circle cx="808.1" cy="1325" r="4"/><circle cx="808.1" cy="1337.7" r="4"/><circle cx="800" cy="1356.9" r="4"/><circle cx="808.1" cy="1359.2" r="4"/><circle cx="808.1" cy="1378.9" r="4"/><circle cx="808.1" cy="1386.9" r="4"/><circle cx="793" cy="1396.2" r="4"/><circle cx="800" cy="1400.8" r="4"/><circle cx="808.1" cy="1402" r="4"/><circle cx="815" cy="1397.3" r="4"/><circle cx="808.1" cy="1411.7" r="4"/><circle cx="808.1" cy="1420.9" r="4"/><circle cx="808.1" cy="1432.5" r="4"/></g>
<g fill="rgba(12,97,136,0.63)"><circle cx="967.5" cy="1093" r="4"/><circle cx="967.5" cy="1162.1" r="4"/><circle cx="967.5" cy="1196.6" r="4"/><circle cx="967.5" cy="1223.8" r="4"/><circle cx="959.2" cy="1231.4" r="4"/><circle cx="967.5" cy="1232.6" r="4"/><circle cx="959.2" cy="1243.2" r="4"/><circle cx="967.5" cy="1244.9" r="4"/><circle cx="967.5" cy="1268.1" r="4"/><circle cx="967.5" cy="1279.9" r="4"/><circle cx="967.5" cy="1310.2" r="4"/><circle cx="964.4" cy="1320.8" r="4"/><circle cx="959.2" cy="1326.8" r="4"/><circle cx="967.5" cy="1328.4" r="4"/><circle cx="967.5" cy="1346.2" r="4"/><circle cx="962.1" cy="1354.4" r="4"/><circle cx="967.5" cy="1360.4" r="4"/><circle cx="967.8" cy="1023" r="4"/><circle cx="967.5" cy="897.4" r="4"/></g>
<g fill="rgba(242,85,20,0.6)"><circle cx="1057.4" cy="1156.9" r="4"/><circle cx="1064.5" cy="1154.5" r="4"/><circle cx="1058.6" cy="1164.7" r="4"/><circle cx="1058.6" cy="1191.2" r="4"/><circle cx="1058.6" cy="1244" r="4"/><circle cx="1056" cy="1270.5" r="4"/><circle cx="1058.6" cy="1278.3" r="4"/><circle cx="1051.2" cy="1330.8" r="4"/><circle cx="1058.6" cy="1333.2" r="4"/><circle cx="1064.5" cy="1327.2" r="4"/><circle cx="1051.2" cy="1349.7" r="4"/><circle cx="1058.6" cy="1351.6" r="4"/><circle cx="1051.2" cy="1358" r="4"/><circle cx="1058.6" cy="1360.4" r="4"/><circle cx="1058.6" cy="1371.5" r="4"/><circle cx="1057.4" cy="1387.6" r="4"/><circle cx="1065" cy="1385.7" r="4"/><circle cx="1058.6" cy="1395.8" r="4"/><circle cx="1059" cy="943.6" r="4"/></g>
<g fill="rgba(22,118,66,0.64)"><circle cx="1150.1" cy="1129.2" r="4"/><circle cx="1150.1" cy="1218.4" r="4"/><circle cx="1150.1" cy="1236.9" r="4"/><circle cx="1141.9" cy="1278.3" r="4"/><circle cx="1150.1" cy="1279.9" r="4"/><circle cx="1156.8" cy="1275.2" r="4"/><circle cx="1150.1" cy="1297.2" r="4"/><circle cx="1150.1" cy="1326.8" r="4"/><circle cx="1150.1" cy="1346.2" r="4"/><circle cx="1150.1" cy="1355.6" r="4"/><circle cx="1150.1" cy="1364.6" r="4"/><circle cx="1146.6" cy="1383.5" r="4"/><circle cx="1152.5" cy="1389.2" r="4"/><circle cx="1144.7" cy="1393.5" r="4"/><circle cx="1150.1" cy="1399.4" r="4"/><circle cx="1141.9" cy="1426.6" r="4"/><circle cx="1150.1" cy="1427.8" r="4"/><circle cx="1150" cy="987" r="4"/><circle cx="1150" cy="774.8" r="4"/></g>
<text transform="translate(288.65,718.8) scale(1.02,1)" x="0.66 22.09 44.59 63.38 73.16 92.2 111.25 130.13 149.35" font-size="32.42" fill="#000">p=0.00014</text>
<path d="M284.8 731.2H464.5" stroke="#111" stroke-width="2.2"/>
<text transform="translate(263.56,844.6) scale(1.03,1)" x="0.58 21.82 44.13 62.79 72.45 91.16 110.22" font-size="32.42" fill="#000">p=0.014</text>
<path d="M284.8 858.1H375.7" stroke="#111" stroke-width="2.2"/>
<text transform="translate(353.22,1013.8) scale(1.02,1)" x="0.64 22 44.45 63.2 72.94 91.76 110.97" font-size="32.42" fill="#000">p=0.013</text>
<path d="M373.9 1026.7H464.5" stroke="#111" stroke-width="2.2"/>
<text transform="translate(640.7,934.9) scale(1.03,1)" x="0.6 21.89 44.26 62.96 72.65 91.58 110.51 129.38" font-size="32.42" fill="#000">p=0.0047</text>
<path d="M627 947.7H806.6" stroke="#111" stroke-width="2.2"/>
<text transform="translate(695.07,1013.9) scale(1.03,1)" x="0.53 21.66 43.86 62.45 72.03 90.86 109.51" font-size="32.42" fill="#000">p=0.039</text>
<path d="M716 1026.8H806.6" stroke="#111" stroke-width="2.2"/>
<text transform="translate(948.17,845.5) scale(1.03,1)" x="0.53 21.66 43.86 62.45 72.03 90.86 109.51" font-size="32.42" fill="#000">p=0.039</text>
<path d="M968.9 858.1H1059.9" stroke="#111" stroke-width="2.2"/>
<rect x="533.9" y="616" width="365.8" height="180" rx="4" fill="#fff" stroke="#6b6b6b" stroke-width="3"/>
<rect x="560.1" y="652.8" width="52.3" height="17.3" fill="#83a7b5" stroke="#111" stroke-width="2.6"/>
<text transform="translate(633.39,671.2) scale(1.04,1)" x="-0.55 22.22 38.9 47.97 64.66 64.66 82.73 90.32 113.48 130.32 146.54 163.23 173.29" font-size="27.89" fill="#000">Motor imagery</text>
<rect x="560.1" y="693.5" width="52.3" height="17.3" fill="#efab8f" stroke="#111" stroke-width="2.6"/>
<text transform="translate(636.08,711.5) scale(1.02,1)" x="-0.53 10.9 27.56 43.21 52.83 60.08 67.15 67.15 91.75 99.65 123.19 140.34 156.88 173.85 184.13" font-size="27.89" fill="#000">Tactile imagery</text>
<rect x="560.1" y="733.7" width="52.3" height="17.3" fill="#89af9b" stroke="#111" stroke-width="2.6"/>
<text transform="translate(636.08,752) scale(1.02,1)" x="-0.55 10.85 27.46 43.08 52.67 59.9 66.94 66.94 90.95 105.7 115.29 123.15 147.84 164.44 170.39 188.3 197.89 204.82 221.11" font-size="27.89" fill="#000">Tactile stimulation</text>
<rect x="203.5" y="574.1" width="1026.2" height="897.1" fill="none" stroke="#000" stroke-width="2.2"/>
<path d="M193 680.3H203.5M193 849.3H203.5M193 1018.3H203.5M193 1187.3H203.5M193 1356.3H203.5M374.6 1471.2V1481.7M716.8 1471.2V1481.7M1059 1471.2V1481.7" stroke="#000" stroke-width="2" fill="none"/>
<text transform="translate(124.11,692.5) scale(1,1)" x="0.73 20.22 39.72" font-size="32.42" fill="#000">800</text>
<text transform="translate(124.11,861.5) scale(1,1)" x="0.65 20 39.34" font-size="32.42" fill="#000">600</text>
<text transform="translate(124.11,1030.5) scale(0.99,1)" x="0.76 20.33 39.89" font-size="32.42" fill="#000">400</text>
<text transform="translate(124.11,1199.5) scale(0.98,1)" x="0.47 20.67 40.47" font-size="32.42" fill="#000">200</text>
<text transform="translate(162.92,1368.5) scale(0.99,1)" x="0.76" font-size="32.42" fill="#000">0</text>
<text transform="translate(344.41,1516) scale(0.88,1)" x="0.11 21.8 47.18" font-size="32.42" fill="#000">FDS</text>
<text transform="translate(691.79,1516) scale(0.91,1)" x="-0.22 20.67 45.63" font-size="32.32" fill="#000">FDI</text>
<text transform="translate(1023.67,1516) scale(0.96,1)" x="0.14 22.54 46.75" font-size="32.32" fill="#000">ADM</text>
<text transform="translate(662.33,1558.3) scale(1.01,1)" x="1.45 29.98 48.57 64.14 81.43 89.62" font-size="31.98" fill="#000">muscle</text>
<text transform="translate(65.4,1213.6) rotate(-90) scale(0.95,1)" x="-3.8" font-size="46.37" fill="#000" letter-spacing="2.17">MEPs amplitude, %</text>
</svg></body></html>
